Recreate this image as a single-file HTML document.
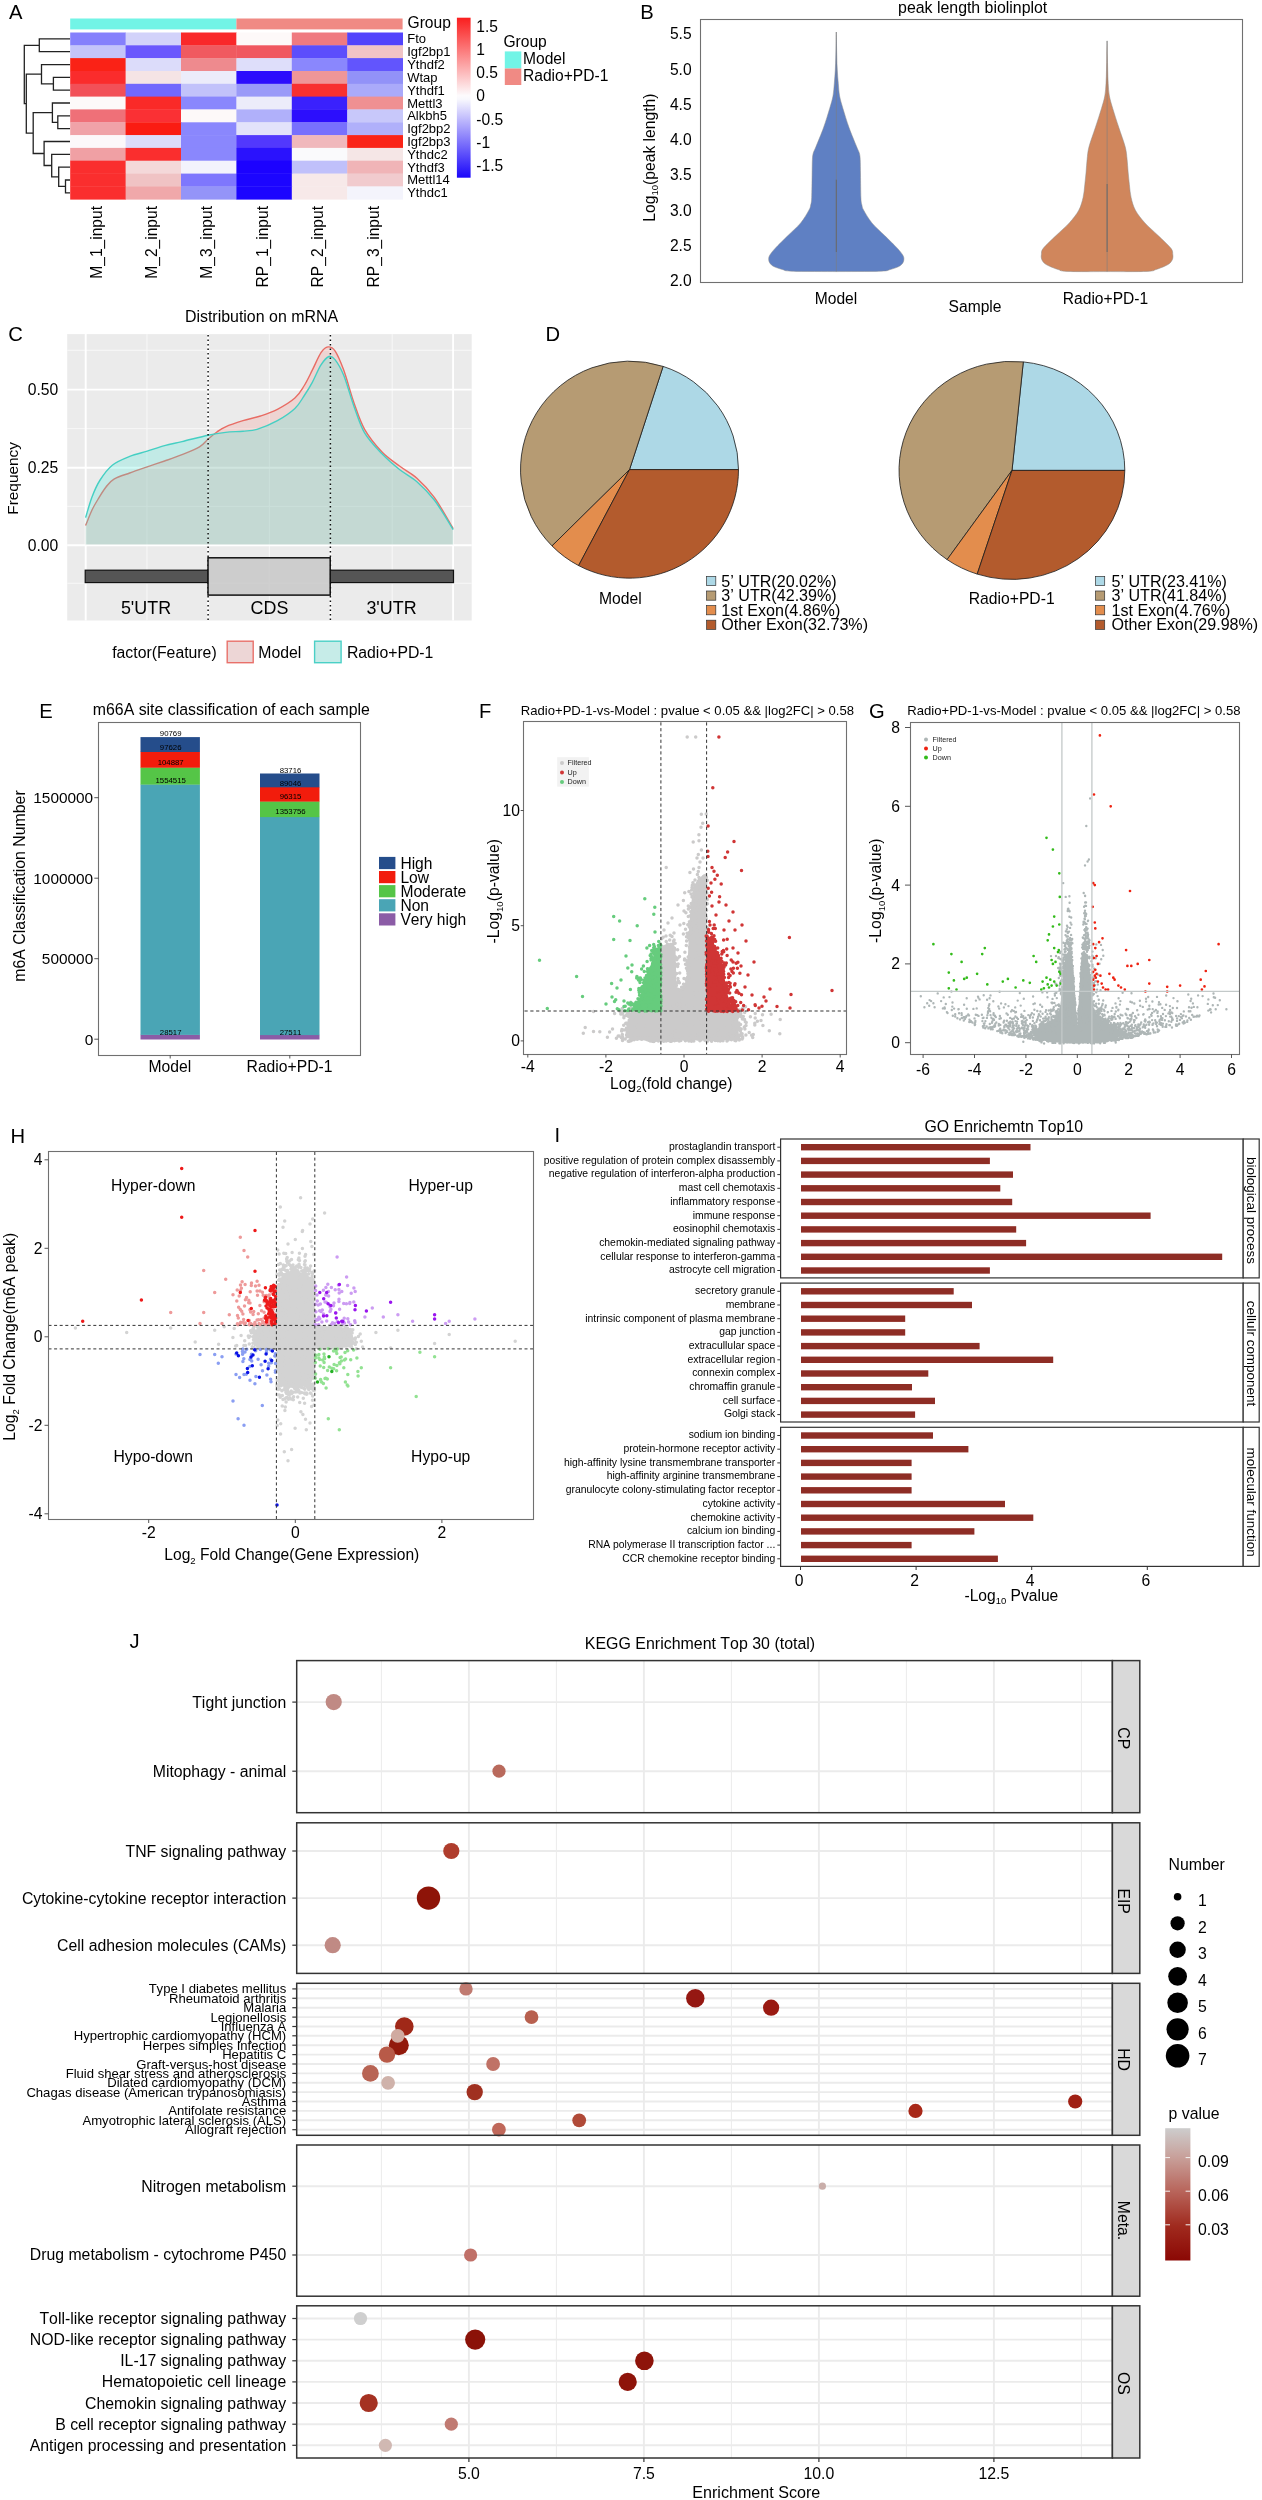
<!DOCTYPE html>
<html><head><meta charset="utf-8"><style>
html,body{margin:0;padding:0;background:#fff;}
svg{display:block;filter:blur(0.35px);font-family:"Liberation Sans",sans-serif;font-kerning:none;font-variant-ligatures:none;}
</style></head><body>
<svg width="1262" height="2500" viewBox="0 0 1262 2500">
<rect width="1262" height="2500" fill="#fff"/>
<text x="8.9" y="18.6" font-size="20.2">A</text>
<rect x="70.2" y="18.5" width="166.2" height="10.9" fill="#72f4e6"/>
<rect x="236.4" y="18.5" width="166.2" height="10.9" fill="#f08a84"/>
<rect x="70.2" y="32.5" width="55.8" height="13.2" fill="#8580fc"/>
<rect x="125.6" y="32.5" width="55.8" height="13.2" fill="#d2d2fa"/>
<rect x="181" y="32.5" width="55.8" height="13.2" fill="#f9282a"/>
<rect x="236.4" y="32.5" width="55.8" height="13.2" fill="#fdf9f9"/>
<rect x="291.8" y="32.5" width="55.8" height="13.2" fill="#ef7a80"/>
<rect x="347.2" y="32.5" width="55.8" height="13.2" fill="#5243fc"/>
<rect x="70.2" y="45.3" width="55.8" height="13.2" fill="#c4c4fa"/>
<rect x="125.6" y="45.3" width="55.8" height="13.2" fill="#6a57fd"/>
<rect x="181" y="45.3" width="55.8" height="13.2" fill="#f05a60"/>
<rect x="236.4" y="45.3" width="55.8" height="13.2" fill="#f05860"/>
<rect x="291.8" y="45.3" width="55.8" height="13.2" fill="#5c4efc"/>
<rect x="347.2" y="45.3" width="55.8" height="13.2" fill="#f1c4c6"/>
<rect x="70.2" y="58.1" width="55.8" height="13.2" fill="#fa2216"/>
<rect x="125.6" y="58.1" width="55.8" height="13.2" fill="#dcdcfa"/>
<rect x="181" y="58.1" width="55.8" height="13.2" fill="#ee8a8e"/>
<rect x="236.4" y="58.1" width="55.8" height="13.2" fill="#dedefa"/>
<rect x="291.8" y="58.1" width="55.8" height="13.2" fill="#8a87fd"/>
<rect x="347.2" y="58.1" width="55.8" height="13.2" fill="#6255fd"/>
<rect x="70.2" y="71" width="55.8" height="13.2" fill="#fa2c2c"/>
<rect x="125.6" y="71" width="55.8" height="13.2" fill="#f5e4e5"/>
<rect x="181" y="71" width="55.8" height="13.2" fill="#ececfa"/>
<rect x="236.4" y="71" width="55.8" height="13.2" fill="#2c0dfd"/>
<rect x="291.8" y="71" width="55.8" height="13.2" fill="#ef9698"/>
<rect x="347.2" y="71" width="55.8" height="13.2" fill="#9292f8"/>
<rect x="70.2" y="83.8" width="55.8" height="13.2" fill="#f25058"/>
<rect x="125.6" y="83.8" width="55.8" height="13.2" fill="#7268fd"/>
<rect x="181" y="83.8" width="55.8" height="13.2" fill="#c2c2fa"/>
<rect x="236.4" y="83.8" width="55.8" height="13.2" fill="#9a9af8"/>
<rect x="291.8" y="83.8" width="55.8" height="13.2" fill="#f83030"/>
<rect x="347.2" y="83.8" width="55.8" height="13.2" fill="#aaaafa"/>
<rect x="70.2" y="96.6" width="55.8" height="13.2" fill="#fdf9f9"/>
<rect x="125.6" y="96.6" width="55.8" height="13.2" fill="#fa2a28"/>
<rect x="181" y="96.6" width="55.8" height="13.2" fill="#8a87fd"/>
<rect x="236.4" y="96.6" width="55.8" height="13.2" fill="#ececfa"/>
<rect x="291.8" y="96.6" width="55.8" height="13.2" fill="#3a21fd"/>
<rect x="347.2" y="96.6" width="55.8" height="13.2" fill="#ef9092"/>
<rect x="70.2" y="109.4" width="55.8" height="13.2" fill="#ef7078"/>
<rect x="125.6" y="109.4" width="55.8" height="13.2" fill="#fa3034"/>
<rect x="181" y="109.4" width="55.8" height="13.2" fill="#fdf9f9"/>
<rect x="236.4" y="109.4" width="55.8" height="13.2" fill="#b0b0fa"/>
<rect x="291.8" y="109.4" width="55.8" height="13.2" fill="#2c0efd"/>
<rect x="347.2" y="109.4" width="55.8" height="13.2" fill="#c8c8fa"/>
<rect x="70.2" y="122.3" width="55.8" height="13.2" fill="#f0a2a8"/>
<rect x="125.6" y="122.3" width="55.8" height="13.2" fill="#fa1c12"/>
<rect x="181" y="122.3" width="55.8" height="13.2" fill="#8a87fd"/>
<rect x="236.4" y="122.3" width="55.8" height="13.2" fill="#e2e2fa"/>
<rect x="291.8" y="122.3" width="55.8" height="13.2" fill="#7870fd"/>
<rect x="347.2" y="122.3" width="55.8" height="13.2" fill="#b0b0fa"/>
<rect x="70.2" y="135.1" width="55.8" height="13.2" fill="#fcf8fa"/>
<rect x="125.6" y="135.1" width="55.8" height="13.2" fill="#dcdcfa"/>
<rect x="181" y="135.1" width="55.8" height="13.2" fill="#8a87fd"/>
<rect x="236.4" y="135.1" width="55.8" height="13.2" fill="#5238fd"/>
<rect x="291.8" y="135.1" width="55.8" height="13.2" fill="#f0b8bc"/>
<rect x="347.2" y="135.1" width="55.8" height="13.2" fill="#fa2418"/>
<rect x="70.2" y="147.9" width="55.8" height="13.2" fill="#f0a0a4"/>
<rect x="125.6" y="147.9" width="55.8" height="13.2" fill="#fa2e2e"/>
<rect x="181" y="147.9" width="55.8" height="13.2" fill="#8a87fd"/>
<rect x="236.4" y="147.9" width="55.8" height="13.2" fill="#2a12fd"/>
<rect x="291.8" y="147.9" width="55.8" height="13.2" fill="#fafafc"/>
<rect x="347.2" y="147.9" width="55.8" height="13.2" fill="#f5e6e6"/>
<rect x="70.2" y="160.7" width="55.8" height="13.2" fill="#fa2e2e"/>
<rect x="125.6" y="160.7" width="55.8" height="13.2" fill="#f4d8d9"/>
<rect x="181" y="160.7" width="55.8" height="13.2" fill="#f3f3fc"/>
<rect x="236.4" y="160.7" width="55.8" height="13.2" fill="#1c02ff"/>
<rect x="291.8" y="160.7" width="55.8" height="13.2" fill="#c0c0fa"/>
<rect x="347.2" y="160.7" width="55.8" height="13.2" fill="#f0b4b7"/>
<rect x="70.2" y="173.6" width="55.8" height="13.2" fill="#fa2e2e"/>
<rect x="125.6" y="173.6" width="55.8" height="13.2" fill="#f0c3c4"/>
<rect x="181" y="173.6" width="55.8" height="13.2" fill="#7e77fd"/>
<rect x="236.4" y="173.6" width="55.8" height="13.2" fill="#1c05ff"/>
<rect x="291.8" y="173.6" width="55.8" height="13.2" fill="#f7e9e9"/>
<rect x="347.2" y="173.6" width="55.8" height="13.2" fill="#f1cbce"/>
<rect x="70.2" y="186.4" width="55.8" height="13.2" fill="#fa2e2e"/>
<rect x="125.6" y="186.4" width="55.8" height="13.2" fill="#f0a8aa"/>
<rect x="181" y="186.4" width="55.8" height="13.2" fill="#9494f8"/>
<rect x="236.4" y="186.4" width="55.8" height="13.2" fill="#1c05ff"/>
<rect x="291.8" y="186.4" width="55.8" height="13.2" fill="#f7e9e9"/>
<rect x="347.2" y="186.4" width="55.8" height="13.2" fill="#f4f4fc"/>
<text x="407.2" y="43.4" font-size="13">Fto</text>
<text x="407.2" y="56.2" font-size="13">Igf2bp1</text>
<text x="407.2" y="69" font-size="13">Ythdf2</text>
<text x="407.2" y="81.9" font-size="13">Wtap</text>
<text x="407.2" y="94.7" font-size="13">Ythdf1</text>
<text x="407.2" y="107.5" font-size="13">Mettl3</text>
<text x="407.2" y="120.3" font-size="13">Alkbh5</text>
<text x="407.2" y="133.1" font-size="13">Igf2bp2</text>
<text x="407.2" y="146" font-size="13">Igf2bp3</text>
<text x="407.2" y="158.8" font-size="13">Ythdc2</text>
<text x="407.2" y="171.6" font-size="13">Ythdf3</text>
<text x="407.2" y="184.4" font-size="13">Mettl14</text>
<text x="407.2" y="197.3" font-size="13">Ythdc1</text>
<text x="407.5" y="28.2" font-size="15.6">Group</text>
<path d="M70 38.9H39.3V51.7H70M70 77.4H53.4V90.2H70M70 64.6H41.5V83.8H53.4M70 115.8H57.8V128.7H70M70 103H52.4V122.3H57.8M70 180H65.5V192.8H70M70 167.1H58.7V186.4H65.5M70 154.3H51.7V176.8H58.7M70 141.5H44.1V165.5H51.7M52.4 112.6H33.2V153.5H44.1M41.5 74.2H26.3V133.1H33.2M39.3 45.3H24.3V103.6H26.3" fill="none" stroke="#222" stroke-width="1.3"/>
<defs><linearGradient id="hmg" x1="0" y1="0" x2="0" y2="1"><stop offset="0" stop-color="#fa1e1e"/><stop offset="0.487" stop-color="#fdfbfd"/><stop offset="0.51" stop-color="#f8f8fd"/><stop offset="1" stop-color="#1a06fa"/></linearGradient></defs>
<rect x="456.9" y="17.7" width="13.7" height="160" fill="url(#hmg)"/>
<text x="476.3" y="31.6" font-size="15.6">1.5</text>
<text x="476.3" y="54.8" font-size="15.6">1</text>
<text x="476.3" y="78" font-size="15.6">0.5</text>
<text x="476.3" y="101.3" font-size="15.6">0</text>
<text x="476.3" y="124.5" font-size="15.6">-0.5</text>
<text x="476.3" y="147.7" font-size="15.6">-1</text>
<text x="476.3" y="170.9" font-size="15.6">-1.5</text>
<text x="503.4" y="46.8" font-size="15.6">Group</text>
<rect x="504.8" y="51.4" width="16.5" height="17.1" fill="#72f4e6"/>
<rect x="504.8" y="68.5" width="16.5" height="16.5" fill="#f08a84"/>
<text x="523" y="63.6" font-size="15.6">Model</text>
<text x="523" y="81.2" font-size="15.6">Radio+PD-1</text>
<text transform="translate(101.6 206) rotate(-90)" font-size="15.58" text-anchor="end">M_1_input</text>
<text transform="translate(157 206) rotate(-90)" font-size="15.58" text-anchor="end">M_2_input</text>
<text transform="translate(212.4 206) rotate(-90)" font-size="15.58" text-anchor="end">M_3_input</text>
<text transform="translate(267.8 206) rotate(-90)" font-size="15.58" text-anchor="end">RP_1_input</text>
<text transform="translate(323.2 206) rotate(-90)" font-size="15.58" text-anchor="end">RP_2_input</text>
<text transform="translate(378.6 206) rotate(-90)" font-size="15.58" text-anchor="end">RP_3_input</text>
<text x="640.2" y="19" font-size="20.2">B</text>
<text x="972.7" y="12.7" font-size="15.89" text-anchor="middle">peak length biolinplot</text>
<rect x="700.5" y="19.5" width="542" height="263" fill="none" stroke="#707070" stroke-width="1.1"/>
<text x="691.6" y="286.4" font-size="15.6" text-anchor="end">2.0</text>
<text x="691.6" y="251" font-size="15.6" text-anchor="end">2.5</text>
<text x="691.6" y="215.7" font-size="15.6" text-anchor="end">3.0</text>
<text x="691.6" y="180.4" font-size="15.6" text-anchor="end">3.5</text>
<text x="691.6" y="145.1" font-size="15.6" text-anchor="end">4.0</text>
<text x="691.6" y="109.8" font-size="15.6" text-anchor="end">4.5</text>
<text x="691.6" y="74.5" font-size="15.6" text-anchor="end">5.0</text>
<text x="691.6" y="39.2" font-size="15.6" text-anchor="end">5.5</text>
<text transform="translate(654.7 157.6) rotate(-90)" font-size="15.69" text-anchor="middle">Log<tspan font-size="9.5" dy="3">10</tspan><tspan dy="-3">(peak length)</tspan></text>
<path d="M836.3 32C836.3 34.2 836.1 40.8 836 45C836 49.2 835.9 52.8 835.8 57C835.7 61.2 835.5 65.6 835.3 70C835 74.4 834.7 79.1 834.3 83.4C833.9 87.7 833.8 91.8 833 96C832.2 100.2 831.2 103.4 829.6 108.7C828 114 825.8 121.4 823.5 127.8C821.2 134.2 817.6 142.6 815.9 146.8C814.2 151 813.9 150.9 813.3 153C812.7 155.1 812.6 155.8 812.4 159.5C812.2 163.2 812.2 168.7 812.1 175C812 181.3 811.9 192.5 811.7 197.5C811.5 202.5 811.2 202.9 810.7 205C810.2 207.1 810.6 207.2 808.9 210.2C807.2 213.2 804.2 218.7 800.7 222.9C797.2 227.1 792.2 231.3 788 235.5C783.8 239.7 778.3 244.9 775.3 248.2C772.3 251.4 771 253.2 769.9 255C768.8 256.8 768.7 257.7 768.7 259C768.7 260.3 768.9 261.8 769.8 263C770.6 264.2 771.7 265.4 773.8 266.5C775.9 267.6 779.3 268.7 782.3 269.5C785.3 270.3 782.8 270.8 791.8 271.2C800.8 271.6 828.9 271.5 836.3 271.6L836.3 271.6C843.7 271.5 871.8 271.6 880.8 271.2C889.8 270.8 887.3 270.3 890.3 269.5C893.3 268.7 896.7 267.6 898.8 266.5C900.9 265.4 901.9 264.2 902.8 263C903.6 261.8 903.9 260.3 903.9 259C903.9 257.7 903.8 256.8 902.7 255C901.6 253.2 900.3 251.4 897.3 248.2C894.3 244.9 888.8 239.7 884.6 235.5C880.4 231.3 875.4 227.1 871.9 222.9C868.4 218.7 865.4 213.2 863.7 210.2C862 207.2 862.4 207.1 861.9 205C861.4 202.9 861.1 202.5 860.9 197.5C860.7 192.5 860.6 181.3 860.5 175C860.4 168.7 860.4 163.2 860.2 159.5C860 155.8 859.9 155.1 859.3 153C858.7 150.9 858.4 151 856.7 146.8C855 142.6 851.4 134.2 849.1 127.8C846.8 121.4 844.6 114 843 108.7C841.4 103.4 840.4 100.2 839.6 96C838.8 91.8 838.7 87.7 838.3 83.4C837.9 79.1 837.5 74.4 837.3 70C837 65.6 836.9 61.2 836.8 57C836.7 52.8 836.6 49.2 836.5 45C836.5 40.8 836.3 34.2 836.3 32Z" fill="#5f80c3" stroke="#8a8a8a" stroke-width="0.5"/>
<path d="M1107.1 40.9C1107.1 43.2 1106.9 50.1 1106.8 55C1106.8 59.9 1106.6 65.3 1106.5 70C1106.4 74.7 1106.3 79.1 1106 83.4C1105.7 87.7 1105.6 91.8 1104.8 96C1104 100.2 1103 103.4 1101.4 108.7C1099.8 114 1097.4 121.4 1095.3 127.8C1093.2 134.2 1090.4 141.5 1089 146.8C1087.6 152.1 1087.6 155.3 1087.1 159.5C1086.6 163.7 1086.5 167.8 1086.1 172C1085.7 176.2 1085.3 180.6 1084.8 184.8C1084.3 189.1 1084.1 193.3 1083.1 197.5C1082.1 201.7 1081.1 206 1078.8 210.2C1076.5 214.4 1073.1 218.7 1069.3 222.9C1065.5 227.1 1060.4 231.3 1056.1 235.5C1051.8 239.7 1045.8 245 1043.3 248.2C1040.8 251.4 1041.7 252.7 1041.4 254.5C1041.1 256.3 1041.1 257.6 1041.6 259C1042 260.4 1042.8 261.8 1044.1 263C1045.3 264.2 1046.8 264.9 1049.1 266C1051.4 267.1 1055.1 268.6 1058.1 269.5C1061.1 270.4 1058.9 271 1067.1 271.4C1075.3 271.8 1100.4 271.6 1107.1 271.6L1107.1 271.6C1113.8 271.6 1138.9 271.8 1147.1 271.4C1155.3 271 1153.1 270.4 1156.1 269.5C1159.1 268.6 1162.8 267.1 1165.1 266C1167.4 264.9 1168.8 264.2 1170.1 263C1171.3 261.8 1172.1 260.4 1172.6 259C1173 257.6 1173.1 256.3 1172.8 254.5C1172.5 252.7 1173.3 251.4 1170.9 248.2C1168.4 245 1162.4 239.7 1158.1 235.5C1153.8 231.3 1148.7 227.1 1144.9 222.9C1141.1 218.7 1137.7 214.4 1135.4 210.2C1133.1 206 1132.1 201.7 1131.1 197.5C1130.1 193.3 1129.9 189.1 1129.4 184.8C1128.9 180.6 1128.5 176.2 1128.1 172C1127.7 167.8 1127.6 163.7 1127.1 159.5C1126.6 155.3 1126.6 152.1 1125.2 146.8C1123.8 141.5 1121 134.2 1118.9 127.8C1116.8 121.4 1114.4 114 1112.8 108.7C1111.2 103.4 1110.2 100.2 1109.4 96C1108.6 91.8 1108.5 87.7 1108.2 83.4C1107.9 79.1 1107.8 74.7 1107.7 70C1107.6 65.3 1107.4 59.9 1107.3 55C1107.2 50.1 1107.1 43.2 1107.1 40.9Z" fill="#d0865c" stroke="#8a8a8a" stroke-width="0.5"/>
<line x1="836.3" y1="32" x2="836.3" y2="271.6" stroke="#7c7c7c" stroke-width="0.6"/>
<line x1="836.3" y1="179.7" x2="836.3" y2="252" stroke="#666" stroke-width="0.9"/>
<line x1="1107.1" y1="40.9" x2="1107.1" y2="271.6" stroke="#7c7c7c" stroke-width="0.6"/>
<line x1="1107.1" y1="184" x2="1107.1" y2="252" stroke="#666" stroke-width="0.9"/>
<text x="836" y="303.9" font-size="15.6" text-anchor="middle">Model</text>
<text x="1105.5" y="303.9" font-size="15.6" text-anchor="middle">Radio+PD-1</text>
<text x="975" y="312.2" font-size="15.6" text-anchor="middle">Sample</text>
<text x="8.3" y="340.7" font-size="20.2">C</text>
<text x="261.5" y="321.7" font-size="15.94" text-anchor="middle">Distribution on mRNA</text>
<rect x="67.2" y="334.1" width="404.5" height="286.4" fill="#ebebeb"/>
<line x1="147" y1="334.1" x2="147" y2="620.5" stroke="#f8f8f8" stroke-width="1.0"/>
<line x1="269.4" y1="334.1" x2="269.4" y2="620.5" stroke="#f8f8f8" stroke-width="1.0"/>
<line x1="392.2" y1="334.1" x2="392.2" y2="620.5" stroke="#f8f8f8" stroke-width="1.0"/>
<line x1="67.2" y1="350.3" x2="471.7" y2="350.3" stroke="#f8f8f8" stroke-width="1.0"/>
<line x1="67.2" y1="428.6" x2="471.7" y2="428.6" stroke="#f8f8f8" stroke-width="1.0"/>
<line x1="67.2" y1="506.4" x2="471.7" y2="506.4" stroke="#f8f8f8" stroke-width="1.0"/>
<line x1="67.2" y1="583.3" x2="471.7" y2="583.3" stroke="#f8f8f8" stroke-width="1.0"/>
<line x1="85.7" y1="334.1" x2="85.7" y2="620.5" stroke="#ffffff" stroke-width="1.9"/>
<line x1="208.1" y1="334.1" x2="208.1" y2="620.5" stroke="#ffffff" stroke-width="1.9"/>
<line x1="330.5" y1="334.1" x2="330.5" y2="620.5" stroke="#ffffff" stroke-width="1.9"/>
<line x1="453.1" y1="334.1" x2="453.1" y2="620.5" stroke="#ffffff" stroke-width="1.9"/>
<line x1="67.2" y1="389.6" x2="471.7" y2="389.6" stroke="#ffffff" stroke-width="1.9"/>
<line x1="67.2" y1="467.7" x2="471.7" y2="467.7" stroke="#ffffff" stroke-width="1.9"/>
<line x1="67.2" y1="545.3" x2="471.7" y2="545.3" stroke="#ffffff" stroke-width="1.9"/>
<path d="M85.6 525.6C86.7 523 89.8 514.6 92 510C94.2 505.4 96.6 501.6 98.9 497.8C101.2 494 103.5 490.1 106 487C108.5 483.9 110 481.4 114 479.1C118 476.8 124.2 475 129.7 473C135.2 471 141.4 468.9 147.2 466.9C153 464.9 158.8 463 164.6 461C170.4 459 176.2 457.1 182 454.7C187.8 452.3 195.1 449.5 199.5 446.9C203.9 444.3 205.3 441.5 208.2 439C211.1 436.5 214 434 216.9 432C219.8 430 221.2 428.7 225.6 426.8C229.9 424.9 237.2 422.5 243 420.7C248.8 418.9 254.8 417.9 260.5 416C266.2 414.1 271.7 412.3 277.4 409.3C283.1 406.3 290.5 401.9 294.9 398C299.3 394.1 301.1 390.6 304 386C306.9 381.4 309.5 375.7 312.3 370.1C315.1 364.6 318.4 356.6 321 352.7C323.6 348.8 325.7 347.2 328 346.9C330.3 346.6 332.4 347 335 350.9C337.6 354.8 340.5 361.4 343.7 370.1C346.9 378.8 350.6 393.3 354.1 403.2C357.6 413.1 360 421.3 364.6 429.4C369.2 437.5 376.2 445.9 382 452C387.8 458.1 393.7 461.6 399.5 466C405.3 470.4 411.1 473 416.9 478.2C422.7 483.4 428.2 489 434.3 497.4C440.4 505.8 450.1 523.5 453.2 528.7L453.2 544.6L85.6 544.6Z" fill="rgba(248,118,109,0.2)"/>
<path d="M85.6 525.6C86.7 523 89.8 514.6 92 510C94.2 505.4 96.6 501.6 98.9 497.8C101.2 494 103.5 490.1 106 487C108.5 483.9 110 481.4 114 479.1C118 476.8 124.2 475 129.7 473C135.2 471 141.4 468.9 147.2 466.9C153 464.9 158.8 463 164.6 461C170.4 459 176.2 457.1 182 454.7C187.8 452.3 195.1 449.5 199.5 446.9C203.9 444.3 205.3 441.5 208.2 439C211.1 436.5 214 434 216.9 432C219.8 430 221.2 428.7 225.6 426.8C229.9 424.9 237.2 422.5 243 420.7C248.8 418.9 254.8 417.9 260.5 416C266.2 414.1 271.7 412.3 277.4 409.3C283.1 406.3 290.5 401.9 294.9 398C299.3 394.1 301.1 390.6 304 386C306.9 381.4 309.5 375.7 312.3 370.1C315.1 364.6 318.4 356.6 321 352.7C323.6 348.8 325.7 347.2 328 346.9C330.3 346.6 332.4 347 335 350.9C337.6 354.8 340.5 361.4 343.7 370.1C346.9 378.8 350.6 393.3 354.1 403.2C357.6 413.1 360 421.3 364.6 429.4C369.2 437.5 376.2 445.9 382 452C387.8 458.1 393.7 461.6 399.5 466C405.3 470.4 411.1 473 416.9 478.2C422.7 483.4 428.2 489 434.3 497.4C440.4 505.8 450.1 523.5 453.2 528.7" fill="none" stroke="#e86c64" stroke-width="1.4"/>
<path d="M85.6 517.6C86.7 514.2 89.6 503.3 92 497C94.4 490.7 96.7 485.3 100.1 480C103.5 474.7 107.4 469.1 112.3 465.2C117.2 461.3 123.9 458.7 129.7 456.4C135.5 454.1 141.4 453 147.2 451.2C153 449.4 158.8 447.2 164.6 445.6C170.4 444 174.7 443.3 182 441.6C189.3 439.9 200.9 436.7 208.2 435.2C215.5 433.7 219.8 433.1 225.6 432.4C231.4 431.7 237.8 431.7 243 431.2C248.2 430.7 251.3 431.1 257 429.4C262.7 427.6 271.1 424.2 277.4 420.7C283.7 417.2 290.5 412.6 294.9 408.5C299.3 404.4 301.1 400.4 304 396C306.9 391.6 309.5 387.5 312.3 382.3C315.1 377.1 318.2 369.2 321 364.9C323.8 360.6 326.6 357.4 328.9 356.5C331.2 355.6 332.5 356.5 335 359.6C337.5 362.7 340.5 367.5 343.7 375.3C346.9 383.1 350.6 397.1 354.1 406.7C357.6 416.3 360 425 364.6 432.9C369.2 440.8 376.2 447.7 382 453.8C387.8 459.9 393.7 464.9 399.5 469.5C405.3 474.1 411.1 476.6 416.9 481.7C422.7 486.8 428.2 492 434.3 500C440.4 508 450.1 524.7 453.2 529.6L453.2 544.6L85.6 544.6Z" fill="rgba(72,232,216,0.25)"/>
<path d="M85.6 517.6C86.7 514.2 89.6 503.3 92 497C94.4 490.7 96.7 485.3 100.1 480C103.5 474.7 107.4 469.1 112.3 465.2C117.2 461.3 123.9 458.7 129.7 456.4C135.5 454.1 141.4 453 147.2 451.2C153 449.4 158.8 447.2 164.6 445.6C170.4 444 174.7 443.3 182 441.6C189.3 439.9 200.9 436.7 208.2 435.2C215.5 433.7 219.8 433.1 225.6 432.4C231.4 431.7 237.8 431.7 243 431.2C248.2 430.7 251.3 431.1 257 429.4C262.7 427.6 271.1 424.2 277.4 420.7C283.7 417.2 290.5 412.6 294.9 408.5C299.3 404.4 301.1 400.4 304 396C306.9 391.6 309.5 387.5 312.3 382.3C315.1 377.1 318.2 369.2 321 364.9C323.8 360.6 326.6 357.4 328.9 356.5C331.2 355.6 332.5 356.5 335 359.6C337.5 362.7 340.5 367.5 343.7 375.3C346.9 383.1 350.6 397.1 354.1 406.7C357.6 416.3 360 425 364.6 432.9C369.2 440.8 376.2 447.7 382 453.8C387.8 459.9 393.7 464.9 399.5 469.5C405.3 474.1 411.1 476.6 416.9 481.7C422.7 486.8 428.2 492 434.3 500C440.4 508 450.1 524.7 453.2 529.6" fill="none" stroke="#45cfc3" stroke-width="1.4"/>
<line x1="208.1" y1="335" x2="208.1" y2="620" stroke="#111" stroke-width="1.5" stroke-dasharray="1.5 3"/>
<line x1="330.4" y1="335" x2="330.4" y2="620" stroke="#111" stroke-width="1.5" stroke-dasharray="1.5 3"/>
<rect x="85.2" y="570.2" width="122.8" height="12.4" fill="#555" stroke="#111" stroke-width="1.2"/>
<rect x="330.2" y="570.2" width="123.3" height="12.4" fill="#555" stroke="#111" stroke-width="1.2"/>
<rect x="208" y="557.8" width="122.2" height="37.3" fill="rgba(200,200,200,0.85)" stroke="#111" stroke-width="1.5"/>
<text x="146" y="613.7" font-size="17.9" text-anchor="middle">5'UTR</text>
<text x="269.5" y="613.7" font-size="17.9" text-anchor="middle">CDS</text>
<text x="391.5" y="613.7" font-size="17.9" text-anchor="middle">3'UTR</text>
<text x="58.3" y="395" font-size="15.7" text-anchor="end">0.50</text>
<text x="58.3" y="473.1" font-size="15.7" text-anchor="end">0.25</text>
<text x="58.3" y="550.7" font-size="15.7" text-anchor="end">0.00</text>
<text transform="translate(17.8 478.4) rotate(-90)" font-size="15.38" text-anchor="middle">Frequency</text>
<text x="112.2" y="657.9" font-size="15.8">factor(Feature)</text>
<rect x="227.2" y="641.2" width="26" height="21.5" fill="#edd6d6" stroke="#e8706a" stroke-width="1.4"/>
<text x="258.3" y="657.9" font-size="15.8">Model</text>
<rect x="314.6" y="641.2" width="26.5" height="21.5" fill="#c6ece8" stroke="#4ad0c6" stroke-width="1.4"/>
<text x="346.9" y="657.9" font-size="15.8">Radio+PD-1</text>
<text x="545.6" y="341.2" font-size="20.2">D</text>
<path d="M629.5 469.6L738.5 469.6A109 108.5 0 0 0 663.1 366.4Z" fill="#add8e6" stroke="#1a1a1a" stroke-width="0.8"/>
<path d="M629.5 469.6L663.1 366.4A109 108.5 0 0 0 552 545.9Z" fill="#b69b73" stroke="#1a1a1a" stroke-width="0.8"/>
<path d="M629.5 469.6L552 545.9A109 108.5 0 0 0 578.6 565.6Z" fill="#e38d4d" stroke="#1a1a1a" stroke-width="0.8"/>
<path d="M629.5 469.6L578.6 565.6A109 108.5 0 0 0 738.5 469.6Z" fill="#b35b2d" stroke="#1a1a1a" stroke-width="0.8"/>
<path d="M1012 470.4L1124.8 470.4A112.8 109 0 0 0 1023.3 361.9Z" fill="#add8e6" stroke="#1a1a1a" stroke-width="0.8"/>
<path d="M1012 470.4L1023.3 361.9A112.8 109 0 0 0 947.1 559.6Z" fill="#b69b73" stroke="#1a1a1a" stroke-width="0.8"/>
<path d="M1012 470.4L947.1 559.6A112.8 109 0 0 0 977.2 574.1Z" fill="#e38d4d" stroke="#1a1a1a" stroke-width="0.8"/>
<path d="M1012 470.4L977.2 574.1A112.8 109 0 0 0 1124.8 470.4Z" fill="#b35b2d" stroke="#1a1a1a" stroke-width="0.8"/>
<text x="620.4" y="604.4" font-size="15.7" text-anchor="middle">Model</text>
<text x="1011.7" y="604.4" font-size="15.7" text-anchor="middle">Radio+PD-1</text>
<rect x="706.6" y="576.4" width="9.2" height="9.2" fill="#add8e6" stroke="#333" stroke-width="0.7"/>
<text x="721.3" y="586.5" font-size="16.1">5’ UTR(20.02%)</text>
<rect x="1095.5" y="576.4" width="9.2" height="9.2" fill="#add8e6" stroke="#333" stroke-width="0.7"/>
<text x="1111.5" y="586.5" font-size="16.1">5’ UTR(23.41%)</text>
<rect x="706.6" y="591" width="9.2" height="9.2" fill="#b69b73" stroke="#333" stroke-width="0.7"/>
<text x="721.3" y="601.1" font-size="16.1">3’ UTR(42.39%)</text>
<rect x="1095.5" y="591" width="9.2" height="9.2" fill="#b69b73" stroke="#333" stroke-width="0.7"/>
<text x="1111.5" y="601.1" font-size="16.1">3’ UTR(41.84%)</text>
<rect x="706.6" y="605.6" width="9.2" height="9.2" fill="#e38d4d" stroke="#333" stroke-width="0.7"/>
<text x="721.3" y="615.7" font-size="16.1">1st Exon(4.86%)</text>
<rect x="1095.5" y="605.6" width="9.2" height="9.2" fill="#e38d4d" stroke="#333" stroke-width="0.7"/>
<text x="1111.5" y="615.7" font-size="16.1">1st Exon(4.76%)</text>
<rect x="706.6" y="620.2" width="9.2" height="9.2" fill="#b35b2d" stroke="#333" stroke-width="0.7"/>
<text x="721.3" y="630.3" font-size="16.1">Other Exon(32.73%)</text>
<rect x="1095.5" y="620.2" width="9.2" height="9.2" fill="#b35b2d" stroke="#333" stroke-width="0.7"/>
<text x="1111.5" y="630.3" font-size="16.1">Other Exon(29.98%)</text>
<text x="39.2" y="718" font-size="20.2">E</text>
<text x="231.3" y="715.2" font-size="15.89" text-anchor="middle">m66A site classification of each sample</text>
<rect x="98.5" y="722.5" width="262" height="333" fill="none" stroke="#707070" stroke-width="1.1"/>
<text x="93.2" y="1044.5" font-size="15.4" text-anchor="end">0</text>
<line x1="94.3" y1="1039.2" x2="99" y2="1039.2" stroke="#555" stroke-width="1"/>
<text x="93.2" y="964" font-size="15.4" text-anchor="end">500000</text>
<line x1="94.3" y1="958.7" x2="99" y2="958.7" stroke="#555" stroke-width="1"/>
<text x="93.2" y="883.5" font-size="15.4" text-anchor="end">1000000</text>
<line x1="94.3" y1="878.2" x2="99" y2="878.2" stroke="#555" stroke-width="1"/>
<text x="93.2" y="803" font-size="15.4" text-anchor="end">1500000</text>
<line x1="94.3" y1="797.7" x2="99" y2="797.7" stroke="#555" stroke-width="1"/>
<text transform="translate(24.5 886) rotate(-90)" font-size="15.89" text-anchor="middle">m6A Classification Number</text>
<rect x="140.5" y="1034.6" width="59.4" height="4.9" fill="#8b5ca6"/>
<rect x="140.5" y="784.3" width="59.4" height="250.6" fill="#4aa5b5"/>
<rect x="140.5" y="767.4" width="59.4" height="17.2" fill="#55c547"/>
<rect x="140.5" y="751.7" width="59.4" height="16" fill="#f21c0c"/>
<rect x="140.5" y="737.1" width="59.4" height="14.9" fill="#254d8b"/>
<line x1="170.2" y1="1055" x2="170.2" y2="1058.5" stroke="#555" stroke-width="1"/>
<rect x="260" y="1034.8" width="59.5" height="4.7" fill="#8b5ca6"/>
<rect x="260" y="816.8" width="59.5" height="218.3" fill="#4aa5b5"/>
<rect x="260" y="801.3" width="59.5" height="15.8" fill="#55c547"/>
<rect x="260" y="787" width="59.5" height="14.6" fill="#f21c0c"/>
<rect x="260" y="773.5" width="59.5" height="13.8" fill="#254d8b"/>
<line x1="289.8" y1="1055" x2="289.8" y2="1058.5" stroke="#555" stroke-width="1"/>
<text x="170.7" y="735.9" font-size="7.8" text-anchor="middle">90769</text>
<text x="170.7" y="750.4" font-size="7.8" text-anchor="middle">97626</text>
<text x="170.7" y="764.7" font-size="7.8" text-anchor="middle">104887</text>
<text x="170.7" y="782.6" font-size="7.8" text-anchor="middle">1554515</text>
<text x="170.7" y="1035" font-size="7.8" text-anchor="middle">28517</text>
<text x="290.5" y="772.8" font-size="7.8" text-anchor="middle">83716</text>
<text x="290.5" y="785.8" font-size="7.8" text-anchor="middle">89046</text>
<text x="290.5" y="798.5" font-size="7.8" text-anchor="middle">96315</text>
<text x="290.5" y="814.3" font-size="7.8" text-anchor="middle">1353756</text>
<text x="290.5" y="1035" font-size="7.8" text-anchor="middle">27511</text>
<text x="169.8" y="1072" font-size="15.7" text-anchor="middle">Model</text>
<text x="289.5" y="1072" font-size="15.7" text-anchor="middle">Radio+PD-1</text>
<rect x="379" y="856.9" width="16.4" height="12.2" fill="#254d8b"/>
<text x="400.4" y="868.5" font-size="15.6">High</text>
<rect x="379" y="871" width="16.4" height="12.2" fill="#f21c0c"/>
<text x="400.4" y="882.6" font-size="15.6">Low</text>
<rect x="379" y="885.1" width="16.4" height="12.2" fill="#55c547"/>
<text x="400.4" y="896.7" font-size="15.6">Moderate</text>
<rect x="379" y="899.2" width="16.4" height="12.2" fill="#4aa5b5"/>
<text x="400.4" y="910.8" font-size="15.6">Non</text>
<rect x="379" y="913.3" width="16.4" height="12.2" fill="#8b5ca6"/>
<text x="400.4" y="924.9" font-size="15.6">Very high</text>
<text x="478.9" y="718" font-size="20.2">F</text>
<text x="687.4" y="715.2" font-size="13.1" text-anchor="middle">Radio+PD-1-vs-Model : pvalue &lt; 0.05 &amp;&amp; |log2FC| &gt; 0.58</text>
<rect x="523.5" y="721.5" width="323" height="333" fill="none" stroke="#707070" stroke-width="1.1"/>
<path d="M631 1011L738 1011L739 1040.3L630 1040.3Z" fill="#cbcaca"/>
<path d="M661 1011L661 948L665 944.5L671 944.5L675.5 948L676.5 987L683 989.5L686.5 978L688 955L689 928L691 905L693 890L697 880L703 875L706.5 873L706.5 1011Z" fill="#cbcaca"/>
<path d="M710.2 1001.2h0M739.1 1024.1h0M721.5 1013.4h0M629.6 1016.7h0M643.4 1038h0M674 1010.3h0M703.4 1004.3h0M646.4 1012.8h0M642.3 1007.2h0M726.8 1012.3h0M643.2 1038.4h0M743.1 1009.5h0M628 1028.1h0M737.7 1038.3h0M711.6 1041.3h0M628.7 1033.1h0M735 1037.8h0M669.7 1038.2h0M654.6 1010.4h0M670.3 1041.2h0M629.4 1010.8h0M656.6 1037.8h0M737.8 1024.4h0M660.2 1009.2h0M639.2 1009.9h0M648.9 1038.5h0M714.6 1012.8h0M671.6 1035.5h0M630.7 1002.3h0M679.5 1039.8h0M675.2 1031h0M725 1012.8h0M739.2 1038.7h0M701 1011.4h0M716.3 1012.7h0M738.5 1028.3h0M628.1 1030.8h0M713.3 1014.8h0M717.5 1001.7h0M643.2 1012.3h0M631.6 1027.9h0M681.6 1010.2h0M701 1040h0M657.7 1040.3h0M692.8 1008.4h0M735.2 1014h0M626.5 1028.1h0M637.1 1038.8h0M704.3 1012.1h0M647.3 1039.8h0M687.4 1039.8h0M637.4 1038.5h0M646.9 1011.5h0M705.5 1011.7h0M629 1013.4h0M630.9 1024.6h0M658.4 1041.1h0M728.4 1033.9h0M693 1023.4h0M652.1 1009.7h0M630.6 1035.1h0M622.3 1008.6h0M707.3 1038.3h0M718.8 1039.1h0M738.4 1027h0M737.7 1038h0M697.5 1039.1h0M688 1011.7h0M647.5 1038.8h0M737.5 1015.4h0M737.3 1009.4h0M642.1 1011.5h0M706.4 1041.1h0M696.5 1011.2h0M629.6 1014.2h0M684.5 1008.6h0M676.6 1040.2h0M683.1 1010.8h0M687.9 1013.1h0M640.8 1012.6h0M666.5 1010.5h0M719.5 1038.1h0M648.6 1012.5h0M691.4 1011.9h0M668.7 1040.6h0M664.2 1008.8h0M713.1 1013.3h0M666 1007.2h0M665.8 1039.8h0M661.3 1040.1h0M712 1012.9h0M740.2 1010.5h0M733.5 1011.5h0M630.4 1017.2h0M691.6 1036.3h0M736.6 1029.2h0M708.5 1011.5h0M656 1038.9h0M689 1011.6h0M633 1023.1h0M662.4 1039.5h0M707 1011.3h0M634 1016.6h0M700.2 1039.8h0M634 1016.3h0M654.4 1011.1h0M665.7 1039.2h0M659.2 1026.4h0M723.4 1038.2h0M728.1 1039.9h0M716.6 1010.3h0M660.7 1039.2h0M703.6 1010.3h0M683.3 1011.5h0M712.6 1012.4h0M714.8 1009.5h0M635.2 1005.2h0M669.6 1038.6h0M707.4 1012h0M672.7 1006h0M705.3 1010.6h0M670.5 1038.5h0M700.9 1038.6h0M715.2 1040.4h0M726.9 1038.1h0M652.7 1005h0M671.2 1010.9h0M648.6 1038.9h0M686.7 1039.2h0M653.9 1041.4h0M708.4 1003.6h0M727 1041h0M718.1 1029.9h0M744.9 1028.9h0M729.6 1005.6h0M649.1 1012.9h0M739 1023.3h0M648.8 1039.1h0M631.6 1015.3h0M631 1040.8h0M634.1 1039.8h0M734.2 1007.5h0M666.2 1041h0M664.4 1011.4h0M631.6 1029.1h0M621.9 1029.4h0M688.1 1008.8h0M628.5 1025h0M662.3 1011.7h0M705 1012.9h0M687.5 1012.6h0M707.7 1041.1h0M723 1040.7h0M696.9 1038.5h0M637.1 1010h0M693.5 1039.6h0M659.2 1039.5h0M679.9 1009.2h0M641 1038.2h0M739.5 1011.4h0M656.4 1008.1h0M686.4 1019.2h0M684 1013.3h0M630 1025.5h0M724.4 1011.5h0M740 1035.5h0M724.6 1008.4h0M658.3 1012h0M663.6 1041.2h0M710.3 1039.4h0M720.2 1040.9h0M723.8 1011.2h0M704.9 1040.3h0M743.3 1016.6h0M739.2 1014.5h0M687.5 1025h0M717 1012.3h0M688.2 1009.1h0M660.5 1039.9h0M680.3 1004.6h0M652.2 1041.2h0M707.3 1038.5h0M704.9 1011h0M663.4 1036.9h0M673.3 1039.8h0M626 1030.1h0M712.7 1039.6h0M736.8 1034.4h0M664.9 1039.5h0M628 1015h0M629.4 1041.3h0M732.3 1010.3h0M647.7 1010.9h0M712 1010.5h0M734 1011.1h0M666.4 1011.2h0M623.9 1017.8h0M656.9 1012.9h0M736 1039.2h0M688.9 1041h0M656 1009.2h0M707.7 1010.6h0M714.3 1039.4h0M660.7 1012.8h0M728.1 1008.8h0M727.5 1012.4h0M642.8 1011.6h0M700.4 1038.8h0M643.7 1016.9h0M717.8 1040.8h0M731.4 1039.8h0M737.4 1029.8h0M659.6 1038.5h0M656.2 1040.3h0M702.2 1024h0M681.4 1013h0M662.6 1006.7h0M739.9 1010.1h0M733 1012.3h0M716.9 1039.5h0M630.7 1008h0M667.1 1008.4h0M719 1011h0M655 1037.9h0M628.3 1041.2h0M680.9 1040.5h0M693.8 1041h0M627.2 1013.2h0M687.2 1009.8h0M636.3 1009.5h0M695.4 999.2h0M641.7 1039.3h0M664.9 1011.9h0M740.4 1031h0M742.8 1008.1h0M627.5 1012.1h0M663.3 1011.1h0M637.2 1039.2h0M683 1038.2h0M734.9 1040.4h0M628.8 1036.8h0M663 1004.6h0M728.2 1011.2h0M645.9 1038h0M650.2 1040.9h0M653 1004.5h0M717.3 1039.9h0M685.7 1013.5h0M703 1006.8h0M646.1 1011.1h0M679.5 1009.9h0M648.2 1010.8h0M699 1038h0M699.4 1018.4h0M630.9 1015.3h0M733.2 1038.5h0M707 1012.8h0M740.6 1012.5h0M684 1022.8h0M736.2 1017.6h0M714.7 1012h0M710.4 1010.9h0M629.9 1036h0M637.1 1025.2h0M725.2 1010.5h0M740.8 1013.5h0M626.5 1035.1h0M694.6 1012.1h0M656.5 1039.5h0M695.4 1012.7h0M631.3 1040.4h0M713.8 1011h0M691.5 1011.6h0M699.9 1040.7h0M630 1035h0M665.6 1007.8h0M738.8 1022.9h0M691.5 1041.2h0M697.7 1013.5h0M726.9 1013.7h0M707.5 1011.8h0M650.1 1009h0M709.5 1011.1h0M750.4 1016.8h0M644.1 1013h0M722.5 1012.2h0M685.5 1008.8h0M637.6 1038h0M674.5 1040.8h0M632 1025.2h0M681.8 1038.4h0M627 1011.4h0M720 1011.5h0M627.1 1014.9h0M630.6 1019.2h0M636.8 1012.7h0M680.2 1010h0M691.3 1012.6h0M737.6 1017.5h0M730.4 1012h0M664.3 1011.9h0M628.6 1016.6h0M632.1 1022h0M692 1038h0M628.5 1034.2h0M723.7 1026.5h0M704.6 1008.6h0M640.1 1013.2h0M717.3 1038.5h0M717 1008.3h0M666.5 1038.1h0M719.4 1013.3h0M734.8 1017.5h0M658.5 1010.9h0M652.4 1038.7h0M734 1014.9h0M628.7 1024.2h0M685.4 1040.7h0M633.9 1004.5h0M700.6 1009.5h0M701.5 1004.1h0M698.4 1011.8h0M649.1 1011.7h0M745.5 1006.8h0M682.1 1011.3h0M665 1039.1h0M657.9 1009.1h0M630.2 1031.8h0M630.5 1032.4h0M641 1012.8h0M629.5 1035.5h0M721 1038.2h0M679.2 1041.1h0M630.1 1015.8h0M692.5 1010.9h0M634.8 1013.3h0M678.4 1012.5h0M653.1 1008.6h0M647.3 1012.1h0M726.6 1011.9h0M723.8 1038.5h0M657.6 1040.1h0M652 1039h0M690.5 1008.2h0M735.5 1005.9h0M627.1 1029.4h0M630.4 1037.5h0M684.3 1039.2h0M715.6 1038.3h0M630.1 1020.7h0M667.6 1012h0M657.4 1039.5h0M630.7 1028.6h0M733.1 1013.5h0M735.3 1040.1h0M730.8 1013.3h0M657 1037.9h0M697.7 1033.9h0M656.7 1011.1h0M645.5 1026.2h0M660.2 1038.1h0M718.6 1011h0M633.1 1014.3h0M671.4 1041.3h0M688.5 1038.4h0M726.5 1009.1h0M738.8 1010.5h0M732.2 1011.8h0M636.3 1013.5h0M744.5 1019.6h0M701.8 1008.5h0M629.2 1020.3h0M633 1037.9h0M728.8 1008.5h0M736.4 1024.6h0M630.7 1026.2h0M657.6 1012.4h0M645.5 1039.1h0M664.1 1008.6h0M700 1040.4h0M628.9 1023.1h0M621.9 1011.6h0M694.3 1038.4h0M678.3 1010.4h0M672.9 1010.2h0M690.1 1037.9h0M633.1 1023.5h0M686.7 1005h0M649.3 1040.4h0M644.4 1011.7h0M632.2 1011.8h0M716.1 1038.4h0M639.7 1011.2h0M651.9 1040.1h0M697.5 1038.8h0M738.3 1024.7h0M728.2 1012.8h0M678.8 1013.4h0M677.2 1013h0M706.3 1004.1h0M660.2 1013.5h0M709.6 1013h0M730.5 1012.7h0M705.5 1012.9h0M727.6 1038.2h0M715.3 1033.8h0M688.4 1009.1h0M736 1037.3h0M650.7 1038h0M664.5 1041.1h0M698.3 1038.8h0M735.3 1001.3h0M665.6 1012.1h0M699.2 1018h0M639.4 1006.7h0M708.4 1005.2h0M640.3 1038.4h0M721.1 1040.1h0M651.7 1009h0M730.7 1008.7h0M686.3 945.6h0M705.8 970.3h0M662.7 997.5h0M706.5 904.2h0M704.2 922.8h0M688.1 971.8h0M692.5 906.3h0M695.3 889.5h0M692.9 896.4h0M688.9 891.5h0M683.5 984.2h0M674 963.2h0M667 1022.4h0M688.3 967h0M685.5 964.2h0M661.5 973.5h0M692.3 885.2h0M698.8 919.3h0M673.9 974.1h0M660.5 964.4h0M679.5 956.6h0M662.3 987.8h0M697.4 874.5h0M667.6 1009h0M687.8 967.3h0M661.3 962.4h0M706.2 918.7h0M687.9 934.6h0M688.6 974.7h0M662.7 960h0M665.8 1010.5h0M670.4 944.5h0M685.9 1008.6h0M700.8 1011.1h0M707.1 974h0M674.5 948.3h0M705.6 897.6h0M705 939h0M688.2 967.3h0M700.6 1010.2h0M663.1 937.3h0M690.1 924.1h0M705.3 934.8h0M688.1 1009.3h0M704.5 949.5h0M707.1 993h0M661.1 974.3h0M662.8 946.7h0M664.1 950.8h0M688.3 916.5h0M688 973.5h0M698.7 957.9h0M704.3 1002.1h0M662.9 1008.8h0M705.5 1009.4h0M660.8 991.5h0M686.4 968.3h0M660.2 1000.1h0M689.5 947.2h0M686.6 941.1h0M704.7 878.8h0M690.8 923.4h0M675.7 964.2h0M683.4 934h0M684.9 1009.7h0M706 891h0M705.4 891.7h0M677.4 982.7h0M704.9 920.8h0M671.1 944.5h0M677.1 1004.6h0M662.1 948.9h0M701.8 962h0M689.5 936.8h0M685.9 912.7h0M706.6 899.8h0M689.4 939.7h0M684.7 1009.5h0M688.2 956.9h0M667.5 944.3h0M686.5 936.7h0M706.8 1005h0M706.2 929.4h0M688.5 956.7h0M704.9 1021.4h0M707 927.5h0M694.6 894.2h0M674.1 978.4h0M661.3 987.4h0M689.5 932.4h0M674.2 949.9h0M691.5 915h0M694.1 900.8h0M690.8 911.7h0M662.1 962.4h0M696.7 1011.6h0M687.1 933.2h0M691 894.1h0M660.3 1000.3h0M705 986.6h0M663.4 1011.8h0M691.8 1008.1h0M705 885.7h0M706.6 1013.5h0M661.4 1014.4h0M678.2 963.9h0M690.5 923.1h0M678.2 1010.7h0M688.8 924.2h0M674.9 982.2h0M705 891.9h0M705.5 903.5h0M694.5 887.9h0M687.8 961.7h0M690.8 1011.6h0M698.3 871.6h0M705.2 935.6h0M662.1 956h0M706.6 910.2h0M691.2 1009.7h0M698.9 957.9h0M693.5 918.7h0M694.1 1012.4h0M685.2 984.7h0M683.8 923.4h0M673.4 959.3h0M693.1 1008.8h0M706 917.1h0M707.3 880.2h0M677 1012.8h0M706 922.1h0M688.4 908.9h0M687.5 977.5h0M705.5 877.6h0M705.5 908.7h0M688.7 957.5h0M660.7 998.8h0M689.4 968.9h0M704.8 959.1h0M684 978.6h0M679.7 973h0M697.1 953h0M691.9 904.9h0M688.4 909h0M661.6 999.1h0M691.7 890h0M689.7 964.9h0M705.1 982h0M663.2 1003.9h0M699.8 880.6h0M686.6 960.6h0M693.8 993.6h0M707.4 903.7h0M662.5 949.8h0M660.7 987.2h0M706.4 877.3h0M689.1 1013.8h0M672.3 1011h0M675.9 985.2h0M691.8 915.8h0M683.4 900.6h0M689 967.9h0M662.7 984.3h0M703.9 876.2h0M668.6 946.8h0M677.9 978.5h0M681.6 987.3h0M692 887.5h0M680.2 1008.9h0M699 877.5h0M698.9 901.6h0M688.6 971.9h0M707.4 1001.7h0M684.7 892.8h0M684.5 960h0M684.9 952.2h0M691.8 905.9h0M679.9 990.2h0M685.5 929.3h0M690 907.4h0M680.5 1014.8h0M694.1 1010h0M683.2 988.6h0M700.2 990.9h0M682 1011.2h0M706.2 974.2h0M675.2 956.8h0M678.5 981.2h0M694.8 884.9h0M676.6 973.5h0M685.8 979.1h0M672.3 1016.3h0M685.6 1011.9h0M664.9 969.3h0M705.5 952.9h0M705.8 883.1h0M706.1 957.6h0M660.4 971.9h0M662.5 947h0M677.6 966.5h0M692.9 882.8h0M678.2 980.9h0M704.7 947.2h0M706.1 966.1h0M686.9 964.9h0M683.9 984.2h0M706 1009.1h0M687.5 970.8h0M692.1 918.8h0M689.4 921.8h0M706.3 950.5h0M671.7 1010.3h0M704.8 1004.7h0M702.5 1001.6h0M677.6 949.7h0M672.3 987.8h0M695.7 959h0M707.2 968.2h0M661 1004.4h0M673.1 946.7h0M688.9 977.6h0M661.9 962.9h0M691.2 903.6h0M674.9 1011.6h0M676.4 985.5h0M706.8 893h0M687.8 924.7h0M674.5 949.5h0M687.2 963.1h0M680.7 997.6h0M682.3 1013.1h0M676.8 959.7h0M688.9 1008.7h0M678 957.9h0M661.9 991.7h0M674.9 975.2h0M688.3 906.1h0M705.8 974.1h0M672.6 1009.4h0M704.4 896.7h0M691.2 1007.9h0M686.4 980.3h0M684.6 986.3h0M663 997.7h0M707.3 899.5h0M704.8 993.3h0M677.9 1016.6h0M688.5 965.1h0M678.2 1016.8h0M704.1 906.7h0M661.1 998h0M690.6 928.6h0M684.6 959.1h0M675.6 957.6h0M689.3 927.1h0M689.3 1013.3h0M704.4 940h0M679.4 982.8h0M691.5 1010.4h0M674.2 981.6h0M762.5 1014.8h0M629.7 1029.9h0M622.5 1040.4h0M736.2 1037.5h0M614.6 1013.4h0M742.6 1038.1h0M624 1016.1h0M745.9 1035h0M622.5 1013h0M762.9 1025.5h0M621.2 1013.9h0M731 1036.1h0M607.4 1037.3h0M630.1 1040.3h0M740 1028.3h0M627.8 1025.1h0M616.4 1038.2h0M749.2 1032.4h0M622.5 1036.7h0M630.2 1018.4h0M636.9 1026.4h0M635 1037.6h0M627.1 1032.9h0M771.1 1014.3h0M630 1028h0M741.2 1029.1h0M612.5 1029.1h0M618.2 1035.9h0M609.6 1032h0M633.4 1011.6h0M755.2 1013.5h0M631.6 1032.8h0M621.6 1030.9h0M753.3 1034.6h0M746 1025.4h0M593.5 1011.5h0M779.8 1033.7h0M746.2 1022.4h0M740.8 1015.2h0M739.3 1039.9h0M751.6 1035.2h0M737.2 1038.7h0M585.2 1027.6h0M625.2 1038.9h0M735.7 1029.3h0M754.8 1024.9h0M744.3 1027h0M623.7 1025.3h0M622.3 1034.5h0M741.2 1033.2h0M742.6 1036.8h0M744.7 1012.6h0M735.2 1025.3h0M620.8 1013.9h0M780.2 1019.5h0M755.2 1018.1h0M621.4 1037.7h0M740.7 1016.5h0M627.6 1032.5h0M736.4 1020.6h0M745.3 1021.8h0M731.6 1019.6h0M626.3 1015.5h0M737.8 1013h0M736.8 1036.6h0M636.1 1015h0M635.1 1015h0M621.8 1012.3h0M625.8 1023.3h0M627 1036.5h0M599.8 1031.7h0M742.2 1039.1h0M630.1 1027.2h0M634.6 1038h0M627.1 1022.9h0M739.8 1034.9h0M593.5 1031.6h0M629.1 1026h0M733.6 1024.4h0M622.7 1038.2h0M739.7 1012.4h0M631 1024.8h0M624 1029.9h0M736.5 1019h0M632.6 1020.8h0M630.9 1019.9h0M769.3 1030.8h0M635.3 1014.4h0M625.8 1023.2h0M583.3 1033.3h0M761 1020.5h0M754.8 1023.2h0M732.7 1014.2h0M732.8 1036h0M742.4 1018.9h0M620.1 1011.5h0M735.8 1040.7h0M738.3 1028.9h0M619.1 1036h0M740.5 1024.4h0M631.8 1031.2h0M752.7 1037.5h0M742.1 1033.7h0M731.3 1027.6h0M622.7 1012.9h0M757.4 1021.2h0M698.5 936.5h0M704.3 904.1h0M695.2 889.9h0M699.4 903.6h0M696.9 908.5h0M697.1 929.9h0M704.2 933.5h0M695.5 911.3h0M669.7 939.9h0M701.6 920.2h0M698.7 941.5h0M696.2 926.6h0M698.1 931.2h0M666.2 941.5h0M673 943.9h0M695.2 916.3h0M690.7 938.8h0M691.5 932.5h0M670.2 935.3h0M704.8 932.5h0M690.2 915.8h0M674.1 940.1h0M703.2 943.8h0M704.8 942.1h0M697.1 942.9h0M697.5 921.1h0M704.1 932.8h0M672 936.4h0M675.1 943.2h0M701.3 814.2h0M673.5 941.3h0M697.2 937.8h0M661.7 938.8h0M673.6 941.5h0M688.1 937.4h0M702.5 939.9h0M694.3 929.6h0M695.7 911.4h0M687.2 737h0M695.7 737h0M706.2 814.1h0M702.7 823.3h0M701 827.3h0M698.9 834.7h0M693.2 842h0M699 840.8h0M701.4 850h0M698.3 854.4h0M666.2 867.4h0M693.5 869h0M689.9 872.5h0M699 867.4h0M695 880h0M697 885h0M700 890h0M694 893h0M692 897h0M684 911h0M678 905h0M672 918h0M668 923h0M664 930h0M680 925h0M674 933h0M666 936h0M700 862h0M703 858h0M697 858h0" stroke="#cbcaca" stroke-width="3.5" stroke-linecap="round" fill="none"/>
<path d="M706.5 1011L706.5 937L711 938L716 948L720 962L724 978L728 996L733 1011Z" fill="#d03535"/>
<path d="M727.2 1011.4h0M733.6 1006.4h0M708.6 991h0M718.3 961.6h0M713.2 940.3h0M707.1 989.8h0M722.6 983h0M720.7 973.4h0M722 993.6h0M725.5 994.3h0M715.6 1008.8h0M718.3 965.4h0M711.5 994.9h0M718.3 956.4h0M729.9 985.9h0M717.5 1010.2h0M728.3 1002.7h0M717 953.9h0M730.1 975.5h0M723.5 976.9h0M708.4 963.7h0M726.6 998.7h0M716.8 955.6h0M730.7 1010.6h0M713 938.2h0M707.8 967.1h0M707.3 955.8h0M715.2 1011.2h0M707.3 939.3h0M707.2 965.4h0M723 968.1h0M706.4 983.7h0M708.4 974.3h0M731.4 997.9h0M708.7 1003.1h0M724.9 991.3h0M725.6 965h0M706.5 940.9h0M710.6 940.2h0M714.6 946.5h0M716.5 953.4h0M722.6 968.3h0M728.9 982.5h0M708.9 955.9h0M714.7 939.5h0M730.4 986.9h0M721.2 973.9h0M718.8 1009.7h0M725.4 964.9h0M706.3 967.9h0M721.1 1011.3h0M706.3 954.2h0M708.4 978.9h0M717.8 955.3h0M710.8 941.2h0M714.5 947.6h0M714.9 952.3h0M706.6 1009.3h0M731.2 960h0M726.6 991h0M733.7 1003.7h0M707.7 963.2h0M717.7 952.8h0M708.5 995.6h0M722.3 966.3h0M711.2 946h0M723.2 969.6h0M713.2 941.6h0M736.1 1008.9h0M708 941.4h0M706.6 980.9h0M706.2 935.9h0M708.4 990.2h0M725.9 1008.7h0M719.6 963h0M730.1 983.3h0M706.8 998.6h0M732.7 1011.4h0M706.6 985.6h0M710.8 942.1h0M720.3 972.8h0M719 967.5h0M706.7 965.1h0M707.9 964.5h0M733.3 1009.6h0M721.3 967.4h0M707.5 981.9h0M720.3 1010.6h0M721.8 953.9h0M727.9 992.4h0M730.5 1009.4h0M728.6 977.6h0M727.6 991.1h0M712.5 944.2h0M721.1 958.2h0M726.3 1008.9h0M708.3 990.9h0M706.9 936.9h0M714.3 1008.5h0M707.5 986.2h0M708.5 946.7h0M706.5 966.8h0M708.4 956.3h0M708.5 1011.2h0M726.4 983.1h0M706.6 945.4h0M725.5 1010.7h0M720.6 1008.9h0M717.9 1011h0M712.6 953.1h0M722.4 965.3h0M714.9 948.2h0M718.9 997.8h0M719.9 965.5h0M708.2 1000.5h0M720.4 969.9h0M724.8 983h0M719.5 965.5h0M717.5 954.5h0M708.9 975.9h0M729.7 998.7h0M711.7 937.1h0M708.9 966.6h0M725.3 988.6h0M720.8 959.6h0M718.5 955.6h0M708.3 978.8h0M707.7 963h0M728.8 1002.4h0M728.6 974.1h0M731.9 1008.7h0M706.8 969.3h0M719 984.5h0M709.5 938.6h0M713.3 1010.7h0M726.4 985.3h0M723.6 971.6h0M714 947.8h0M726.3 963h0M710.5 1010h0M707.2 985.7h0M730.4 1007.1h0M732.5 997.8h0M721.2 971.1h0M737.8 1005.5h0M726 986.9h0M733.7 1002.2h0M725.8 985.5h0M707.4 937.6h0M722.7 976.5h0M723.1 974.9h0M721.1 972.1h0M718.8 958.6h0M708.5 985.5h0M707.8 987.3h0M723.7 951.7h0M727.5 1011.1h0M715.9 1010.8h0M732.3 1003h0M708.6 1000.6h0M716.1 954.3h0M707.5 938.2h0M709.7 939.7h0M723.6 940h0M720.6 1011h0M722.7 977.2h0M722.4 969.3h0M731.3 1006.1h0M737.2 991.1h0M730.1 1006.7h0M716.8 1011h0M712.3 945.3h0M718.7 987.5h0M714.5 951.3h0M726.6 991.7h0M707 935.9h0M708 985.5h0M714 935.7h0M732.9 1007.8h0M713.4 941.1h0M724.4 963h0M719.6 970.7h0M708.6 982.7h0M720.7 1010.5h0M733.9 1007.4h0M712.2 986h0M708.9 959.4h0M729.5 1010h0M708.8 995.6h0M727.2 986.2h0M734.8 1009.9h0M708 978.4h0M723.4 950.5h0M707.6 959h0M707 979.6h0M706.5 999.4h0M712.9 1008.9h0M715.3 949h0M715.5 1008.6h0M712.7 960.9h0M707.5 973.5h0M708.9 1001.8h0M718.1 959h0M717.3 955.1h0M724.4 977.5h0M707 990.1h0M710.9 941h0M715.6 941.3h0M724 967.2h0M706.6 971.2h0M707.6 1002.5h0M722 1010.9h0M724.5 985.6h0M708.3 981.5h0M714.2 948.2h0M706.2 952.5h0M707.2 936.4h0M723.5 1011.4h0M720.1 965.3h0M708.7 940.9h0M711.1 1007.4h0M738.9 993.2h0M713.5 992.8h0M719.9 1002.1h0M712.7 985.1h0M712.3 952h0M720.1 1007.6h0M720.1 996.9h0M710.1 991.7h0M734.2 1009.1h0M713 994.5h0M720.7 986.9h0M740.7 1002.6h0M718.2 1010.7h0M708.8 989.7h0M722.3 998.9h0M707.3 978h0M712.7 999.1h0M712.6 1006.9h0M737.9 962.2h0M708.6 999.8h0M709.3 938.5h0M714.2 995.3h0M755.1 1004.7h0M712.3 974.3h0M718.1 1006.6h0M707.4 963.9h0M708.6 984.8h0M708.6 932.2h0M717.1 982.1h0M706.7 1005.6h0M707.2 1005.2h0M708.1 997.8h0M720.9 989.8h0M737.7 991.9h0M709.9 1006.5h0M708.5 929.4h0M707.7 954.7h0M706.7 936.9h0M712.2 1003.2h0M708.2 999h0M708.9 1001.1h0M707.9 980.3h0M734.5 1007.1h0M710.6 992.1h0M739.9 973.2h0M717 995.6h0M707.5 968.4h0M734.6 985h0M711.9 980.3h0M706.7 974h0M706.7 976.6h0M724 1004.5h0M712.7 988h0M710.7 1006.6h0M713.5 1002.8h0M715.6 1007.2h0M720.7 971.7h0M710.2 980.6h0M723 1005.7h0M706.6 983.7h0M708.9 950.4h0M716 1011h0M709.4 996.9h0M707 985.7h0M711.6 892.2h0M755.3 1005.4h0M708.8 993.7h0M716 977.8h0M713.2 928.5h0M714.5 985h0M710 996h0M709.9 1006.5h0M708.9 959.6h0M710 1009.1h0M717.7 987.9h0M718.1 999.5h0M707.4 947.8h0M719.8 971.5h0M707 963.9h0M716.4 952.5h0M714.2 925h0M708.6 931.6h0M735.7 1001.7h0M707.1 1010h0M720.9 1010h0M708.3 986.5h0M710.5 955.1h0M733 962.1h0M709.6 974.7h0M708.5 1008.9h0M714.2 991h0M706.7 969.9h0M718.6 1000.6h0M708.2 1007h0M706.9 976.8h0M723.7 974.3h0M707.7 997.7h0M714.1 978.7h0M736 992.3h0M716.1 989.7h0M762 1006.2h0M728.7 1005.7h0M721.1 986h0M709.9 996.1h0M718.4 1009.8h0M709.4 921.5h0M720.9 959.9h0M726.4 991.7h0M713.8 994.1h0M722.1 999.7h0M722 961.6h0M709.7 994.4h0M713.6 1002.8h0M733.8 1003.3h0M711.8 995.1h0M710.2 968h0M707.1 960.3h0M707.8 951.3h0M708.5 1009h0M718.2 1008h0M713.1 972.7h0M707.1 979.1h0M715.9 1003.1h0M736.2 963.3h0M708.7 962.5h0M726.9 1009.5h0M711.1 963.4h0M708.6 968.7h0M718.5 1006h0M726.7 948.9h0M723.3 980.5h0M737.4 968.3h0M711.9 999.8h0M715 998.4h0M735 983.7h0M732.2 998h0M720.9 964h0M712.9 989.8h0M708.3 1004.6h0M714.8 966h0M711.4 1003.6h0M717.7 947.9h0M723.6 1005.6h0M719.2 960.9h0M707.5 969.9h0M709.9 1004.8h0M732 971.6h0M707.3 991h0M718.8 995h0M714.9 940.3h0M726 1002.2h0M733.4 968.3h0M719.2 1006.8h0M719.3 1010.4h0M719.7 994.2h0M713.2 951.4h0M706.5 974.4h0M741.5 994.8h0M709.2 957h0M717.5 984.4h0M733.3 972.9h0M711 954.4h0M721.4 1010.1h0M707.5 980.6h0M709.3 1008.7h0M742.4 1010.1h0M721.2 1008.2h0M708.3 1003.8h0M738.1 1010.9h0M708 982.7h0M711.3 1004.2h0M736.9 990.4h0M706.8 979.5h0M731.4 1005.4h0M728.5 989.6h0M709.6 985h0M734.5 1004.7h0M733.7 1000.2h0M711.4 979.5h0M707.8 996.1h0M727.1 955.5h0M724.7 1008.3h0M708.3 950.3h0M710.5 983.1h0M711.2 1001.4h0M713.2 954.6h0M708.5 987h0M711.3 1002.6h0M743.6 1005.5h0M709.3 988.2h0M727.5 1009.7h0M712.4 943.1h0M712.6 987.4h0M722.1 992.3h0M717.7 989.7h0M713.2 1007.2h0M730.9 969h0M710.3 976h0M711.8 970.8h0M718.5 1000.4h0M707.2 982.2h0M710.4 989.8h0M709.3 988.9h0M709.2 967.9h0M720.9 1004.6h0M709.3 1005.7h0M716.4 1009.4h0M715.3 928.5h0M710.5 977.9h0M714.5 987.7h0M727.4 989.3h0M715.2 991.9h0M711.3 955.4h0M707.7 961.1h0M709.5 957.9h0M707.7 1003.4h0M709.3 1003.7h0M725.8 1000.1h0M718 974.3h0M722.1 1000.8h0M713.5 976.9h0M709.2 960.1h0M711.4 933.6h0M707.2 975.1h0M712.9 1004.6h0M727.2 939.3h0M729.7 993h0M721.2 1002.8h0M720.9 1009h0M719.3 993.8h0M732.7 1009.6h0M712.8 992.3h0M712.4 994.6h0M711.2 998.9h0M731 1002.2h0M707.3 979.2h0M713.2 999.5h0M707.8 1009.8h0M714.5 1000.8h0M715.6 958.1h0M736.7 1006h0M748.5 1009.7h0M718.3 989h0M722.2 951.5h0M722.4 1000.8h0M729.6 999.9h0M717.1 952.4h0M718.9 737h0M712.8 787.8h0M708.1 825.9h0M734 841.4h0M707.8 851.2h0M727.6 852h0M708 856.5h0M725.2 857.6h0M741.5 870.6h0M712 867.4h0M714 871.3h0M717.3 875.3h0M714.9 879.3h0M721.2 884h0M711 883h0M708.2 888.3h0M719.6 896.7h0M709.4 895.9h0M789.4 937.4h0M731 1000h0M832 990.5h0M791 994.5h0M790 1008h0M777 1006.5h0M766 1001h0M764 997h0M759 1008h0M752 995h0M745 987h0M770 989h0M748 975h0M741 966h0M754 962h0M738 953h0M733 948h0M746 941h0M724 930h0M729 921h0M733 912h0M726 905h0M719 902h0M712 906h0M716 915h0M710 925h0M735 930h0M742 925h0" stroke="#d03535" stroke-width="3.5" stroke-linecap="round" fill="none"/>
<path d="M661 1011L661 946L656 950L651 964L646 978L641 994L634 1011Z" fill="#66cc7d"/>
<path d="M653.4 958.1h0M646.5 975.5h0M641.7 1008.9h0M652.3 1009.9h0M659.6 1006h0M648.5 973.1h0M640.9 988.6h0M659.1 992.3h0M654.4 946.4h0M650.7 1010.5h0M648.2 979h0M639.6 999.7h0M638 998.7h0M660.8 956.4h0M645 978h0M660.3 991h0M659.1 948.3h0M647.5 968.7h0M638.6 1001.7h0M658.5 969h0M658.9 948h0M645.6 980.7h0M659.4 958.1h0M637.3 1002.5h0M660.5 984.3h0M638 1004.8h0M660.8 975.5h0M659 983.4h0M643 1009h0M640.4 988.5h0M634.1 1005.8h0M657.7 1010.7h0M635.1 1008h0M641.8 989.4h0M636.6 1009h0M658.5 954.7h0M660.8 1006.6h0M653.5 952.4h0M635.8 1005.4h0M658.9 1008.5h0M656.9 952.6h0M640.2 991.6h0M660.4 959h0M659.9 950.2h0M660.1 948.2h0M658.7 955.7h0M628.8 1004.1h0M650.3 970.2h0M651 967.8h0M646 978.2h0M638.7 1006h0M660.5 973.3h0M658.4 945.4h0M636.3 1010.2h0M659.7 1005h0M659.8 945.9h0M660.7 998.1h0M660.5 985.6h0M660.2 971.2h0M632.3 1010.2h0M643.4 965.9h0M651.7 1010.5h0M652.9 965.9h0M647.7 980.8h0M659.7 953.7h0M649 971.1h0M660.7 944.9h0M660.2 990.7h0M660.7 997.5h0M651.9 956.8h0M637.5 1006.4h0M660.4 999.4h0M644.4 1007.4h0M661 968h0M659.5 959.9h0M654.2 950.5h0M647.1 961.4h0M659.7 1004.2h0M640.6 990.6h0M653.3 958.5h0M640.3 999.7h0M642.6 992.8h0M638.2 1004.9h0M645.7 984.4h0M654 960h0M658.5 1000.3h0M658.9 992.1h0M651.7 950.5h0M660.9 999.4h0M660.8 972.6h0M653.6 969.3h0M625.2 1006.3h0M650.5 972.1h0M660.4 978.2h0M643.6 982.8h0M648.9 968.9h0M660.7 978.9h0M648.4 977.4h0M653.6 963h0M655.8 953.7h0M644.5 986.8h0M651 958.4h0M643.9 985.8h0M639.1 1011.4h0M658.3 1008.7h0M636.4 1009.3h0M642.3 990.1h0M646.7 1009.4h0M647.5 971.6h0M640.5 1008.9h0M644.3 980.3h0M644.9 1009.7h0M659.2 971.9h0M636 1002.3h0M660.1 946.7h0M647.2 975.2h0M637.9 1007.7h0M659.4 1004.7h0M641.2 979.6h0M659.5 991.6h0M654.5 954.3h0M633.3 1009.3h0M640.4 977.9h0M659.6 963.1h0M658.6 950.9h0M659.7 955h0M653.7 944.5h0M649.8 969.8h0M660.3 983.9h0M660.6 982.6h0M644.9 1011.1h0M655.4 950h0M644.6 984h0M646.7 1011h0M639.8 977.9h0M644 981.9h0M659.8 959.2h0M648.3 969.2h0M650.2 955.6h0M647.1 978.6h0M658.7 985.6h0M659.3 1000.9h0M647.6 981.1h0M639.5 995.2h0M659.5 993.4h0M644.9 988.6h0M660 973.7h0M640.6 998.8h0M637.7 1009.1h0M653.7 947.8h0M660 957.3h0M639.1 1003.2h0M642.2 986.8h0M649.9 1005.1h0M633 1008.7h0M642.7 994.4h0M632.6 1004.1h0M628 1010.4h0M659.9 1009.9h0M651.1 954.1h0M657.5 1005.6h0M656 1004.4h0M651.6 1006.6h0M660.2 1004.8h0M651 956h0M659 997.7h0M640.7 998.7h0M658.9 999.9h0M659.4 1001.9h0M651.1 960.1h0M655.5 1011h0M636.7 978h0M643.9 1006.9h0M619 1009.8h0M653.6 1007.2h0M659.7 968.8h0M660.2 972h0M653.3 1002.3h0M659.1 1001.7h0M617.3 1008.7h0M657.8 999h0M656.4 1001h0M641.6 969.1h0M655.3 1005.1h0M645.5 1005.9h0M653.1 1005.5h0M658.9 982.2h0M657.4 993.8h0M658.9 995.6h0M658.6 1009.9h0M640 1003.3h0M653.6 991.2h0M657.7 960.7h0M659.5 1007.2h0M650.1 1007.4h0M636.3 1009.4h0M651.7 990.5h0M656.3 1002.2h0M655.5 992.7h0M645.9 978.9h0M645.9 989.8h0M615.7 999.8h0M648.4 985.6h0M659 999.8h0M658.3 975.8h0M657.6 973.2h0M649.9 980.2h0M658.6 985.3h0M654.6 977.3h0M658 984.2h0M657.7 995.9h0M642.6 1005.3h0M658.9 1008.6h0M661 1001.3h0M656.8 974.5h0M647.6 993h0M652.2 989h0M630.4 989.4h0M654.1 1008.3h0M657.6 990.1h0M659.1 950.5h0M658.5 1000.7h0M630.9 1004.9h0M637.2 1005h0M638.5 980h0M634.4 1007.5h0M645.3 985.1h0M655.8 993.9h0M652.5 974.1h0M657.8 1003.4h0M659.8 972.6h0M644.3 971.4h0M649.7 993.8h0M658.4 1009.8h0M641.8 998.4h0M651.5 971.2h0M657.7 991.4h0M646.6 1005.6h0M652 995.9h0M647.4 998.5h0M657.7 999.5h0M660.9 954.8h0M652.6 963.5h0M658.6 1008.7h0M642.5 1005.4h0M653.1 1010h0M654.6 1003.9h0M652.7 1005h0M651 989.7h0M645.3 1001.7h0M660.6 964.6h0M657.4 997.4h0M660.6 1009h0M656.2 949.3h0M638 1006.3h0M659.8 987h0M611.6 983.6h0M628.8 1008.9h0M659.7 1007.6h0M649.7 982.4h0M647.5 995.3h0M657.2 988.7h0M659.1 974.8h0M657.5 985.1h0M660.7 1002.9h0M627.8 968.1h0M661 1006h0M640 982.6h0M657.7 1007.4h0M634.2 1004.2h0M660.3 944.5h0M655.1 999.6h0M660.7 1003.6h0M638.8 990.2h0M627.8 1002.9h0M658.2 968.9h0M656.1 1001.5h0M657.8 974h0M660.5 979.6h0M659.8 989.6h0M649.6 945.6h0M631.7 971.8h0M659.4 996.5h0M659.4 992.2h0M638.9 988.5h0M655.7 971.6h0M639.7 999.8h0M660.8 1010.8h0M657.9 1003.8h0M654.5 1005.8h0M650.1 995.1h0M659.7 1000.5h0M658.8 979.4h0M654.4 973.4h0M646.9 948h0M648.3 1008.6h0M658.6 959.4h0M651.1 984.8h0M636.9 976.5h0M659.5 998.4h0M654.7 961.7h0M658.1 1000.7h0M660.5 991.7h0M655 932.1h0M654.8 1000.3h0M656.2 983.9h0M655.2 957.2h0M645.3 995.5h0M654 994.1h0M648.7 986.7h0M658.7 995.2h0M660.9 996.1h0M658.7 941.4h0M656.6 993.4h0M660.4 973.7h0M650.7 998.8h0M656.2 1007.4h0M651.8 978h0M659.4 1003.5h0M624.8 1010.7h0M630.9 1002.8h0M660.3 995.3h0M651.3 995.6h0M639.3 992.5h0M651.9 1010.7h0M660.4 991.4h0M647.9 986.3h0M656.2 1000.9h0M650.5 988.7h0M656.3 1006.6h0M656.7 990.4h0M655.9 993h0M624 1006.6h0M539.5 960.3h0M576.6 976.4h0M547.3 1008.6h0M582.5 996.5h0M613.7 916.5h0M619.6 921.1h0M613.7 939.5h0M644.8 898.8h0M654.8 907.3h0M653.8 914.2h0M637.2 925.7h0M630 940.5h0M626 956h0M632 965h0M621 980h0M617 988h0M612 997h0M606 1004h0M624 1001h0M614.5 1001.5h0" stroke="#66cc7d" stroke-width="3.5" stroke-linecap="round" fill="none"/>
<line x1="660.9" y1="722.3" x2="660.9" y2="1053.9" stroke="#333" stroke-width="1" stroke-dasharray="3.2 2.6"/>
<line x1="706.6" y1="722.3" x2="706.6" y2="1053.9" stroke="#333" stroke-width="1" stroke-dasharray="3.2 2.6"/>
<line x1="524.5" y1="1011" x2="846" y2="1011" stroke="#333" stroke-width="1" stroke-dasharray="3.2 2.6"/>
<rect x="557.2" y="757.2" width="31.7" height="29.5" fill="#f2f2f2"/>
<circle cx="562" cy="762.9" r="2" fill="#cbcaca"/>
<text x="567.6" y="765.4" font-size="7.2" fill="#222">Filtered</text>
<circle cx="562" cy="772.4" r="2" fill="#d03535"/>
<text x="567.6" y="774.9" font-size="7.2" fill="#222">Up</text>
<circle cx="562" cy="781.9" r="2" fill="#66cc7d"/>
<text x="567.6" y="784.4" font-size="7.2" fill="#222">Down</text>
<line x1="527.8" y1="1054.3" x2="527.8" y2="1057.5" stroke="#555" stroke-width="1"/>
<text x="527.8" y="1071.6" font-size="15.7" text-anchor="middle">-4</text>
<line x1="605.9" y1="1054.3" x2="605.9" y2="1057.5" stroke="#555" stroke-width="1"/>
<text x="605.9" y="1071.6" font-size="15.7" text-anchor="middle">-2</text>
<line x1="684" y1="1054.3" x2="684" y2="1057.5" stroke="#555" stroke-width="1"/>
<text x="684" y="1071.6" font-size="15.7" text-anchor="middle">0</text>
<line x1="762.1" y1="1054.3" x2="762.1" y2="1057.5" stroke="#555" stroke-width="1"/>
<text x="762.1" y="1071.6" font-size="15.7" text-anchor="middle">2</text>
<line x1="840.2" y1="1054.3" x2="840.2" y2="1057.5" stroke="#555" stroke-width="1"/>
<text x="840.2" y="1071.6" font-size="15.7" text-anchor="middle">4</text>
<line x1="520.7" y1="1040.9" x2="523.9" y2="1040.9" stroke="#555" stroke-width="1"/>
<text x="520" y="1046.3" font-size="15.7" text-anchor="end">0</text>
<line x1="520.7" y1="925.7" x2="523.9" y2="925.7" stroke="#555" stroke-width="1"/>
<text x="520" y="931.1" font-size="15.7" text-anchor="end">5</text>
<line x1="520.7" y1="810.5" x2="523.9" y2="810.5" stroke="#555" stroke-width="1"/>
<text x="520" y="815.9" font-size="15.7" text-anchor="end">10</text>
<text x="671.3" y="1088.6" font-size="15.6" text-anchor="middle">Log<tspan font-size="9.5" dy="3.5">2</tspan><tspan dy="-3.5">(fold change)</tspan></text>
<text transform="translate(499.2 891.3) rotate(-90)" font-size="15.79" text-anchor="middle">-Log<tspan font-size="9.5" dy="3.5">10</tspan><tspan dy="-3.5">(p-value)</tspan></text>
<text x="869.1" y="717.7" font-size="20.2">G</text>
<text x="1073.9" y="715.2" font-size="13.1" text-anchor="middle">Radio+PD-1-vs-Model : pvalue &lt; 0.05 &amp;&amp; |log2FC| &gt; 0.58</text>
<path d="M1035 1036L1050 1040.5L1065 1042.5L1077 1043.2L1089 1042.5L1104 1040.5L1118 1036L1121 1031L1112 1025L1100 1019L1093.5 1008L1091.5 991L1089.5 968L1087 955L1084 950L1081.6 955L1080.5 968L1079.4 991L1078 1015L1077.2 1029L1076.3 1015L1075 991L1073.3 968L1072 955L1069 950L1066 955L1063.3 968L1062 991L1060 1008L1054 1019L1043 1025L1033 1031Z" fill="#aeb6b6"/>
<path d="M1126.6 1024.7h0M1081.9 1005.3h0M1074.9 1020.6h0M1043 1026.6h0M1082.1 974.6h0M1037.7 1018.8h0M1080.8 985.6h0M1066.2 955.2h0M1108.6 1039.7h0M1096.2 992.3h0M1039.6 1036.1h0M1073.1 982.6h0M1059 1006.1h0M1091.5 1042.5h0M1090.6 990h0M1051 956.1h0M1093.2 1008.8h0M1064.2 983.9h0M1082.8 967.8h0M1074.9 1027.1h0M1090.4 988.2h0M1064.2 1041.2h0M1098 1017h0M1061.8 974.5h0M1075.5 1005h0M1089.5 965.1h0M1100.5 990.3h0M1087.8 950.1h0M1068 944.1h0M1060.4 967.1h0M1115.1 1037.6h0M1065.9 954.8h0M1057.3 1018h0M1086.7 959.7h0M1064.6 975.2h0M1074.3 1020.4h0M1098.6 1016.5h0M1051.8 1021.9h0M1114.9 1024.6h0M1081.9 984.1h0M1094.1 1043.4h0M1089.7 983.3h0M1046.7 1019.7h0M1105.9 1024.3h0M1097.6 996.1h0M1063.8 972.1h0M1081.6 983.3h0M1072.3 982.9h0M1118.9 1034.8h0M1063.7 1043.2h0M1074.5 1006.2h0M1062.5 1000.1h0M1080.2 983.6h0M1108.8 1024.9h0M1050.5 1040.7h0M1087 951.8h0M1076 1018.5h0M1086.2 943.8h0M1081.8 989.3h0M1051.5 1002.6h0M1073.2 989.9h0M1102.7 950h0M1092.6 995.3h0M1100.7 1010h0M1093.9 983.1h0M1094.5 1006.1h0M1074.4 999.2h0M1023.3 1041.7h0M1098.7 1038.8h0M1094.9 1015.1h0M1055.7 1017.4h0M1073.6 989.9h0M1070.2 1041h0M1087.1 958.6h0M1033.2 1026.5h0M1072.1 956.9h0M1116.6 1036.6h0M1035.6 1025.6h0M1072.3 970.6h0M1089.5 957h0M1114.6 1029.7h0M1065 975.2h0M1086.5 964.7h0M1052.5 1042.9h0M1074.5 1001h0M1100.3 1021.1h0M1094 1001.3h0M1091.4 994.1h0M1037.1 1030h0M1090.6 999.4h0M1096.4 1016.8h0M1053.6 1021.6h0M1043 1024.7h0M1089.9 993.8h0M1075.6 1017.8h0M1099.5 963.7h0M1053.2 1042.2h0M1073.8 981.6h0M1046.6 1023.7h0M1093.9 1011.6h0M1068.7 1042.2h0M1057.8 1015.9h0M1076.8 1026.5h0M1087.4 963.8h0M1087.2 955.5h0M1062.9 968.2h0M1033.8 1039.5h0M1033.8 1027.6h0M1073.8 1041.7h0M1098.1 1018.5h0M1055.4 1015.8h0M1089.1 970.6h0M1091.6 1002.8h0M1091.2 1040.9h0M1062.8 1001.1h0M1062.6 960.9h0M1087.8 1042.9h0M1108.6 1021.8h0M1073.1 976.2h0M1063.6 992.7h0M1064.9 959.4h0M1076.1 1017h0M1082.2 971.4h0M1089.9 981.2h0M1058.9 1040h0M1066.6 942.8h0M1091.1 995.7h0M1120.3 1029.7h0M1088.1 957.1h0M1098.2 1039.8h0M1092.1 988h0M1054.4 1021.3h0M1048.6 1039.4h0M1060 1012.8h0M1080.3 1003h0M1092.3 994.2h0M1114.3 1023.9h0M1045.5 1039.9h0M1072.9 965.9h0M1112.9 1035.9h0M1055.2 1042.9h0M1084.9 949h0M1035.8 1030.3h0M1115.2 1025.5h0M1082.1 977.2h0M1123.4 1031.4h0M1041.5 1026.3h0M1067.2 955.2h0M1049.5 1021.8h0M1072.2 967.3h0M1083.6 942.9h0M1095.8 1005.8h0M1075 1010.2h0M1091.7 972.4h0M1057.9 1041.1h0M1025.4 1030.9h0M1101.4 1020h0M1091.3 1002.1h0M1081.2 969.3h0M1032.3 1029.6h0M1108.3 1039.2h0M1041.5 1042.4h0M1128.5 1034.8h0M1118.6 1024.5h0M1058.2 1009.2h0M1078.6 1015.3h0M1049.3 1040.2h0M1070.6 1041h0M1093 956.4h0M1057.7 1012.8h0M1074.1 986.4h0M1062 999.3h0M1062.5 972.9h0M1081.6 968.9h0M1074.3 1006.5h0M1039.7 1041.1h0M1070.2 958.7h0M1036.6 1037.3h0M1060.4 964.8h0M1089.4 993h0M1115.7 1042.6h0M1078.3 1010.5h0M1059.7 1009.5h0M1099.7 1010.6h0M1033.6 1033h0M1101 1021.3h0M1079.9 991.7h0M1081.6 969.3h0M1062.2 997.2h0M1078.5 1017.6h0M1049.7 1040.1h0M1055.5 1016.2h0M1060.1 1041.6h0M1068.9 1022.1h0M1097.1 1011.2h0M1076.6 1027.6h0M1083.1 948.9h0M1108.9 1040.3h0M1130.9 1034h0M1097.3 1017.7h0M1121.8 1032.4h0M1075.8 1040.7h0M1033.5 1027.6h0M1103.7 1020h0M1071.5 965.5h0M1063.5 957.6h0M1097 1010.8h0M1053.2 1009.1h0M1063.2 962.3h0M1069.2 951.9h0M1086.8 957.3h0M1063 966.7h0M1050.2 1039h0M1089.7 984.4h0M1043.8 1036.5h0M1073.1 989.4h0M1091.6 983.5h0M1055.3 1020.2h0M1096.8 1017.1h0M1062.3 973.3h0M1065.6 957.5h0M1102.2 1005.4h0M1078.8 1019.3h0M1056 956h0M1114.4 1028.1h0M1072.6 976.8h0M1073.9 987.9h0M1103.5 1023.6h0M1045.2 1039.7h0M1058.8 1004.4h0M1104.4 1014.6h0M1062.8 1002h0M1072.2 979.3h0M1080.7 1006.7h0M1060.3 1010.9h0M1048.7 1018h0M1080 1013.4h0M1102 1018.2h0M1107.5 1021.5h0M1093.8 993.9h0M1061 981h0M1062 987.3h0M1076.7 1029.6h0M1074 991.6h0M1090.3 975h0M1092 1008.5h0M1099 1039.1h0M1054.9 1020.3h0M1097.9 1041.7h0M1048.8 1017.3h0M1103.3 955.7h0M1116.3 1027.7h0M1065.6 951.4h0M1063.3 972.8h0M1070.3 958.1h0M1081.3 981.6h0M1051.4 1017.1h0M1072.2 967.9h0M1072.7 1041.2h0M1070.4 946.2h0M1118.9 1040.1h0M1120.3 1034.2h0M1090 994.1h0M1089.7 969.7h0M1036.5 1031.2h0M1088.5 1041.6h0M1075.9 1026.2h0M1075.1 1001.6h0M1102.8 1016.2h0M1073.7 979.5h0M1115.8 1029.6h0M1098 1009.4h0M1111.9 1037.7h0M1074.1 1008.9h0M1061.3 993.5h0M1094.7 1010.6h0M1092.5 951.6h0M1055.7 1011.8h0M1093.9 978.1h0M1088.7 965.2h0M1116.4 1026.5h0M1053.8 1009.8h0M1079 1012.5h0M1111.3 1040.7h0M1113 1026.1h0M1064.1 963.9h0M1089.2 978h0M1096.4 1016.1h0M1117.4 1030h0M1121 1033h0M1039.9 1028.6h0M1092.1 984.9h0M1124.4 1032.4h0M1078.7 1025.9h0M1054.6 1037h0M1038.1 1035.3h0M1065.1 969.8h0M1060.9 959.3h0M1092.2 955.8h0M1097.8 984.5h0M1074 1007.6h0M1064.8 956.6h0M1111.4 1037h0M1088.4 938.5h0M1079.5 996.7h0M1089.4 958.2h0M1062.7 1001.7h0M1040 1027.4h0M1045.3 1038.1h0M1040.1 1028.7h0M1064.6 955.8h0M1076.1 1020.1h0M1048.9 1039.1h0M1080.5 1008.8h0M1062.8 959.4h0M1061.2 992.1h0M1049.4 1040.9h0M1038 1030.4h0M1113.8 1040.1h0M1059.8 967.4h0M1074 1043h0M1039.6 1027.8h0M1084.6 964.4h0M1048.6 1019.8h0M1058.3 958.1h0M1060.9 951.6h0M1082.5 976.1h0M1088.9 972.9h0M1043.4 1038h0M1081.8 972.4h0M1064.3 1040.1h0M1083.5 952.4h0M1054.8 993.7h0M1124.1 1031.9h0M1061.5 990h0M1117.2 1039.8h0M1091.6 981.9h0M1063.2 995.7h0M1091.7 984.6h0M1080.6 976.7h0M1068 942.8h0M1107 1038.1h0M1092.1 982.3h0M1070.1 947.6h0M1071.3 966.5h0M1114.4 1016.7h0M1116.8 1030.8h0M1059.4 968.4h0M1091.2 1041.7h0M1044.3 1027h0M1082 953.8h0M1071.1 961.5h0M1063.3 942.8h0M1100.2 1009.2h0M1097.3 1012.8h0M1081.2 967h0M1125.9 1022.2h0M1098.2 974.8h0M1039.2 1040.2h0M1064.4 963.8h0M1090.4 990.8h0M1062.9 975.6h0M1075.5 1013.2h0M1088 975h0M1086.4 946.7h0M1110.3 1038h0M1076.1 1013.5h0M1036.7 1031.3h0M1092 1010h0M1081.7 976.8h0M1039.2 1039.6h0M1079.4 1007.5h0M1103.6 1038.6h0M1123.7 1028.8h0M1051.5 1039.9h0M1113.1 1036.2h0M1070.9 967.1h0M1060.8 993.5h0M1076.2 1019.3h0M1090.2 978.7h0M1074.1 1042.1h0M1048 1037.6h0M1113.4 1027.4h0M1079.5 999.3h0M1101.7 1019.4h0M1040 1037.8h0M1080.6 994.6h0M1059.7 970.4h0M1107.9 1023.3h0M1080.8 974.1h0M1080.3 1010.2h0M1116.1 1034.9h0M1062 968.1h0M1064.8 952h0M1054.7 1042h0M1058.2 968h0M1091.7 1001.9h0M1074 995.4h0M1103.9 1042.8h0M1051.2 1011.2h0M1068.2 955.6h0M1091.8 993.2h0M1054.4 1002.9h0M1055.8 1039.1h0M1080.9 1041.7h0M1062.5 989.4h0M1086.8 1042.1h0M1072 965.5h0M1082.9 960.2h0M1062.9 954.4h0M1120.8 1031.7h0M1073 979.4h0M1090.4 982.7h0M1078.6 1011.7h0M1031.9 1036.3h0M1071.3 954.2h0M1079.1 1007.1h0M1044.1 1043.5h0M1057.5 1039.9h0M1082.5 977.3h0M1045 1025.7h0M1059.5 985.5h0M1072.4 972.5h0M1074.4 1012.9h0M1062.9 971.1h0M1034.8 1030.5h0M1081.8 982.6h0M1074.3 995.7h0M1060.1 953h0M1070.1 948.5h0M1091.7 990.7h0M1054 1020.8h0M1060 963.8h0M1110.4 1039.4h0M1120.6 1037.3h0M1080.6 974.4h0M1092.8 958.6h0M1036.1 1035.6h0M1063.7 977.1h0M1084.7 1042.1h0M1042.8 1027.9h0M1123.1 1034.1h0M1103.8 1009.6h0M1052.3 1002.7h0M1053 1042.9h0M1091.2 983.5h0M1066.1 963.6h0M1060 972.8h0M1063.6 959.8h0M1101.5 1041.5h0M1093.7 1004.8h0M1092.5 964.7h0M1043.5 1038h0M1064.3 964.9h0M1093.3 986.9h0M1091.1 1042.8h0M1041.1 1023.7h0M1091.6 1003.7h0M1060.7 1008.2h0M1041.7 1024.4h0M1047.1 992.4h0M1091.7 993.3h0M1081.7 975.9h0M1058.8 978h0M1082.1 986.1h0M1048.7 1024.4h0M1065.2 973.2h0M1107.9 1012.1h0M1104.8 1042.3h0M1059.4 1043.2h0M1079.6 1007.9h0M1046 1033.8h0M1090.5 979.9h0M1078.9 1027.1h0M1114.4 1027.6h0M1061 1006.6h0M1034.1 1032.2h0M1061.4 994.5h0M1100 1013.2h0M1060.3 990.4h0M1075.2 1022.4h0M1064.9 963.1h0M1108.5 1039.3h0M1050.6 1021.6h0M1065.5 948.9h0M1072 974.1h0M1081.7 1041h0M1067.1 1011.3h0M1125.7 1034.5h0M1070.9 963h0M1043.3 1027.2h0M1074.8 998.2h0M1095.7 958.3h0M1050.4 1040h0M1072.4 979.5h0M1065.2 959.5h0M1116.9 1024.3h0M1061.6 971.1h0M1130.6 1020.5h0M1060.7 975.7h0M1061.7 979.6h0M1080.3 986.7h0M1060.4 1043.4h0M1032 1026.5h0M1061.9 971h0M1048.4 1041.5h0M1080.4 1006.7h0M1112 1038.2h0M1064.2 963.8h0M1055.4 983.4h0M1054.1 1021.3h0M1117.9 1038.7h0M1079.7 1026.9h0M1062.2 980.7h0M1100 1016.6h0M1104.2 1041h0M1062.3 1003.6h0M1099.1 1008.5h0M1043.5 1021.1h0M1079.7 1027.6h0M1064.7 971h0M1088.6 964.5h0M1101 1017.7h0M1094.5 1042.4h0M1115.6 1041.4h0M1090.5 978.5h0M1083.2 957h0M1089.1 974.8h0M1080.7 993.3h0M1114.3 1034.8h0M1088.5 969.4h0M1123.9 1032.5h0M1060 975.4h0M1073.2 986.8h0M1105.6 1040.9h0M1059.8 958.6h0M1080.4 973.1h0M1092.5 966.5h0M1072.4 980.8h0M1034.7 1028.5h0M1061.5 968.6h0M1081.2 1000.5h0M1061.6 1040.4h0M1035.2 1037.4h0M1062.2 1005.2h0M1062.5 993.3h0M1072.3 984.8h0M1096.1 1003.6h0M1120.9 1024.8h0M1078.9 1028.2h0M1066.2 962.9h0M1071.7 951.8h0M1064.9 954.7h0M1092.2 973.1h0M1092.6 986.3h0M1086.1 954.7h0M1117.9 1032.8h0M1096.3 944.4h0M1090.3 995.4h0M1071.6 1041.6h0M1072.4 968.4h0M1090.4 989.9h0M1098.6 1040.8h0M1104.8 1042.9h0M1028.1 1029.2h0M1080 1042.7h0M1060.2 982.3h0M1057.8 1017.3h0M1067 1041.3h0M1095.2 981.4h0M1090 984.6h0M1093.2 994.6h0M1075.3 1003h0M1116.3 1026.7h0M1065 969.3h0M1070.4 952.4h0M1047.5 997.3h0M1089.8 1028.7h0M1085.1 957.6h0M1064.5 979.3h0M1073.5 1042.9h0M1059.5 990.3h0M1091.4 989.3h0M1043.8 1018.6h0M1062.7 1004.6h0M1089.4 957h0M1130.3 1035h0M1088.1 974.5h0M1100.2 1043.2h0M1091.4 961.2h0M1096 981.2h0M1056.4 1013h0M1052.8 1040.4h0M1082.3 967.1h0M1097.1 989.6h0M1042.7 1027.9h0M1091.2 996h0M1038.8 1030.4h0M1066.8 963h0M1097.3 1040.7h0M1085.2 1037.3h0M1063.7 967.7h0M1092.7 977.4h0M1061.2 1010h0M1105.9 1022h0M1070.7 962.2h0M1101.2 959.2h0M1058.1 1005h0M1053.7 1017h0M1072.3 960.1h0M1087.6 964.5h0M1053.2 1015.9h0M1075.2 1017.2h0M1063 1041.7h0M1076.2 1023.3h0M1045.2 1024.5h0M1101 944.9h0M1071.3 969.2h0M1098.2 1042.2h0M1062.2 980h0M1038 1030h0M1056.3 984.1h0M1091.9 1043.4h0M1058.7 957.3h0M1089.2 942.7h0M1108.3 1036.8h0M1076.5 1021h0M1111.4 1038.7h0M1103.6 1039.6h0M1081.2 1012.6h0M1100 1042.5h0M1061.4 973.1h0M1103.3 1040h0M1064 966.2h0M1101.2 1007.4h0M1096.7 1042.3h0M1112.9 1017.6h0M1059.7 988.6h0M1061.1 970.4h0M1055.9 1019.2h0M1094.2 968.7h0M1075.5 1004.6h0M1081.7 963.2h0M1073.1 975.9h0M1113 1036.7h0M1034.6 1032h0M1072 983.3h0M1084.2 945.6h0M1078.9 1025.4h0M1035.1 1029.6h0M1032.7 1035.3h0M1073.5 994.6h0M1098.8 999.8h0M1082.7 965.7h0M1088.6 982h0M1090.5 1042.5h0M1090.8 1043h0M1092.3 993.5h0M1064.2 974h0M1119.2 1026.1h0M1090.4 977.1h0M1071.5 961.5h0M1088.4 965.6h0M1081.1 991.3h0M1063.3 987.5h0M1106.2 1040.1h0M1048.8 1010.5h0M1078.6 1008.6h0M1095 985.3h0M1046.2 1033.5h0M1062 998.3h0M1099.6 1018.8h0M1056.4 1018.9h0M1071.7 953.2h0M1082.7 969.8h0M1091.7 981.6h0M1117.1 1034.2h0M1059 951.1h0M1083.1 956.1h0M1034.3 1039.3h0M1052.9 1010.5h0M1081.4 958.4h0M1076.4 1029.2h0M1073.8 977.9h0M1052.2 1019.6h0M1063.8 982.1h0M1089.3 966.1h0M1110.8 1023.1h0M1081.9 974.5h0M1102.1 1040.8h0M1053.8 1007.2h0M1083.4 1022.3h0M1073.6 1042.5h0M1078.9 1043.4h0M1062.5 1007.2h0M1062.2 963.6h0M1054.9 995.5h0M1080.8 1008.7h0M1036 1035h0M1110.7 1037h0M1086 902.4h0M1067.7 911h0M1086.5 923.9h0M1067.6 948.8h0M1071.5 940.6h0M1084 922.2h0M1069.4 916.8h0M1086 948.1h0M1085.2 939.1h0M1083.1 938h0M1086 933.8h0M1083 946.4h0M1087.1 943h0M1088.2 943.1h0M1085.8 915.9h0M1083.6 921.8h0M1083.6 922.2h0M1071.5 948.7h0M1086.9 948.3h0M1084.7 912.7h0M1087.8 942.3h0M1085.9 941.4h0M1089.1 948h0M1071.1 934.9h0M1085.1 895.6h0M1087.6 949.3h0M1069.7 949.3h0M1089.5 940.2h0M1086.4 944.5h0M1084.7 938.9h0M1066.6 936.6h0M1085.9 932.8h0M1069.1 931.6h0M1088 942.8h0M1071.3 940h0M1067 925.8h0M1085.7 924.1h0M1085.1 896h0M1086.2 913.9h0M1084.3 949.1h0M1086.2 949.8h0M1087.9 941.5h0M1082.8 937.5h0M1087.4 948.3h0M1069.1 939.3h0M1084.8 935h0M1067.7 939.4h0M1070.6 939h0M1083.6 944h0M1084.9 945.9h0M1066.8 940.7h0M1071.4 924.5h0M1084.4 929.9h0M1065 945.8h0M1065.8 947.4h0M1088.9 942.4h0M1084.9 919.3h0M1064.4 949.5h0M1067.9 936.5h0M1087.4 943.1h0M1087.6 943.1h0M1070.1 937.9h0M1067.4 939.4h0M1065.3 943.3h0M1084.5 942.9h0M1085.5 937.9h0M1085 915.9h0M1083.2 948.2h0M1089 946.4h0M1065.6 943.8h0M1071.2 917.5h0M1084.2 944.4h0M1072.4 943.2h0M1084.6 941.9h0M1089.4 945.6h0M1086.1 947.8h0M1070.1 940.4h0M1087.9 935.9h0M1086.1 949.2h0M1087.1 929.6h0M1085.2 902.5h0M1067.9 909.1h0M1085 930.7h0M1071 944.8h0M1087.6 932.8h0M1085 913.8h0M1085.7 930.5h0M1085 922.8h0M1067.9 949.9h0M1085.3 948.1h0M1085.1 929h0M1086.5 944.3h0M1086.9 938.3h0M1065.9 931.3h0M1069.4 896.2h0M1085.8 935.9h0M1084 946.8h0M1084.1 906.7h0M1068.7 944.9h0M1064.9 943.7h0M1088.8 947.5h0M1084.5 918.7h0M1069.9 943.4h0M1067.2 931.6h0M1066.6 936.3h0M1086.2 927.2h0M1086 905.9h0M1068.3 941.9h0M1084.6 922.7h0M1082.4 944.6h0M1071.5 943.3h0M1070.1 939.6h0M1085 939.7h0M1070.5 922.6h0M1085.4 905.7h0M1068.5 909.4h0M1070.3 949.9h0M1082.2 947.5h0M1088.1 934.4h0M1086.2 927.5h0M1070.1 927.9h0M1086.6 949.1h0M1066 943h0M1085.4 913h0M1082.9 945.1h0M1083.3 924.5h0M1070.6 939.7h0M1067.9 941.9h0M1070.8 944h0M1087.9 921.1h0M1084.2 913.2h0M1084 935.1h0M1088.5 946.7h0M1071.4 943.3h0M1087.6 928.6h0M1069.6 911.3h0M1065.4 944.7h0M1064.7 946.1h0M1086.7 947.4h0M1065.5 935.1h0M1066.8 940.6h0M1068.8 946.3h0M1089 941.6h0M1070.7 948.3h0M1088.5 944.1h0M1085.1 916.6h0M1087.2 949.6h0M1066.8 929.1h0M1067.8 933h0M1072.2 939h0M1087.5 936.2h0M1070.2 943h0M1084.1 947.4h0M1071.4 948.1h0M1067.7 927.1h0M1050.1 1038.3h0M1052.3 1035h0M1066.6 1035.5h0M1067.6 1035.7h0M1098.9 1018.9h0M1063.2 1036.5h0M1099.3 1029.7h0M1066.4 1040.1h0M1075.6 1033.6h0M1103.5 1034.1h0M1130.5 1025.9h0M987.4 1015.2h0M975.8 1014.7h0M1080.9 1005h0M1045 1018.4h0M951.8 1010h0M1019.5 1034h0M1085.7 1030.7h0M1051.1 1037.8h0M1032.7 1027.3h0M1091.1 1040.6h0M1110.6 1037.9h0M1067.1 1040.4h0M1076.9 1032.1h0M1078.1 1036.7h0M1142.8 1027.2h0M1054.7 1041.7h0M1192.9 1003.4h0M1105.4 1036.3h0M1094 1036.8h0M1083.8 1038.7h0M1118.4 1009.7h0M1157.4 1012.9h0M1085.7 1018.9h0M1013.9 1028.2h0M1188.8 1011.3h0M1051.7 1038.3h0M1074 1031.5h0M1063.8 1026.4h0M1034.4 1038.7h0M1097.6 1040.6h0M1045.6 1011.9h0M1092.5 1042.2h0M1115 1040.2h0M1086.5 1033h0M1055.7 1028.9h0M1022.5 1020.9h0M1067.8 1021h0M1079.3 1034.7h0M1149.6 1009.1h0M1112.9 1040.3h0M1023.5 1022.1h0M1036.5 1021.7h0M1109.2 1016.6h0M1068.3 1033.3h0M1067.8 1036.1h0M1005.9 1024.6h0M1057 1040.9h0M1080.8 1041.1h0M1107.3 1039.8h0M1047.3 1039.5h0M1127.8 1028.7h0M1053.9 1035.6h0M1067 1019h0M1084.5 1041.9h0M1017.1 1030.8h0M1140.5 1024.2h0M960 1019.4h0M1073.5 1012.8h0M1051.8 1039.5h0M1077.8 1040h0M989.3 1027.4h0M1037.2 1032.2h0M1091.6 1034.2h0M1051.6 1040.3h0M1083 1037.1h0M1127.1 1035.7h0M1077.8 1027h0M1059.9 1040.3h0M1089.8 1039.2h0M1107.5 1038h0M1110.9 1018.6h0M1116.5 1032.7h0M1116.4 1006.9h0M1084.4 1036.4h0M1111.7 1031.6h0M1079.5 1005.6h0M1042.7 1040h0M1042.6 1038.5h0M966.5 1016h0M1107.1 1033.2h0M1039.3 1015h0M1072.2 1035.9h0M1067.1 1025.8h0M1093 1041.4h0M1079 1034.2h0M997.2 1031.1h0M1051.2 1021.2h0M1047.1 1037.8h0M966.8 1008.8h0M1081.6 1028.9h0M1190.6 1001h0M1055.7 1029.6h0M1125.6 1013.7h0M1037 1038.8h0M1026.7 1036.2h0M1084.1 1024.8h0M1080.2 1038.9h0M1005.4 1024.9h0M1084.2 1033.7h0M1104.9 1031.4h0M1087.9 1026.2h0M1060 1038.4h0M1104 1029.3h0M1060.5 1036.9h0M1093.5 1027.2h0M1077.3 1040.7h0M1112.6 1037.4h0M1119.2 1029h0M1019.9 1036.5h0M1069 1041.7h0M1086 1039.9h0M1080.5 1038.8h0M994.9 1016.1h0M1042.5 1022.1h0M1072.2 1041h0M1039.6 1024.7h0M1048.3 1030.5h0M1138.3 1024.4h0M946.9 1012.1h0M988.3 1008h0M1063.4 1036.6h0M1096.6 1031h0M1087.4 1016.8h0M1060.3 1013.9h0M984.3 1025.6h0M988.9 1005.7h0M1010.3 1021.7h0M1059.5 1035.9h0M1140.2 1005.7h0M1065.6 1028.9h0M1103.1 1041h0M1062.3 1007.6h0M1030 1017.8h0M1069.6 1030.2h0M1080.4 1037.2h0M1101.6 1038.8h0M1007.8 1014.7h0M1067.5 1037.8h0M1107.9 1036.7h0M1018.6 1036.8h0M1034.1 1033.7h0M1034 1034.8h0M1074.4 1016.3h0M1058.2 1041.5h0M1145.6 1020.5h0M1022.5 1028.4h0M1073.3 1041.4h0M1067.6 1006.9h0M1083.9 1040.1h0M1076.4 1041.5h0M1052.9 1022.5h0M1058.2 1039.2h0M1086.8 1041h0M1102.4 1035h0M1062.3 1019.4h0M1071.6 1039.4h0M1168.8 1021.3h0M1046.9 1026.9h0M1091.4 1025.5h0M1127.1 1038h0M1099.3 1038h0M1098.7 1016.9h0M1022.6 1023.9h0M1066.3 1034.2h0M1048.8 1024.3h0M987.1 999.8h0M1148.2 997h0M1075.4 1038.9h0M1059 1040.7h0M1135.1 1025.8h0M1127.6 1034.2h0M1187.2 1021.9h0M1087.8 1042.2h0M1085.4 1037.6h0M1124.6 1024.6h0M1094.2 1029.7h0M1052.1 1040.5h0M1057 1014.5h0M1090.3 1029.1h0M952.3 1006.6h0M1024.4 1037.8h0M1122.7 1038.1h0M965.9 1017.2h0M1172.1 1020h0M1080.1 1038.7h0M1059.1 1041.8h0M1071.3 1029.2h0M1011.2 1031.6h0M1063.5 1039.2h0M1078.9 1016.4h0M1016.4 1023.9h0M1152.5 1024.9h0M1058.5 1034h0M1013.1 1031.7h0M1088.5 1042.2h0M1092.8 1033.5h0M1126.3 1031h0M962.5 1018h0M1147.8 1033.7h0M1018.1 1031.5h0M1064.8 1040.7h0M1128 1023.1h0M1072.9 1037.3h0M1052.6 1041h0M1038.5 1039.8h0M1102.4 1038h0M1079.3 1017.1h0M1075.8 1040.7h0M1034.4 1023.2h0M1075 1023.4h0M1097 1038.1h0M999.6 991.7h0M1102 1038.7h0M1166.2 1025.8h0M1055.3 1034.8h0M1042.4 992.4h0M1087.4 1029.8h0M1076.7 1025.7h0M1083 1036h0M1029.3 1037.5h0M1107.5 1030h0M1035.5 1037.4h0M1054.1 1039.6h0M1177 1025.8h0M1056.7 1022.9h0M1095.7 1030.8h0M1050.3 1038.3h0M1092.8 1033.4h0M1123.3 1032.3h0M1052 1040.3h0M1048.5 1037.4h0M1079.8 1041.6h0M1096.5 1032.8h0M1075.5 1038.7h0M1052 1041.1h0M1042.4 1040.6h0M1090.1 1037.4h0M1092.3 1037h0M1047.4 1027.9h0M1144.6 1033.8h0M1068.6 1041.9h0M1104.7 1037.7h0M1160.4 1004.2h0M1115.5 1032.8h0M1092.2 1030.1h0M1050.1 1034.2h0M1106.9 1040h0M1080.9 1037.6h0M1081.3 1040.2h0M1105.4 1007.2h0M1089.3 1026.7h0M1045.9 1036.6h0M1156.9 1022.6h0M1047.5 1033.6h0M1044.6 1031.5h0M1089 1034h0M1112.4 1025.9h0M1131.6 1036.6h0M1108.8 1025.5h0M1052.7 1036.5h0M1040.5 1024.6h0M1097.2 1031.4h0M952.8 1015.7h0M937.7 993.4h0M1125.8 1024.9h0M1104.2 1036.4h0M1043.3 1029.4h0M1141.2 1022.5h0M1105.7 1040.6h0M1080.6 1017.2h0M1171.3 1016.7h0M992 1022.8h0M1052.3 1041.4h0M1064.3 1035.8h0M1101.7 1008.7h0M978.3 997.6h0M1095.6 1027h0M1063.7 1039.9h0M1080.1 1041h0M990.9 1027.3h0M1189.2 1018h0M1068.1 1032.6h0M1088.6 1037.4h0M1107.1 1025.7h0M1067.9 1017.3h0M1172.3 1013.1h0M991.4 1017.7h0M1062.7 1041h0M1070.1 1038.8h0M1093.5 1037.2h0M1069.2 1032.7h0M1068.5 1038.2h0M1065.3 1040.9h0M1044.9 1035.8h0M1093.4 1041.2h0M1073.5 1032.7h0M1087.3 1028.5h0M1138.8 1035h0M982.4 1021.1h0M1078.2 1041.5h0M1078.9 1039.5h0M1094.3 1033.9h0M1072.9 1036.1h0M1142.1 1031.5h0M1073.1 1028.2h0M1113.7 1036h0M1082.4 1038.5h0M1022.1 1016.9h0M1085.7 1025.6h0M1096 1040.5h0M1038.5 1034.5h0M1101 1027.9h0M1078.7 1042.7h0M1139 1035.3h0M1057.1 1029.7h0M1059.8 1027.9h0M1072.1 1040.4h0M1035.6 1035.7h0M1082.7 1037.3h0M1054.7 1022.3h0M1085.2 1034.2h0M1066.8 1042.2h0M1080.9 1033.1h0M1092.9 1038.5h0M1087.4 1026.2h0M1170.1 1010h0M1118.6 1032h0M1104.1 1039.5h0M1134 1022.2h0M1015.1 1034.5h0M1065.1 1027.6h0M1080.5 1029.9h0M1058.7 1039.4h0M1148.2 1032.3h0M1097.4 1027.6h0M1080.3 1039.2h0M1140.7 1033.4h0M1025.5 1036.9h0M1030.9 1014.8h0M1071.7 1021.5h0M1118.6 998.2h0M1081.5 1036h0M1089.2 1037.7h0M1089 1038.6h0M1080.4 1039.7h0M1081.8 1040.9h0M1072.7 1041.9h0M1054.7 1039.8h0M1084.2 1036.3h0M1104.3 1036.9h0M1041.1 1026.5h0M1101.8 1035.6h0M1105.5 1034.7h0M1031.9 1013.1h0M1095.1 1030.7h0M1062.9 1032.4h0M1092.2 1041.5h0M1000.3 1032.5h0M1069.8 1039.8h0M1110.4 1031.9h0M1032.5 1037.7h0M996.3 1022.4h0M1053.1 1041.2h0M1048.7 1027.5h0M1082.7 1042h0M1084.2 1029.9h0M1107.3 1041h0M1078.3 1032.2h0M1067.7 1035.2h0M1036.1 1026.8h0M1111.4 1036.6h0M1057.6 1030.4h0M1091.5 1039.6h0M1114.7 1013.9h0M999.9 1029.7h0M1049 1037.3h0M1144.5 1026h0M1066.6 1040.2h0M1040.5 1036.4h0M1040.2 1004.8h0M1090.7 1036.1h0M1109.5 1035.9h0M1181.7 1018.1h0M1077.7 1025.7h0M1089.9 1040.9h0M1074.3 1041.1h0M1162.5 1025.6h0M1143.1 1032.5h0M1134.3 1003.5h0M1072.4 1031.6h0M1054 1039h0M1119.9 1018.3h0M1120.4 1001.1h0M1074.2 1014.6h0M1027.8 1029.1h0M1054.8 1028.7h0M1062.4 1024.5h0M1094.2 1038.1h0M1114.8 1037h0M1101 1035h0M1087.9 1042.2h0M1115.5 1003.4h0M1210.6 1009.4h0M1075.2 1041.1h0M1111 1033.3h0M1117.3 1033.7h0M1107.4 1037.2h0M1217.8 1005.1h0M1121.1 1038.6h0M998.8 1025.5h0M1001.6 1032.1h0M1066.4 1036.9h0M1138.2 1035.9h0M1125.9 1035.8h0M1084.4 1035.7h0M1086.5 1037.6h0M1078.7 1024.5h0M1070.4 1039.4h0M1131.7 1030.1h0M1120.1 1032.6h0M1077.5 1041.9h0M1060.7 1033.2h0M1085.6 1039.9h0M1092.4 1040.6h0M1155.9 1010h0M1082.7 1035.8h0M1092 1040.1h0M1067.7 1038.8h0M1088.9 1039.5h0M1016 1012h0M1080.3 1041.7h0M1125.1 1034.9h0M1063 1039.6h0M1179.2 1023.8h0M1083.4 1025.2h0M1061.5 1033.8h0M1107.7 1035.4h0M1087.8 1016h0M1121.3 1036.7h0M1151.6 1015.7h0M1103.5 1024.5h0M1045.6 1016.6h0M1087.3 1041.9h0M1042.7 1035.3h0M1152.1 1020.1h0M1113.6 1036.8h0M1075.9 1042.2h0M1061.2 1032.5h0M1109.6 1036.6h0M1191.2 998.8h0M1047.4 1039h0M1056.3 1025h0M1072.8 1041.8h0M1002.3 1033.2h0M1061.2 1034h0M1105.5 1018.7h0M1184.1 1021.2h0M1176.6 1025.9h0M1093.8 1041.6h0M1037 1038.1h0M1095.4 1029.8h0M1110.6 1025.2h0M1094.9 1033h0M1074 1042.2h0M1105.1 1035.9h0M1089 1025.3h0M1031.4 1033.5h0M990.1 1011.2h0M1057.9 1027.4h0M1127.9 1018.4h0M1023.8 998.8h0M1088.6 1032.3h0M1075.7 1041.7h0M1076.7 1038.4h0M1102.6 1004h0M1068.8 1019.7h0M1086.9 1035.1h0M1077.3 1036.9h0M1072.6 1013.5h0M1091.5 1042h0M1128.6 1037.5h0M1093.5 1040.4h0M1055.6 1040.3h0M1040.8 1016.6h0M1125.6 1038h0M1066.7 1034.3h0M1128.4 1033.6h0M954.1 1008.6h0M1084.2 1020.5h0M955.2 1016.5h0M1070.6 1037.5h0M1112.2 1031.7h0M1075.1 1033.1h0M1024.1 1033.8h0M1074.8 999.3h0M1083.7 1008.5h0M1075.2 1041.5h0M1068.3 1033.2h0M1173.5 998.1h0M1155.3 1032.4h0M1062 1037.7h0M1124.4 1036.2h0M1067.9 1034.6h0M1144.3 1033.9h0M1166.5 1024.3h0M1047.3 1014.3h0M1043.5 1022.1h0M1096.5 1033.8h0M1057.9 1032.9h0M1148.7 1029.5h0M1078.5 1039.7h0M1122 1035.6h0M1045.1 1020.9h0M1105 1027.6h0M1076.5 1041.3h0M1065.2 1019h0M1087.9 1041h0M1104.7 1039.4h0M1089.6 1032.9h0M1056.5 1041.4h0M1114.1 1039.5h0M1031.7 1037.3h0M1042.2 1033.2h0M1172.8 1008h0M1023.3 1035.9h0M1115.4 1039.7h0M1081.5 1040.9h0M1147 1031.1h0M1113.9 1040.3h0M1038.9 1038.6h0M1067.8 1037.9h0M1134 1036.3h0M1092.1 1020.3h0M1192.2 1014.9h0M1045 1037.5h0M1082.8 1026.5h0M1067.4 1041.7h0M1025.4 1024.1h0M1069.6 1018.8h0M1024.4 1035.1h0M1082.9 1041.6h0M1146.3 1034.3h0M1065.9 1039.2h0M966.7 998.3h0M1042.6 1039.3h0M1122.5 1038.7h0M944.8 1008.5h0M1140.9 1033.8h0M1215.1 997.7h0M1071.9 1028h0M1068.6 1035h0M1159 1002.1h0M1184.8 1022.8h0M1089.4 1026.8h0M1094.4 1032h0M1052 1035.5h0M1067.7 1034.4h0M1075.2 1030.7h0M1021.9 1023.3h0M1096.1 1035.7h0M1017.7 1028h0M1125.3 1029.6h0M1133.4 1036.4h0M1087.8 1039.5h0M1101.4 1040.8h0M1161 1018.8h0M1085.7 1039.6h0M1178.8 1016.1h0M1082.5 1042.2h0M1013.7 1033h0M1036.3 1039.1h0M1098.5 1012.6h0M1083.1 1027.4h0M1077.9 1036.7h0M1018.7 1025.7h0M1063.1 1025.4h0M1090.5 1039.2h0M1059.1 1041.4h0M1095.5 1032.8h0M1082 1040.6h0M1075.5 1036.9h0M1043.3 1038.4h0M1090.8 1038.4h0M1125.2 1033.1h0M1083.9 1039.5h0M1072.8 1021.1h0M1039.2 1038h0M1165.4 1026.9h0M1028.5 1033.9h0M1043.6 1035.5h0M1177.1 1018.4h0M1061.1 1023.5h0M1012.7 1031h0M1137.2 1033.4h0M1036.3 1028.8h0M1074.3 1042.2h0M1127.5 1017.9h0M1091.7 1041.5h0M1059.1 1031.7h0M1072.4 1025.4h0M1083 1018.6h0M1073.2 1040.8h0M1033.9 1014.4h0M1062.2 1032.7h0M1017.1 1021.6h0M1126.8 1022.4h0M1096.6 1039.4h0M1004.3 1027.3h0M1056 1036.2h0M1105.5 1026.8h0M1049 1029.1h0M1075.4 1027.2h0M1041.5 1038.9h0M1024.7 1032.7h0M1052 1041.5h0M1101.8 1032.5h0M1046.7 1031.1h0M1074.4 1038.9h0M1049 1034.6h0M1010 1026.4h0M1137.4 1030h0M1104.6 1015.4h0M974.8 1025h0M1157.7 1029.4h0M1141.8 1032.5h0M1052.1 1037.7h0M1063.1 1035.9h0M1060.4 1029.5h0M1058 1034h0M1010 1024.8h0M1139.5 1025.6h0M1039.5 1038h0M1155.8 1022.1h0M1103.2 1039.1h0M1107.5 1028.7h0M974.5 1018.4h0M1103.2 1000.5h0M1115.1 1039.5h0M1066.2 1034.5h0M975.1 1024.4h0M1071.7 1041.7h0M1070 1033.8h0M1129 1028.6h0M1144.7 1020.9h0M964.7 1017.3h0M1117 1037.2h0M1138.9 1033.7h0M1089.2 1039.6h0M1079.5 1039.9h0M955.2 1014.3h0M1071.6 1035.3h0M1060.5 1035.2h0M1088.1 1034.1h0M1026 1030.7h0M1137 1035.8h0M1100.7 1032.7h0M1047.8 1040.4h0M1090.1 1015h0M1115.6 1018.9h0M1126.4 1034.4h0M1081.9 1024.3h0M1084.1 1020h0M995 1015.6h0M1032.9 1027.1h0M1086.7 1036.3h0M1086.7 1039.4h0M1109.4 1038.3h0M1034.7 1034.8h0M1083 1041.1h0M1029.4 1038.6h0M1046.9 1031h0M1069.7 1037.4h0M1065.4 1033.6h0M1111.8 1016.2h0M1108.6 1033.7h0M1072.7 1031.9h0M1012.1 1019h0M1071.8 1033.7h0M1012.9 1029.9h0M1210.2 1009.1h0M1052.9 1040.7h0M1158.7 1004.5h0M1091.7 1016.5h0M1106.8 1025.4h0M978 996.6h0M1042.8 1032.1h0M1050.5 1041h0M1056.2 1030.4h0M1026.5 1035.1h0M1071.8 1033.4h0M1135.1 1033.3h0M1143.2 1014.6h0M1108.8 1031.1h0M1105.4 1036.2h0M1096.9 1039.2h0M1104.7 1021.2h0M1080.2 1038h0M1067.4 1011.5h0M1076.1 1029.8h0M1105.1 1038.1h0M1072.8 1035.6h0M1019.7 1036.5h0M1038.1 1016.7h0M1083.5 1026.2h0M1115.8 1011.5h0M1082.4 1038.2h0M1123.6 1035.9h0M1062.6 1029h0M1117 1032.4h0M1076.9 1037h0M1106.8 1041.2h0M1028.7 1033.7h0M1066.9 1016h0M1105.4 1041.1h0M1085.3 1030.2h0M1081.3 1035.8h0M1108 1035.4h0M1067.8 1029h0M1011.5 1034.7h0M1084 1038.4h0M1103.9 1041.5h0M1012 1010.3h0M1043.4 1023.4h0M990.9 1029.3h0M1004.2 1020.7h0M1015.5 1021.1h0M1065.8 1025.5h0M1069.2 1036.7h0M1091.2 1027.1h0M1038.7 1034.9h0M1071.9 1035.6h0M1015.1 1034.7h0M1109.5 1035.3h0M1011.8 1034.1h0M1022.6 1021.6h0M1045 1034.2h0M1138.7 1034.6h0M1079.7 1038.9h0M1153.4 1030.4h0M1112.3 1035.2h0M1032.3 1032.6h0M994.3 1025.4h0M1095.3 1021.7h0M1129 1027.2h0M1077.4 1035.4h0M1152.6 1024.1h0M1093 1036.6h0M1062 1041.5h0M1067.6 1036.4h0M1130.6 1029.5h0M1066.9 1028.6h0M1120.1 1038.2h0M1116.4 1007.6h0M983.9 1023.6h0M1053.1 1037.4h0M1070.9 1026.9h0M1149.3 1008.6h0M1004.3 1026.2h0M1075.3 1025.8h0M1057.3 1040.2h0M1097.8 1031.8h0M992.8 1019.2h0M1101.5 1036.7h0M1037.3 1011h0M1037.4 1032.5h0M1069.4 1040.5h0M1099.2 1040.6h0M1008.9 1022.7h0M1105.9 1041.2h0M1066.7 1042.1h0M1081.3 1008.4h0M1062.1 1039.2h0M1161.2 1023.3h0M1129.8 1029.7h0M1072.1 1041.8h0M1065.7 1040.3h0M1091.7 1034.9h0M1076.5 1037.1h0M1095.5 1012.4h0M969.5 1019.7h0M1148.6 1030.6h0M1054.3 1037.1h0M1066.9 1038.2h0M1197.4 1007.2h0M1097.6 1014.1h0M1071.4 1030.5h0M1060.9 1020.7h0M1096.3 1038.9h0M1001.4 1030.8h0M1113.3 1034.1h0M1177 1008h0M1048.5 1034.9h0M1179.9 1019.9h0M1040.4 1033.3h0M1102.3 1025h0M1104.3 1038.4h0M1101.8 1034.1h0M1072.8 1031.1h0M994.6 1026.8h0M1069.9 1019.8h0M1066.6 1016.3h0M1111.5 1039.4h0M1107.2 1035.9h0M1129.9 1015.3h0M1088.1 1041.3h0M1135.4 1035.6h0M1085.9 1034.6h0M1081.8 1033.5h0M1076.3 1016.3h0M1024.3 1037.7h0M1107.8 1028.6h0M1079.9 1041.5h0M1013.4 1029.2h0M1010.2 1017.9h0M1043.6 1034.6h0M1083.7 1041.3h0M1039.8 1030.2h0M1017.8 1035.8h0M1075.9 1042.3h0M1084.7 1036.4h0M1071.7 1037.1h0M1081.1 1019.3h0M1077.3 1035.1h0M1094.3 1035.9h0M1117.3 1038.4h0M1150.4 1033.4h0M1096 1033.3h0M1065.3 1039.3h0M989.6 998.2h0M1062.6 1032.2h0M1060.8 1028.6h0M1202.6 996.1h0M1075.1 1029.5h0M1047.1 1040.9h0M1058.7 1036.2h0M1076.1 1034.7h0M1082.6 1040h0M1010.9 1033.5h0M1049.1 1038h0M1081.4 1038.2h0M1063.7 1033.7h0M1033.7 1038h0M1012.6 1025.2h0M1082.4 1042.5h0M1076.7 1039.3h0M1136.7 1035.5h0M1069.3 1039.8h0M1074.6 1026.5h0M1075.6 1021.6h0M1131.6 1016.5h0M1159.9 1022.5h0M1033.5 1026.3h0M1117.6 1038.7h0M1053.4 1036.3h0M1046.8 1038.4h0M1035.6 1034.5h0M1112.7 1039.3h0M1059.6 1026.9h0M1043.2 1039.9h0M1089.2 1034.9h0M983.2 1027.6h0M1038.9 1014.3h0M1098.8 1022h0M1131.5 993.2h0M1051.2 1035h0M1082.2 1042.4h0M1050.3 1032h0M1126.4 1015h0M1112.5 1037.4h0M1122.6 992.8h0M1048.6 1040.8h0M1071.9 1041.2h0M1057.5 1031h0M1119.3 1034.3h0M1024.4 1010.9h0M1071.9 1023.7h0M1067.4 1030.2h0M1080.3 1037.9h0M1160.6 1023.8h0M1087.8 1038.2h0M1089.2 1023.5h0M1050 1039.5h0M1046 1033.1h0M1107.6 1035.9h0M1016.8 1028.8h0M1067.6 1031.2h0M1155.2 1020.3h0M1052 1038.9h0M1079.8 1017.3h0M1099.5 1032.8h0M1005.2 1030.2h0M1047.9 1026.8h0M1088 1025.6h0M1035.8 1039.8h0M1047.7 1041.2h0M1105.2 1028.6h0M1089.1 1035.6h0M1103.7 1019.3h0M1066.1 1040.6h0M1083.2 1029.4h0M1060 1041.4h0M993.5 1014.8h0M1074.1 1038h0M1021.6 1028h0M1060 1020.5h0M1087.8 1041.5h0M1066.9 1018h0M1046.2 1030.6h0M1077.2 1033.2h0M1079.2 1017h0M1091.8 1036.4h0M1115.7 1024.8h0M1005.4 1004.2h0M1071 1034h0M1090.2 1038.2h0M1035.7 1029.2h0M1040.8 1038.5h0M1096.6 1021h0M1086.6 1022.4h0M1143.6 1014.1h0M1074.2 1042.1h0M1105.6 1036h0M1144.6 1033.4h0M1075.3 1039.3h0M1025.6 1020.9h0M1087.2 1038.2h0M1104.4 1011h0M1073.3 1040.9h0M1067.1 1034.3h0M1159.7 1020h0M1072.4 1036.1h0M1108.6 1018.2h0M1178.4 1024.2h0M1000.2 1028.7h0M1090.6 1034.7h0M1053.8 1030.1h0M1207.8 1003.9h0M1065.6 1041.7h0M1025.2 1021.6h0M1067.2 1034.8h0M1088.8 1035.4h0M1053.7 1033.8h0M1120 1026.2h0M1071 1040.7h0M1071.8 1038.1h0M1125.6 1033.1h0M1036.3 1034h0M1081 1033.7h0M1074.2 1034.1h0M1038.6 1030.2h0M963.8 1020.5h0M1083.8 1039.6h0M1091.6 1018.8h0M1181.9 1018.3h0M1148.1 1022.2h0M1099.7 1040.8h0M988 1011.5h0M1035.1 1038.8h0M1012.3 1027.5h0M1149.1 1024.8h0M1169.3 1025.1h0M1063.7 1031h0M1140.9 1033.5h0M1079.4 1030.4h0M1157.7 1011.4h0M1128.2 1038h0M1122.3 1038.5h0M1053.1 1039.1h0M1081.5 1039.2h0M1081.2 1036.2h0M929.6 1000.1h0M1138.6 1030.4h0M1046.8 1018.7h0M1077.7 1039.7h0M1077.8 1039.6h0M1103.7 1031.3h0M1055.8 1005.5h0M1062.9 1037.9h0M995.3 1023.7h0M1160.9 1016.2h0M1019 1027.9h0M1189 1007.3h0M957.4 1018.3h0M1091.9 1033.8h0M1079.2 1039.5h0M1096.7 1027.1h0M1007.6 1026.2h0M1076.5 1019.2h0M1062.8 1032.8h0M1023 1025.2h0M1086.9 1042.1h0M1077.7 1031.1h0M1118.3 1027.2h0M1080.9 1022.8h0M1071.6 1022.7h0M1073.6 1018.7h0M1083.3 1035.5h0M1085.1 1042.1h0M1043.1 1018.6h0M1009.7 1034.7h0M1113.9 1038.1h0M1149.8 1022.2h0M1052.5 1037.7h0M1039.9 1025.9h0M1107.3 1040.3h0M1066.8 1036.2h0M1110.3 1036.5h0M1006.9 1031.9h0M1098.9 1034.4h0M1084.1 1035.5h0M1104.4 1022.5h0M1058.7 1032.4h0M1076.1 1040.5h0M1090.4 1041.6h0M1064.4 1024.5h0M999.5 1018.8h0M1052.5 998.9h0M1027.9 1027.1h0M1057.2 1036.3h0M931.1 1001.1h0M1107.3 1040.4h0M1074.2 1032.5h0M1032.9 1020.9h0M1055.6 1037h0M1033.7 1038.7h0M1046.3 1037.6h0M1053.5 1026.4h0M1031.4 1037h0M958.4 1009.3h0M1103.9 1035.8h0M1055.5 1041.8h0M1186 1016.4h0M977.2 1015.1h0M1032.8 1031.9h0M1013.2 1035h0M1053.9 1031.6h0M1102.4 1026.6h0M1036.6 1030.6h0M1067.1 1032.8h0M1114 1035.1h0M1079.5 1021.5h0M1088.9 1041.4h0M1095.7 1041.1h0M1103.2 1035.9h0M1096.1 1032.6h0M1099.5 1021.5h0M1065.6 1038.4h0M1072.5 1003.5h0M1077.4 1036.5h0M1097.2 1038.9h0M1069.6 1039.1h0M1016.9 1030.9h0M1024.9 1025.8h0M1074.5 1019.6h0M1090.3 1033.2h0M1102 1037.4h0M1067.2 1042.1h0M1183.8 1011.4h0M1066.7 1041h0M1111.7 1039.1h0M1109.4 1021h0M1044.1 1025.1h0M1019.6 1030.8h0M1119.9 1004.6h0M1139.6 1029.9h0M1025.9 1032.7h0M1088.5 1029.8h0M1105.5 1038.6h0M1054.5 1037.4h0M1051.2 1039.4h0M1074.2 1035.2h0M1127.7 1035.1h0M1194.9 1016.6h0M1088.4 1041.5h0M1062.7 1029.1h0M1080.9 1037.8h0M1081.2 1037.6h0M1008.2 1027.2h0M1059.9 1018.7h0M1076.9 1029.5h0M1115.9 1038.8h0M1095.3 1035.7h0M1097.3 1039.4h0M1078.5 1042.5h0M1082.2 1040.3h0M1025.8 1037.1h0M1101.3 1018.5h0M1095.3 1037.7h0M1025.6 1017.7h0M1066.7 1013.8h0M1042 1034.7h0M1157 996.9h0M1058.3 1040.7h0M1166.2 1026.9h0M1077.2 1013.6h0M1145 1026.7h0M1190.9 1019.8h0M1003.9 1007.4h0M1086.8 1033.9h0M1146.9 1034.2h0M1117.2 1039.1h0M1121.3 1024h0M1070 1033.9h0M1000.3 1024.9h0M1058.2 1036.8h0M1051.3 1038.9h0M1120.4 1022.9h0M1071 1041.5h0M1104.9 1035.2h0M1053.2 1035.5h0M1029.1 1037.1h0M1099.3 1038.1h0M1088.2 1036.4h0M1028.7 1036.4h0M1019.8 993.1h0M1086.9 1037.6h0M1120.7 1031.8h0M1093.2 1027.8h0M1100.2 1029.1h0M1047.6 1035.3h0M1081.6 1004.8h0M1133.1 1037h0M1146 998.8h0M1103.2 1024.8h0M1099.6 1026.1h0M1032.9 1039.2h0M1091.2 1014.2h0M1046.6 1027.7h0M1164.9 1020.2h0M1027 1030.9h0M1069.4 1026.6h0M1086.2 1039.9h0M993.3 1001.3h0M1056.8 1041h0M1021.4 1014.5h0M1074 1042.6h0M1030.6 1038h0M1074.3 1027h0M1039.5 1033.6h0M1097.9 1029.2h0M1055.9 1028.7h0M1117.5 1030.3h0M1143.7 1025.1h0M1083.2 1032.1h0M1067.6 1039.7h0M1093.4 1039h0M1114.9 1037.7h0M1116.7 1038.3h0M1096 1041.2h0M1126.3 1023.2h0M1061.9 1028.6h0M1136.8 1028.4h0M1112.1 1040.5h0M1162.7 1026.8h0M1066.5 1036.1h0M1091.2 1035.2h0M1099.6 1034.3h0M1078.3 1034.1h0M1154.2 1011.4h0M1009.4 1032.8h0M1092.4 1036.7h0M1047.8 1035.2h0M1076.7 1040.8h0M1108 1032.1h0M1069.5 1020.2h0M1085.3 1037h0M1106.6 1037.5h0M1062.5 1033.3h0M1073.7 1042h0M1073 1033h0M1070.4 1029h0M1080.9 1040.8h0M998.4 1006.4h0M1074.4 1042.4h0M1104.1 1024.2h0M1042.8 1033.6h0M1132.6 1034.9h0M1134.1 1028.1h0M1101.5 1040.4h0M1051.9 1029h0M1209.9 1009.7h0M1145.8 1033.6h0M1050.2 1040.7h0M1105.8 1005.5h0M1077.4 1035.7h0M1033.4 1029.1h0M1008.6 1022.9h0M1088 1036.3h0M1053.2 1028.2h0M1039.4 1035.7h0M1029.3 1036.8h0M1048 1038.3h0M1088.8 1036h0M1160.8 1024.8h0M1109.7 1029.2h0M1138.1 1035.5h0M1037.7 1039.9h0M1069.3 1034.3h0M1077.6 1031.4h0M1074.2 1032.2h0M1070.2 1032.6h0M1076.3 1034.5h0M1146.4 1024.7h0M1071.4 1039.7h0M1144.9 1021h0M1070.9 1036.9h0M1040.7 1033.8h0M1077.3 1040.5h0M1076.3 1035.7h0M1075.8 1039.2h0M1056.8 998.1h0M1082.1 1040.2h0M1058.4 1037.2h0M1166.1 1004.8h0M1106.6 1025.9h0M1083.5 1042.6h0M1066 1039.4h0M1042.6 1013.8h0M1112.3 1017.5h0M1066.3 1042.4h0M1089.1 1023.5h0M1099.7 1039.6h0M1152.9 1029.5h0M1071.1 1041.5h0M1060.1 1041.7h0M976.7 1008.4h0M1017.6 1036.3h0M1099.9 1036.1h0M1095.9 1040.5h0M1039.8 1040.2h0M1076.4 1040h0M1060.9 1038.8h0M1122.4 1030h0M1115.8 1028.7h0M1060.2 1022.1h0M1126.9 1008.9h0M1048.5 1034.2h0M1048.9 1027.1h0M1046.1 1033.1h0M1099.8 1023.2h0M1084.2 1034h0M1108 1040.8h0M1126.9 1035.4h0M1075 1003.8h0M1124.4 1027.5h0M1083 1042.4h0M1070.5 1017.1h0M1162.2 1007.9h0M1069.8 1021.3h0M1006.8 1026.4h0M1079.7 1039.3h0M1064 1036.7h0M1099.1 1036.9h0M1073.4 998.9h0M1059.5 1039.6h0M1026 1031h0M1131.8 1028.9h0M1048 1036.3h0M1040.4 1038.4h0M1119.6 1039.1h0M1082.7 1042.5h0M1070 1042.5h0M1093.7 1030.8h0M1062.8 1032.7h0M1068.9 1041.3h0M1087.3 1040.5h0M1018.9 1028.1h0M1075.3 1033.2h0M1057.4 1040.3h0M1137.7 1035.6h0M1052.9 1026.2h0M1071.7 1038.3h0M1056.3 992.8h0M1090.8 1042.3h0M942.9 1008.4h0M1060 1012.4h0M1020.4 1033.4h0M1012.6 1021.7h0M1050 1030.5h0M1059.8 1041.9h0M1033.4 1004.1h0M1182.7 1022.4h0M1040.2 1039.9h0M1109 1027.8h0M1105.8 1040.8h0M1083.1 1041h0M1063.3 1042.3h0M1058.3 1026.1h0M1081.2 1040.5h0M1037.5 1038.5h0M1135.1 1016.3h0M1087.7 1030.3h0M964.1 1004.7h0M1067.1 1005.4h0M1113.6 1026h0M1111.4 1038.2h0M1105.9 1032.7h0M1083.9 1037.4h0M1136.7 1027.1h0M1015.7 1031.4h0M1039.9 1029.9h0M1121.9 1031.1h0M1072.1 1040h0M998.7 1030.8h0M1071.1 1038.2h0M1025.2 1032.1h0M1082.8 1031.6h0M1079.7 1042.5h0M1069 1031.7h0M989.8 1024h0M1094.1 1024.2h0M1013 1023.1h0M1041.4 1040.3h0M1098.8 1033.3h0M1057.8 1040.3h0M1068.7 1037.2h0M1043.6 1039.5h0M1086.1 1032h0M1077.4 1039.1h0M1098.1 1031.5h0M1044.1 1033.9h0M1025.1 1031.9h0M1103.5 1036.6h0M1084.8 1042h0M1090.3 1022.2h0M1058.2 1026.8h0M1092.8 1028.7h0M1102.9 1022.6h0M1070.1 1030.7h0M1055.4 1029h0M1128.3 1033.9h0M1080.9 1033.6h0M1213.8 997.2h0M1086.4 1019.8h0M1109.6 1036.4h0M1089.8 1034.4h0M1059.6 1036.4h0M1069.1 1020h0M1135.6 1036.1h0M1071.4 1004.6h0M1086.1 1041.2h0M1098.2 1041.7h0M1085.4 1029.4h0M1083 1031.6h0M1093 1036.2h0M1070.7 1039.1h0M1051 1014.5h0M1107.3 1020.3h0M1040.6 1030.8h0M1067.5 1041.8h0M1110.9 1038.9h0M1177 1020.9h0M1068.4 1031.5h0M1084.7 1033.3h0M1193.5 1016.7h0M992.3 1021.5h0M1045.5 1026.2h0M1047 1038.8h0M1070.8 1031.9h0M1063.5 1031.7h0M1127.6 1025.9h0M1090.1 1038.8h0M999.2 1008.6h0M1166.2 995.5h0M1053 1038h0M1017.7 1000.6h0M1066.7 1039h0M1020.7 1005.6h0M1093.7 1035.1h0M1073.5 1037.6h0M1132.1 1002.4h0M1097.3 1040.8h0M1064.1 1010h0M1019.2 1035.2h0M1078.1 1037.5h0M1082.9 1041.3h0M1060.5 1039.8h0M1063.3 1034.1h0M1055.8 1036.5h0M1026.8 1032.4h0M1075.8 1034.1h0M1089 1036.9h0M1120.5 1029.8h0M1001.1 1003.4h0M1082.6 1038.4h0M1132.7 1032.2h0M1056.7 1040h0M1041.2 1036.1h0M1095.7 1041.4h0M1053.6 1030.9h0M1079.5 1038.1h0M1066.3 1031h0M1083.7 1034h0M1080.2 1041.8h0M1097.9 1016.2h0M1035.9 1038.9h0M1033 1026h0M1077.6 1028.2h0M1067.1 1042.5h0M1066.5 1040.4h0M1099.2 1038.9h0M1040.5 1038.5h0M1169.5 1012h0M1170 1013.9h0M1067.6 1009.6h0M1087.3 1040.4h0M1116.8 1039.3h0M1102 1040.3h0M1044.5 1030.1h0M1080.6 1019.4h0M1039.8 1026.5h0M1058.3 1028.6h0M1083.2 1020.4h0M1030.2 1038.7h0M920.8 996.3h0M1050.2 1040.1h0M1074.7 1034.8h0M1070.8 1026.2h0M1071.1 1034.6h0M1070.1 1041h0M1085.6 1042.4h0M1037.1 1020h0M989.2 1009h0M1026.3 1036.7h0M1040 1032.9h0M1003.7 1022h0M1072.9 1022.4h0M1060.8 1039.8h0M1067.4 1027.7h0M958.7 1009.1h0M1131.2 1035.8h0M1081.7 1034.7h0M1088.5 1039.2h0M1077.9 1032.6h0M1150.3 1033.5h0M1102.5 1041h0M1057.2 1011.3h0M1122.4 1015.4h0M1065.6 1028.8h0M1111.6 1037.8h0M1111.6 1016.8h0M1084.7 1031.8h0M1038.8 1036h0M1012.5 1030.5h0M1114.2 1032.4h0M1032.9 1017.5h0M1120.5 1023.3h0M1097.4 1038.8h0M1117.7 1036.6h0M1081.5 1040.9h0M1118.6 1036.2h0M1070.2 1038.9h0M1044.4 1030.5h0M1162.9 1023.6h0M1106.1 1037.1h0M1009.8 1024h0M1050.2 1032.9h0M1104.1 1032.6h0M1085.4 1034.8h0M1088.4 1034.5h0M1095.5 1038.5h0M1078.8 1031.5h0M1199.5 1015.4h0M987.9 1013h0M1066.3 1024.4h0M1065.7 1025.1h0M1126.6 1035.3h0M1063.9 1041.9h0M1073.8 1039.5h0M1064.8 1032.6h0M1219.8 1000.3h0M1120.1 1037.6h0M1093 1041.7h0M1067.2 1041.6h0M1067.8 1034.8h0M1047.5 1028.8h0M1071.4 1037.2h0M1110.7 1026.2h0M1101.7 1031.6h0M984.5 1023.3h0M1126.3 1036.2h0M1110.1 1030.3h0M1105.1 1041.1h0M1104 1031.2h0M1087.5 1041.1h0M1133.9 1020.1h0M1096.5 1040.3h0M1033.1 996.5h0M1211.1 1012.4h0M1083 1035.8h0M1076.1 1025.1h0M1112.5 1007.9h0M1094.6 1040.3h0M1051.4 1037.1h0M1187.4 1020.4h0M1089.9 1040.2h0M1008.3 1027.9h0M1040.1 1034.3h0M1000.8 1032.4h0M988.7 1010.8h0M1113.9 1027.8h0M1063.3 1029.3h0M1114.7 1023.5h0M1045.6 1034.8h0M1072.1 1031.3h0M1066.8 1041.1h0M1114.4 1037h0M1070.9 1042h0M1090.2 1035.6h0M1075.5 1036.7h0M1076.2 1041.9h0M1191.5 1007.8h0M1159.1 1030.5h0M1006.7 1030.7h0M1138.4 1014.7h0M1034.8 1003.4h0M1012.6 1030.1h0M1107.1 1037.6h0M1073.4 1038.7h0M1086.9 1035.9h0M1041 1037.4h0M1015.3 1012.4h0M1073.6 1030.8h0M1121.6 1038.7h0M1149.4 1017.2h0M999.9 1015.9h0M1143.4 1032.1h0M1088 1038.5h0M1069 1042h0M1065.4 1026.3h0M1074.6 1039.8h0M1028.4 1026.2h0M1171.6 1012.4h0M1019.9 1035.1h0M1049 1028.1h0M1074 1026.6h0M982.7 1018.1h0M1078.7 1040h0M1062.8 1038.4h0M982.9 1026.2h0M1032.3 1025.3h0M1045.8 1025.1h0M1058.3 1026.7h0M1014.6 1035h0M1044.3 1033.6h0M1101.2 1040.1h0M1212.8 1005.3h0M1088.3 1032.5h0M1026.7 1019.9h0M1059.6 1037.3h0M1047.5 1039.3h0M1067.6 1040.2h0M1075.3 1023.4h0M1028.8 1035.6h0M945.8 1004h0M1058.1 1040.5h0M1062.2 1042.1h0M1215.7 1009.2h0M1078.2 1040.1h0M1132 1027.2h0M981.9 1014.7h0M1008.5 1006.1h0M1137.9 1033.6h0M1047.5 1034.8h0M1055.9 1037.5h0M1129.5 1021.9h0M1074.9 1039.1h0M1078.9 1035.7h0M1118.9 1029h0M1131.9 1024.8h0M1193.8 1006.9h0M1006.9 1020.7h0M1028.3 1015.1h0M1081.2 1041h0M1130.4 1029.7h0M1062.7 1018.7h0M1064.7 1039.8h0M1051.8 1034.1h0M1128.8 1030.6h0M1123.5 1035.4h0M975.2 1022.3h0M1074.9 1040h0M1089.3 1037.1h0M1172.2 1018.3h0M1003.6 1022.6h0M1122.4 1028.6h0M1101.8 1021.7h0M1117.7 1039.9h0M1107.3 1034h0M986.9 1017.9h0M1152.4 1001.5h0M1089.9 1032.4h0M927.2 1003.3h0M1059.5 1023.9h0M1102.6 1027.5h0M1112.9 1040.4h0M1054.4 1035.5h0M1069.1 1039.1h0M1131.4 1018.7h0M1069.8 1038.3h0M1046.4 1038.1h0M1078.7 1040.7h0M1056 1038h0M1094.4 1036.4h0M1079 1011.4h0M1087.3 1041.7h0M1092.4 1041.1h0M1120.8 1033.6h0M1013.2 1027.8h0M1157.9 1016.3h0M1038.8 1015.1h0M1129.5 1035.8h0M1105.3 1036.6h0M1140.6 1033.5h0M1070 1027.4h0M1058.4 1030.8h0M1090.4 1030.4h0M1076.2 1041.7h0M1130.4 1001.8h0M1088.5 1038.4h0M1106.2 1040h0M1106.6 1030.3h0M1069.2 1017.9h0M1057.4 1038h0M1071.8 1038h0M1049.8 1022.6h0M1062.4 1034.8h0M1104.8 1032.7h0M1130.3 1036.8h0M1062.2 1039.8h0M1079.5 1040.5h0M1106.6 1037.4h0M971 1021.1h0M1083.3 1029.7h0M1021.8 1027.6h0M1078.7 1034.3h0M1092 1038.3h0M1026.7 1029h0M1144.8 1032.7h0M990.5 995.4h0M1082.4 1037h0M1106.9 1030.8h0M1169.9 1006.1h0M1153.8 1032.5h0M1135.5 1025.1h0M1072.5 1038.5h0M1069.4 1028.1h0M1067.1 1040.4h0M1172 1027.5h0M1082.2 1037.5h0M1103.7 1039.1h0M1056.4 1010.9h0M1122.3 1033.9h0M1129 1033.3h0M1104.4 1026.9h0M1125.4 1030.8h0M1033.4 1039.5h0M1131.5 1014.6h0M1118 1016.1h0M1062.2 1034h0M969 1015.4h0M1099.3 1040h0M1084 1038.9h0M983.7 995.2h0M972.4 1022.5h0M1037.3 1031.2h0M1092 1039.3h0M1072.5 1035.8h0M1107.8 1012.3h0M1108.4 1034h0M1064 1009.1h0M1126.8 1034.3h0M1089.9 1030.4h0M1079.1 1028.1h0M1046.1 1010.1h0M1080.3 1019.3h0M1092 1028.9h0M1042.9 1028.8h0M1014 1025.4h0M1060 1006.3h0M1024.5 1027.8h0M1013.8 1010.9h0M1042.1 1034.5h0M1081.4 1041.4h0M1110.1 1025.6h0M990.7 1027.4h0M1180.9 1014.1h0M1198.9 1016.4h0M1098.7 1012.4h0M1011.9 1035.1h0M1046.6 1036.1h0M961.8 1017.9h0M1081.4 1040.3h0M1053.5 1039.4h0M1084.2 1028.2h0M1065.3 1040h0M989.4 1004.3h0M1072.7 1017.2h0M1152.1 1012.9h0M1059.1 1032.6h0M1095.6 1020.9h0M1062.9 1031h0M1024.1 1035.8h0M1111.5 1010.9h0M1152.7 1009.1h0M1149.3 1021.6h0M970.2 1021.9h0M1065.4 1041h0M1052 1026.5h0M1097.4 1015.6h0M1066.1 1029.1h0M1082.1 1041.8h0M1086.1 1032.8h0M1082.2 1041.7h0M1170 1025.2h0M1000.8 1018.2h0M1058.5 1031.1h0M1067.7 1034.7h0M1128.4 1033.3h0M1036.7 1033.5h0M1099.4 1025.1h0M1029 1033.4h0M1159.4 1021.3h0M1088.9 1039.7h0M1083.1 1038.2h0M1030.1 1016h0M1069.9 1039.8h0M1077.2 1032.8h0M1093.1 1038.1h0M1011.6 1022.5h0M1021.1 1016.9h0M1079.1 1042.3h0M1070.5 1041.3h0M1005.6 1033h0M1047.5 1030.2h0M1092.1 1038.7h0M1088.7 1028.8h0M1054.8 1033.2h0M1095.2 1023.1h0M1083.2 1042.4h0M1070.1 1038.3h0M1122.1 1030.6h0M1094.4 1035h0M985.2 1028.3h0M964.9 1019.1h0M1110.5 1029.3h0M993.6 1013.3h0M1130.2 1019.2h0M1079 1036.8h0M1072.7 1035.7h0M1066.3 1021.1h0M1053.3 1032.7h0M1103.3 1038.3h0M1040 1020.3h0M992.7 1029.3h0M1095.4 1040.3h0M1069.1 1038.7h0M1074.2 1034.2h0M1138.6 1027.2h0M1208.3 1010.6h0M1085.7 1033.1h0M1083.7 1035.2h0M1091.7 1038.6h0M1062.6 1027.4h0M1041 1039.6h0M1072.7 1035.2h0M1116.5 1031.6h0M1040.4 1011.5h0M1085.8 1041h0M999.5 1024.9h0M1117.5 1027.4h0M1132.9 1012.9h0M1094.4 1041.7h0M1087.5 1028h0M1069.9 1031.5h0M1058.5 1037.5h0M1095.5 1034.2h0M1078 1028.6h0M1073.2 1038.8h0M1030.2 1033.9h0M1094.6 1035.6h0M1182.8 1015.8h0M1132 1037.7h0M1080.1 1039.7h0M1052.2 1003.3h0M1050.4 1034.7h0M1060.9 1036.3h0M1049.5 1022.5h0M1070 1033.4h0M1076.2 1039.2h0M1044.5 1035.4h0M985.4 1021.1h0M1031 1031.9h0M1081.8 1033.9h0M1112.9 1024.8h0M1099.2 1041.3h0M968.2 1014.5h0M995.1 1026h0M1170.2 1016.6h0M1077 1034.3h0M1070.5 1038h0M1018 1018.9h0M1050.6 1033.2h0M1105.5 1037h0M1106.7 1033.3h0M1130.7 1037.9h0M1084.8 1041.9h0M1107.8 1037.1h0M1073.9 1041.4h0M1077 1019.2h0M1064.9 1034.6h0M1102.6 1035.6h0M1062.5 1034.5h0M1040.3 1030.3h0M947.5 1013h0M990.5 1015.1h0M1120.6 1014.7h0M1084.1 1024.2h0M1136.4 1018h0M1119.6 1017.4h0M1101.1 1035.2h0M1087 1027.6h0M1120 1038.9h0M1074.9 1042.3h0M1090.9 1029.6h0M1080.8 999.5h0M1049.7 1037.8h0M1057.4 1017.3h0M995.9 1017.1h0M1045.3 1034.9h0M1062.7 1036h0M1090 1032h0M974.6 1023.7h0M1034.9 1030.3h0M1023.8 1028h0M1003.5 1029.7h0M1087.7 1036.3h0M1087.6 1025.5h0M961.7 1014.9h0M1067.4 1036.1h0M1061.1 1040.3h0M1132.9 1031.5h0M1037.7 1036.1h0M1115.6 1036.1h0M1052.8 1034h0M1065.4 1038.5h0M1097.5 1016.1h0M1069 1030.5h0M944.6 1007.4h0M1118.5 1039.6h0M1088 1023.3h0M1054.3 1040h0M1102.1 1027.8h0M1038.9 1040.2h0M1072.7 1028.5h0M1071.5 1040.4h0M1064.1 1031.1h0M1054.8 1041.8h0M1157.8 1031.8h0M1085.1 1020.7h0M1065.4 1038.5h0M1072.1 1026.4h0M1084 1030.5h0M1051.6 1038.3h0M1048.2 1036.6h0M941.1 1001.1h0M1030.1 1024h0M1143.8 1024.4h0M998.8 1024h0M1085.6 1030.7h0M1103.3 1029.4h0M1096.8 1027.7h0M1028 1038.4h0M1197.1 1015.6h0M1076 1024.3h0M1086.7 1030h0M1055.6 1037.3h0M1057.2 1035.6h0M1034.2 1029.3h0M994 1019.9h0M1050.6 1037.2h0M1052.1 1041.2h0M1091.8 1030.9h0M1098.7 1014.5h0M1044.7 1038h0M1041.3 1029.6h0M1081.3 1034.9h0M1098.9 1037.2h0M1058.2 1039.8h0M1180.9 1017.1h0M1081.1 1042.1h0M1041.3 1034.6h0M1043.2 1036.7h0M1058.5 1031.7h0M1188.3 994.5h0M1062.1 1029.4h0M1128.1 1009.2h0M1084.5 1014.9h0M1100.6 1038h0M1098.8 1026h0M1176 1024.4h0M1104.3 1035.1h0M1071.2 1026.3h0M1020.5 1035.8h0M1014.2 1033.4h0M1110.8 1027.8h0M1051.9 1036.7h0M1145.2 1021.5h0M1138.3 1025.3h0M1065.1 1036.9h0M1091 1024.1h0M1142.8 1006.9h0M1083.9 1037.2h0M1107.3 1032.3h0M1119.6 1027.4h0M1068 1036.2h0M1041.7 1022.2h0M1031.2 1034.8h0M1118.4 1039.8h0M1049.7 1032.3h0M1151.1 1014.7h0M1034.4 1009.8h0M963.9 1017.1h0M1089.4 1040.6h0M1063.4 1042h0M1099.9 1036.2h0M1079.6 1042.4h0M1093.1 1026.4h0M1081.7 1037.9h0M1078.4 1037.8h0M1041.6 1036h0M1165.9 1016.1h0M1136 1030.5h0M949.5 997.1h0M1100.1 1009.5h0M1111.9 1031.5h0M1111.9 1025.3h0M1009.4 1029.6h0M1062.5 1020.8h0M1070.7 1032.8h0M1149.3 1005.7h0M1115.9 1027.9h0M1111.1 1032h0M1022.9 1036.3h0M1145.1 1020.3h0M973.4 1008.9h0M1049.9 1036.3h0M1078.2 1025.8h0M1054.1 1035.7h0M1071.6 1028.4h0M1075.6 1012.4h0M1077.9 1040.5h0M1039.8 1029h0M1053 1039.3h0M1029 1038h0M1099 1011.1h0M1111.7 1019.8h0M1066.8 1033h0M1092.2 1021.8h0M1102.2 1014.2h0M1049 1040.3h0M1052.7 1029.2h0M975.4 1020.9h0M1109.6 1039h0M1075.6 1026.3h0M1060.3 1041.5h0M1076.3 1042.3h0M1113.6 1037.7h0M1110.3 1035.3h0M1077.5 1039.8h0M1118.2 1010.3h0M1055.2 1029.1h0M1078.2 1032.8h0M1139.9 1000.8h0M1034 1030.8h0M1168.4 1013.4h0M1101.5 1011.1h0M1093.6 1036.3h0M1093.7 1037.7h0M1063.2 1020.9h0M1130.1 1037.2h0M1123.8 1035.9h0M1016.3 1025.9h0M1027.4 1029.6h0M1058.1 1005.1h0M1034.1 1037.7h0M1091.4 1038.5h0M1073 1023.4h0M1025.7 1023h0M1123.2 1023.1h0M1015.4 1016.5h0M1065.5 1030.2h0M1083.2 1035.2h0M1072.5 1040.9h0M961.6 1013.3h0M1033 1039.4h0M952.5 1002.5h0M1078.5 1041.2h0M1066.9 1038.8h0M1125.3 1034.1h0M1111.7 1032.6h0M1054.5 1038h0M1125.2 1026.5h0M1079.7 1031.2h0M1080 1002.2h0M1023.2 1016.1h0M1079.2 1038.4h0M1069.7 1040.9h0M1115.6 1018.6h0M1016.5 1032h0M1074.3 1037.7h0M1078 1042.5h0M1040.5 1036.7h0M1092.5 1005.1h0M1046.9 1033.4h0M1094.5 1037.6h0M1077 1042.4h0M1086.8 1040h0M1117.8 1023.1h0M1076.8 1041.4h0M1013.2 1033.5h0M1064.4 1026.5h0M1050.4 1021.9h0M1086.8 1041.3h0M1137.2 1010.3h0M1076.8 1037.6h0M1019.5 1036.3h0M1156.1 1024h0M1164.7 1009.9h0M1042.1 1039.3h0M992.7 1026.9h0M1048.3 1024h0M1077.1 1042.4h0M1171.3 1021.7h0M1043.5 1037.6h0M1076.9 1037h0M1089.4 1032.6h0M1196.8 1016.6h0M1059.4 1038.4h0M1140.1 1028.7h0M1069.3 1030.3h0M1098 1037.4h0M1101.4 1030.1h0M1072.8 1025.8h0M1106.6 1031.6h0M1084 1038.5h0M1078.7 1042.2h0M1153.4 1023.4h0M1078.5 1026.7h0M1079.3 1037.7h0M1078.8 1029.3h0M1017 1017.8h0M1071.9 1035.9h0M1104.5 1040.8h0M1103.9 1022.4h0M1008.1 1025.8h0M1076.5 1031.7h0M1092.5 1002.8h0M1132.4 1037.4h0M1134.5 1031h0M1114.1 1025.8h0M1050.7 1036.9h0M1064.8 1037.4h0M1070.3 1041.2h0M1091.9 1041.3h0M1176.1 1016h0M1148.6 1033.8h0M1032.6 1030.7h0M969.3 1022h0M1157 1026.2h0M1087.6 1027h0M1075.3 1041.6h0M1029.7 1036.8h0M1018.8 1031.3h0M1096.8 1007.3h0M1052.6 1033h0M1021.7 1036.8h0M934.6 1007.3h0M1097.3 1011.3h0M1094.6 1033.7h0M1016.9 1023.6h0M1104.4 1029.2h0M1091 1028.5h0M1162.1 1019.9h0M1019.6 1035.5h0M1064.7 1031.9h0M1093.4 1041.6h0M1064.1 1041h0M1025.5 1032.8h0M1081.1 1041h0M1070.6 1002.4h0M1021.8 1016.4h0M1133.9 1028.2h0M1078.1 1038.2h0M1061.2 1039.3h0M1099.8 1036.8h0M1090.3 1032.2h0M1097.9 1028.3h0M1092.6 1041.3h0M1118.3 1031.6h0M993.5 1018.9h0M1134.7 1020.3h0M1029.5 1035.7h0M1070.2 1039.2h0M1172.8 1019.7h0M1142.5 1031.9h0M1086.8 1026.6h0M1159.4 1024.1h0M1064.8 1040.1h0M1145.2 1019.4h0M1058.6 1026.1h0M1024.5 1036h0M1037.2 1038.9h0M1088.7 1042h0M1145.2 1027.7h0M1076.7 1039.3h0M1125.9 1033.4h0M1051.4 1018.9h0M1049.5 1038.5h0M1065.1 1023.1h0M1064.3 1038.2h0M1063.6 1038.2h0M1051.5 1024.8h0M1064.9 1036.9h0M1067.9 1042.1h0M1072 1038.9h0M1104.6 1037.6h0M1063.8 1032.5h0M1062.6 1035.2h0M983.5 1017.8h0M1083.8 1038.6h0M1077 1022.9h0M1163 1014h0M1049.1 1038.9h0M1067.5 1032.3h0M1054.4 1027.1h0M986.7 1026.5h0M1067.8 1038.1h0M1104.2 1034.2h0M1048.7 1023.9h0M1056 1039.1h0M1015.2 1007.4h0M1036.5 1034.7h0M1086.1 1026.4h0M1088 1020h0M1048.7 1039.1h0M1024.1 1032.3h0M1071.9 1025.5h0M1023.9 1029.9h0M975.9 1000.6h0M1087.7 1038.8h0M1070.3 1016h0M1071.9 1008.5h0M1043.4 1032.5h0M1024.2 1037.1h0M1062.7 1034.5h0M1054.1 1032.1h0M1104.4 1024.8h0M1078.9 1037.3h0M1083.4 1042h0M1101.3 1038.6h0M1120.9 1035.6h0M1044.3 1032.2h0M1095.2 1036.7h0M1138.7 1033.9h0M1112.4 1019.3h0M1075.4 1039.5h0M1060.1 1018.5h0M1087 1036.7h0M1026 1036.4h0M1039.8 1040.3h0M1090.7 1041.6h0M1086.8 1039.5h0M1011.1 1011.4h0M929.2 1005.7h0M1049.8 1030.3h0M1162.4 1018.2h0M1096.9 1022.2h0M1139.5 1033.2h0M1183.4 1015.5h0M1139.8 1032.9h0M1075.3 1037h0M1008.8 1034.4h0M1012.3 1034.3h0M1049.5 1039.9h0M1076.4 1041.6h0M1098.8 1003.8h0M1027.2 1025.5h0M1117.7 1035.7h0M1043.3 1029h0M1040.4 1040.1h0M988.4 1028.4h0M1130.7 1032.7h0M1083.5 1040.9h0M1030.4 1038.2h0M1124.1 1037.3h0M984.3 1023.5h0M1058.6 1022.6h0M1128.7 1029.7h0M1111 1034.6h0M1089 1036.1h0M1084.9 1034.9h0M1071.6 1041.4h0M1114.1 1016.8h0M1057.3 1019.6h0M1080.1 1042.5h0M978.5 1015.9h0M1105.9 1020.6h0M1004.2 1030.6h0M1086.4 1042.1h0M1068.2 1029.2h0M1017.3 1035.9h0M1105.9 1041.2h0M1014 1018.5h0M1147.7 1009.6h0M1139.8 1031.3h0M1039.2 1039.8h0M1176 1025.4h0M1061.2 1035.5h0M1105.6 1028.6h0M1053.9 1032.9h0M1019.7 1029h0M1057.1 1035.4h0M1043.6 1038.1h0M1177.4 1001.3h0M1047.6 1022.2h0M1050.1 1013.5h0M1038.5 1036.9h0M1086.2 1036.1h0M1103.9 1033h0M1006.5 1013.4h0M1109.8 1025.8h0M1047.4 1028.3h0M1079.2 1032.9h0M1109.5 1031.3h0M1071.2 1039.9h0M1076.5 1041h0M1098.6 1028.3h0M974.9 1024.5h0M1080.3 1040.5h0M1040.8 1023.7h0M1045.4 1039.8h0M1066.8 1041.9h0M1105 1038.6h0M1053.7 1028.5h0M1068.1 1037.6h0M1098.7 1038.7h0M1083.2 1040.4h0M1023.9 1018.5h0M1065.3 1041.1h0M1111 1039.9h0M1115.7 1030.8h0M1083.6 1027.6h0M1077.2 1038.9h0M1108.1 1019.2h0M1117.6 1034.6h0M1146.1 1001.6h0M1021.8 1036.3h0M1099.1 1037.7h0M1066.5 1038h0M1073.8 1023.9h0M1099.4 1040.2h0M1183.6 1023.6h0M1042.1 1006.8h0M1113.6 1040.2h0M1125.4 1033.5h0M1063.9 1038.9h0M1021.8 1021.2h0M1073.4 1030.1h0M1074.9 1014.1h0M1050.8 1009.7h0M1104.9 1039.4h0M1078.4 1040.3h0M1062.2 1035.6h0M1077 1041.2h0M1117.9 1031.7h0M1048.2 1036.7h0M1068 1028.1h0M1100.6 1031.8h0M1112.8 1029.2h0M1089 1041.6h0M1072.1 1042.5h0M1117.2 1039.9h0M1114.1 1033.3h0M1114 1023h0M1036.5 1035.6h0M1050.7 1039.7h0M1082.1 1034.9h0M1081.2 1037.9h0M1085 865.4h0M1086.3 826h0M1090.1 798.4h0M1063.2 883.1h0M1065.7 896.9h0M1083.7 893h0M1087.6 861.5h0M1088.9 859.5h0M924.4 1007.2h0M1226.4 1009.2h0M951.4 991.5h0M1198.1 995.4h0M1069.6 902.8h0M1068.3 908.7h0M1085 910.7h0M1088.1 920.6h0M959.1 1013.2h0M1190.4 1011.2h0M979.6 999.4h0M1177.5 1001.3h0M943.7 997.4h0M1208.4 999.4h0M1213.5 993.5h0M933.4 1003.3h0" stroke="#aeb6b6" stroke-width="2.4" stroke-linecap="round" fill="none"/>
<path d="M1099.9 735.4h0M1094 794.5h0M1110.7 806.3h0M1093.2 883.1h0M1094.8 885.1h0M1130 891h0M1092.7 906.8h0M1094.8 922.5h0M1095.3 928.4h0M1102.5 938.3h0M1099.1 942.2h0M1093.2 944.2h0M1095.3 948.1h0M1096.6 956h0M1094 958h0M1097.9 963.9h0M1095.3 969.8h0M1093.2 971.8h0M1096.6 973.8h0M1094.8 975.7h0M1095.8 977.7h0M1093.2 979.7h0M1100.4 975.7h0M1101.7 983.6h0M1094 985.6h0M1103 987.5h0M1105.6 989.5h0M1113.3 977.7h0M1114.6 979.7h0M1109.4 973.8h0M1118.4 985.6h0M1121 987.5h0M1124.8 989.5h0M1126.1 950.1h0M1127.4 965.9h0M1131.3 965.9h0M1137.7 963.9h0M1149.3 960h0M1149.3 983.6h0M1145.4 991.5h0M1167.2 986.8h0M1167.2 991.5h0M1180.1 985.6h0M1200.7 979.7h0M1201.9 989.5h0M1204.5 986.4h0M1205.8 971h0M1218.6 944.2h0M1094 989.5h0M1108.1 989.5h0M1097.9 981.6h0" stroke="#ee2211" stroke-width="2.7" stroke-linecap="round" fill="none"/>
<path d="M1046.5 837.8h0M1052.9 849.6h0M1059.3 873.3h0M1059.8 896.9h0M1054.2 916.6h0M1049 934.4h0M1052.9 926.5h0M1059.3 924.5h0M1047.7 940.3h0M1054.2 948.1h0M1058 952.1h0M1058.8 950.1h0M1033.6 956h0M1036.2 961.9h0M1051.6 960h0M1052.9 963.9h0M1055.5 961.9h0M1059.3 971.8h0M1060.6 973.8h0M1046.5 977.7h0M1042.6 981.6h0M1050.3 979.7h0M1054.2 981.6h0M1051.6 985.6h0M1049 987.5h0M1056.7 985.6h0M1060.6 983.6h0M1041.3 989.5h0M1043.9 988.3h0M1023.3 980.4h0M1029.8 982.8h0M1015.6 987.5h0M1007.9 978.9h0M1002.8 981.6h0M987.3 984.4h0M977.1 973.8h0M982.2 954.1h0M984.8 948.1h0M966.8 977.7h0M964.2 978.9h0M961.6 961.9h0M951.4 954.1h0M948.8 972.6h0M948.8 988.3h0M953.9 980.4h0M956.5 989.5h0M933.4 944.2h0M1047.7 984.4h0" stroke="#33bb1a" stroke-width="2.7" stroke-linecap="round" fill="none"/>
<line x1="1061.9" y1="723" x2="1061.9" y2="1054" stroke="#c3c9c9" stroke-width="1.3"/>
<line x1="1091.9" y1="723" x2="1091.9" y2="1054" stroke="#c3c9c9" stroke-width="1.3"/>
<line x1="910.5" y1="991.3" x2="1239" y2="991.3" stroke="#c3c9c9" stroke-width="1.3"/>
<rect x="910.5" y="722.5" width="329" height="332" fill="none" stroke="#707070" stroke-width="1.1"/>
<circle cx="926" cy="739.4" r="2" fill="#aeb6b6"/>
<text x="932.6" y="741.9" font-size="7.2" fill="#222">Filtered</text>
<circle cx="926" cy="748.5" r="2" fill="#ee2211"/>
<text x="932.6" y="751" font-size="7.2" fill="#222">Up</text>
<circle cx="926" cy="757.6" r="2" fill="#33bb1a"/>
<text x="932.6" y="760.1" font-size="7.2" fill="#222">Down</text>
<line x1="923.1" y1="1054.1" x2="923.1" y2="1058" stroke="#555" stroke-width="1"/>
<text x="923.1" y="1075.1" font-size="15.7" text-anchor="middle">-6</text>
<line x1="974.5" y1="1054.1" x2="974.5" y2="1058" stroke="#555" stroke-width="1"/>
<text x="974.5" y="1075.1" font-size="15.7" text-anchor="middle">-4</text>
<line x1="1025.9" y1="1054.1" x2="1025.9" y2="1058" stroke="#555" stroke-width="1"/>
<text x="1025.9" y="1075.1" font-size="15.7" text-anchor="middle">-2</text>
<line x1="1077.3" y1="1054.1" x2="1077.3" y2="1058" stroke="#555" stroke-width="1"/>
<text x="1077.3" y="1075.1" font-size="15.7" text-anchor="middle">0</text>
<line x1="1128.7" y1="1054.1" x2="1128.7" y2="1058" stroke="#555" stroke-width="1"/>
<text x="1128.7" y="1075.1" font-size="15.7" text-anchor="middle">2</text>
<line x1="1180.1" y1="1054.1" x2="1180.1" y2="1058" stroke="#555" stroke-width="1"/>
<text x="1180.1" y="1075.1" font-size="15.7" text-anchor="middle">4</text>
<line x1="1231.5" y1="1054.1" x2="1231.5" y2="1058" stroke="#555" stroke-width="1"/>
<text x="1231.5" y="1075.1" font-size="15.7" text-anchor="middle">6</text>
<line x1="905" y1="1042.7" x2="910.3" y2="1042.7" stroke="#555" stroke-width="1"/>
<text x="900" y="1048.1" font-size="15.7" text-anchor="end">0</text>
<line x1="905" y1="963.9" x2="910.3" y2="963.9" stroke="#555" stroke-width="1"/>
<text x="900" y="969.3" font-size="15.7" text-anchor="end">2</text>
<line x1="905" y1="885.1" x2="910.3" y2="885.1" stroke="#555" stroke-width="1"/>
<text x="900" y="890.5" font-size="15.7" text-anchor="end">4</text>
<line x1="905" y1="806.3" x2="910.3" y2="806.3" stroke="#555" stroke-width="1"/>
<text x="900" y="811.7" font-size="15.7" text-anchor="end">6</text>
<line x1="905" y1="727.5" x2="910.3" y2="727.5" stroke="#555" stroke-width="1"/>
<text x="900" y="732.9" font-size="15.7" text-anchor="end">8</text>
<text transform="translate(881.4 890.7) rotate(-90)" font-size="15.79" text-anchor="middle">-Log<tspan font-size="9.5" dy="3.5">10</tspan><tspan dy="-3.5">(p-value)</tspan></text>
<text x="10.4" y="1142.7" font-size="20.2">H</text>
<path d="M277 1290L281 1280L288 1275L297 1272L306 1274L312 1279L314.5 1288L314.5 1325.5L330 1326.5L345 1327.5L352 1330L353 1343L345 1347.5L330 1348.5L314.5 1348.9L314.5 1375L310 1384L300 1387L288 1386L280 1380L276.6 1370L276.6 1348.9L262 1348.5L254 1346L253 1331L262 1326.5L276.6 1325.5Z" fill="#d3d3d3"/>
<path d="M281.2 1281h0M268.7 1347.2h0M279.3 1373.4h0M278.2 1370.4h0M312.9 1323.4h0M285.5 1382.9h0M269.9 1327.4h0M314.1 1296.5h0M286.2 1277.1h0M305.2 1309.4h0M345.2 1326.6h0M277.3 1293.4h0M313.7 1296.1h0M309.7 1321.2h0M293.4 1386.7h0M355 1339.3h0M277.3 1323.9h0M278.7 1292.4h0M351.6 1347.2h0M313.4 1384.1h0M285.7 1274.6h0M325.4 1328h0M278.7 1338.9h0M313.1 1279.7h0M280.2 1376.8h0M314.1 1310.1h0M341.7 1347.7h0M277.9 1362.7h0M268.7 1343.5h0M278.4 1324h0M279.7 1374h0M286.2 1384.7h0M299.9 1393h0M253 1329.3h0M350.6 1340.4h0M253.7 1326h0M279.7 1288.3h0M300.9 1267.4h0M289.1 1385.7h0M255.6 1343.3h0M255.3 1333.8h0M272.5 1348.9h0M313.6 1352.3h0M259.5 1345.6h0M266.3 1346.7h0M252.9 1348.7h0M281.5 1382.3h0M267.3 1346.5h0M283.8 1279.7h0M326.9 1348.1h0M341.7 1348.2h0M280.6 1318.9h0M346.6 1345.9h0M338.6 1347.3h0M352.8 1329.7h0M265.3 1348.7h0M351.5 1344.6h0M350.5 1337.2h0M258.3 1328.5h0M258.9 1328.3h0M320 1348.4h0M330.1 1346.9h0M283 1379.8h0M350.8 1335.8h0M355.3 1344.6h0M314.4 1390.3h0M321 1347.5h0M298 1272.2h0M312.9 1384.7h0M254.2 1348h0M310.1 1381h0M297.8 1391.7h0M314.3 1365.3h0M296.5 1273.5h0M261.8 1328.2h0M267.2 1326.4h0M276.5 1295.8h0M286.2 1397.8h0M295 1386.8h0M311.8 1279.2h0M305.2 1393.1h0M276.7 1302.5h0M255.9 1342.6h0M277.4 1316.5h0M276.8 1293.8h0M277.3 1314.3h0M278.7 1280.2h0M313.1 1272.2h0M281.2 1377.2h0M306.1 1273.8h0M304.6 1275.4h0M263.6 1347.6h0M278.8 1377.1h0M312.2 1317.1h0M313.2 1308.5h0M351.4 1341h0M279.3 1381.7h0M313.9 1311.2h0M291 1386.3h0M278.6 1312.9h0M279.5 1279h0M320.9 1347.3h0M277.7 1285.8h0M277.7 1321.6h0M296.5 1271.8h0M351.4 1336.2h0M255 1331.3h0M278.2 1358.3h0M283.5 1281h0M349.3 1344.9h0M289.1 1309.2h0M312.8 1306.4h0M306.5 1393h0M319.5 1348.2h0M278.4 1302.9h0M301.1 1385h0M283.3 1279h0M311.6 1281.8h0M294.4 1274.6h0M303.1 1275.6h0M310 1310.4h0M270.1 1347.5h0M297.1 1272.2h0M283.2 1313h0M252.3 1348.4h0M339.2 1345.9h0M305.3 1260.8h0M314.4 1323.2h0M355.4 1338h0M277.6 1289.3h0M310.5 1281.4h0M252.9 1336.7h0M312.7 1309h0M303.2 1383.8h0M312.7 1292.5h0M339.2 1326.7h0M334.2 1348.5h0M360.2 1333.9h0M314.8 1376.2h0M345.7 1346.1h0M323 1347.8h0M281.3 1279h0M288.5 1394.4h0M276.8 1347.6h0M249.7 1336.2h0M279.1 1349.6h0M312.7 1316.1h0M312.1 1298.1h0M303.1 1384.9h0M249.3 1343.9h0M313.5 1315.6h0M285.1 1385h0M297.4 1274.2h0M337.4 1325.5h0M254.5 1338.3h0M288.4 1274.5h0M356.4 1348.8h0M304.5 1274.7h0M278.3 1308.4h0M307 1274.6h0M314.3 1351.2h0M278.6 1316.8h0M300.7 1285h0M322 1331.5h0M286.6 1385.5h0M290.8 1354.4h0M291.6 1267.2h0M276.9 1300.2h0M304.6 1276.2h0M313.7 1371.3h0M352.3 1339.3h0M318.4 1325.6h0M262.8 1327h0M252.3 1346.7h0M311.1 1279.2h0M277.1 1348.9h0M296.4 1388.9h0M276.8 1324.7h0M299.3 1385.1h0M313.8 1375.3h0M252.4 1332.8h0M278.4 1305.7h0M258.8 1347.7h0M313.6 1360.2h0M314.2 1354.1h0M358.4 1336.6h0M328.8 1347.6h0M310.5 1279.8h0M347.4 1327.9h0M253.1 1328.6h0M336.6 1347.7h0M314.1 1282.5h0M286.6 1393.4h0M352.9 1341.9h0M350.2 1331.7h0M314 1371.3h0M253.4 1329.8h0M324.8 1348.3h0M282.8 1275.1h0M332.4 1327.8h0M287.5 1276.6h0M325.3 1346.8h0M313.8 1312.4h0M337.2 1326.6h0M269.3 1346.9h0M298.3 1289.5h0M276.9 1357.6h0M257.6 1327.2h0M343.7 1332.4h0M304.2 1329.7h0M275.2 1348.3h0M277.2 1379.9h0M312.6 1286.4h0M303.5 1376.3h0M312 1350.1h0M281.8 1275h0M279.7 1270.1h0M312.3 1294.1h0M310.1 1380.2h0M276.6 1369.9h0M313.7 1358.7h0M287.6 1277.6h0M278.1 1298.2h0M340.3 1328.9h0M338.6 1326.1h0M312.1 1368.3h0M339.3 1347.8h0M313.7 1293.1h0M313.6 1340.7h0M312.5 1312.7h0M277.7 1365.8h0M354.3 1338.7h0M318.3 1326.4h0M281.9 1281.7h0M320.2 1326.8h0M288.1 1388.1h0M253.8 1329.8h0M287.6 1277.2h0M288.2 1387.7h0M332.4 1346.9h0M278 1360.5h0M280.1 1288.9h0M335.8 1348.5h0M264.8 1347.1h0M340.6 1325.5h0M278.3 1335.8h0M301.7 1271h0M314.8 1373.2h0M293 1267.9h0M351.4 1331.1h0M278.4 1361.3h0M312 1277.9h0M286.5 1293.2h0M276.5 1324.7h0M255.2 1342.5h0M314 1318.5h0M312 1305.1h0M295.4 1386.2h0M277.1 1298.9h0M313.6 1319.7h0M285.2 1383.6h0M261.4 1347.5h0M306.4 1385.2h0M331.7 1327.7h0M283.9 1277.5h0M329.6 1325.5h0M278.9 1284.4h0M314.1 1374.8h0M284.2 1280h0M314.3 1319.6h0M253.6 1347.2h0M286.9 1277.8h0M309.2 1384.6h0M279 1326.2h0M333.4 1347.6h0M350.4 1329.6h0M324.5 1347.7h0M284.3 1269.4h0M312.1 1316.7h0M312.6 1348.6h0M313.6 1369.2h0M332.5 1328.5h0M312.2 1353.6h0M284.4 1383.2h0M329 1328h0M296.4 1309.7h0M289.2 1278.6h0M302.2 1370.6h0M314.7 1375.1h0M342 1325.6h0M259.7 1326.8h0M258.2 1330.4h0M296.9 1274.6h0M312.9 1322h0M335.5 1325.7h0M316.7 1346.8h0M310.7 1344.6h0M305.1 1275.8h0M313 1293.2h0M311.1 1378.9h0M313.2 1304.7h0M299.7 1359.1h0M248.9 1337.5h0M254 1340.1h0M302 1271.3h0M307.9 1385.4h0M260.6 1327.3h0M318 1327h0M279.4 1378.4h0M288.6 1336.8h0M284.6 1265.5h0M285.8 1270.7h0M326 1328.1h0M308.6 1382.3h0M304.8 1274.5h0M281.4 1379.4h0M259.1 1330.4h0M312.7 1294.9h0M295.7 1272.7h0M304.2 1392.9h0M349.3 1345.6h0M302.6 1275.7h0M312.9 1308.2h0M322.9 1332.6h0M298.6 1273.5h0M307.9 1382.3h0M323.1 1328.6h0M352 1338.5h0M278.3 1364.5h0M314.1 1296.1h0M274.3 1337h0M298.7 1385.4h0M306.3 1270.6h0M283.1 1277.8h0M270.9 1326h0M254.3 1343.1h0M285.7 1385.7h0M305 1289.7h0M312.8 1323.9h0M260.8 1347.5h0M280.7 1280.1h0M277.4 1296.7h0M314.4 1270.8h0M283.9 1275.7h0M272.6 1327.7h0M250.6 1330.8h0M254.9 1335h0M284.7 1362.6h0M251.3 1332.7h0M285.9 1381.7h0M310.8 1384.8h0M338.9 1327.5h0M309.1 1278.2h0M268 1348.5h0M339.5 1328.4h0M302.5 1274.6h0M264.9 1326.3h0M334.5 1325.7h0M282.9 1274.4h0M349.6 1345.9h0M278 1358.9h0M276.5 1314.6h0M311.9 1272.6h0M313.8 1323.8h0M322.4 1327.3h0M312.7 1311.8h0M324.4 1327.9h0M335.4 1326.4h0M340.7 1328.7h0M362.6 1347.1h0M278.3 1354.2h0M352.1 1333h0M278.1 1366.3h0M312.3 1285.7h0M312.2 1375.4h0M276.8 1311.9h0M284.6 1382h0M281.7 1384.1h0M261.3 1348.4h0M334.8 1327.1h0M294.8 1274.7h0M340.3 1325.8h0M265.7 1347.2h0M277.2 1322.8h0M298.2 1387.3h0M252.9 1343.2h0M292.6 1384.9h0M314.5 1316.6h0M349.9 1343.2h0M313 1297.7h0M253.5 1339.8h0M291.9 1276h0M299.1 1321.4h0M313.7 1378.3h0M308.8 1389.6h0M260.3 1328.5h0M277.8 1322.4h0M312.1 1356.9h0M348.8 1330.6h0M294.8 1388.8h0M300.3 1289.6h0M273.1 1348h0M356.3 1342.2h0M351.8 1332h0M311.2 1278.9h0M278.3 1286.8h0M255.6 1342.8h0M311.7 1302h0M277.9 1311.7h0M312.1 1275.9h0M351.3 1341.6h0M303.3 1373.7h0M276.6 1317.5h0M313.6 1352.6h0M303.9 1388.5h0M290 1326.9h0M313.1 1317.8h0M278.1 1325.3h0M294.4 1387.7h0M269.3 1327.1h0M299.1 1273.5h0M304.8 1389.3h0M298.4 1272.2h0M280.2 1397.3h0M293.3 1399.8h0M302.9 1414.5h0M278.5 1389.4h0M306.2 1384.9h0M299 1264.2h0M289.7 1273.1h0M307.4 1387.2h0M304.8 1261.4h0M299.7 1392.6h0M314 1389.6h0M299.1 1387h0M288.5 1399.3h0M313.2 1390.3h0M291.8 1393.4h0M312.4 1388.4h0M287.4 1262.4h0M293 1275.5h0M295.6 1386.9h0M304.9 1393.7h0M299.3 1265.9h0M298.9 1390.5h0M290.3 1392.8h0M289.8 1385.5h0M284.1 1389.6h0M307.1 1270.3h0M285.9 1392.2h0M291.8 1273.9h0M284.9 1387.4h0M280.9 1270.6h0M314.1 1271.4h0M313.4 1389.5h0M291.9 1274.5h0M294.7 1385h0M294.9 1267.7h0M289.9 1397.7h0M292.2 1275.3h0M284.9 1398.8h0M282.2 1406.1h0M290.7 1266h0M289.3 1264.5h0M295.2 1268.6h0M281.4 1272.9h0M283.3 1265.1h0M296.7 1266h0M292.8 1386.2h0M277.3 1394.7h0M291.3 1272.2h0M286.1 1401.9h0M287.5 1389.5h0M281.9 1390.8h0M314.1 1405h0M286.8 1261h0M281.1 1385.7h0M303.4 1275.2h0M309.5 1270.6h0M313.5 1386.3h0M303.5 1270.4h0M288.7 1272.8h0M287.2 1257.4h0M291.2 1399h0M302.4 1248.5h0M311.9 1387.6h0M308.1 1384.3h0M291.2 1391.1h0M312.5 1400.3h0M313.8 1254.5h0M277.1 1384.8h0M295.7 1275.3h0M300.9 1386.3h0M286.2 1390.8h0M277.7 1250.1h0M287.4 1270.6h0M310.2 1388.4h0M302 1275.4h0M290.9 1385.4h0M278.6 1385.9h0M279.1 1275.3h0M287.7 1393.6h0M287.7 1272.4h0M298.7 1267.2h0M277 1386.1h0M297.8 1270.7h0M286.9 1397.6h0M308.7 1389.5h0M297.6 1272.9h0M296.1 1384.5h0M305 1267.8h0M287 1390.2h0M288.6 1276h0M280.7 1384.8h0M291.9 1384.3h0M311.9 1246.5h0M293.3 1392.3h0M280.3 1263.5h0M306.6 1394.3h0M281.8 1269.6h0M278.5 1385h0M298.2 1274.4h0M312.7 1395.9h0M299.7 1402.5h0M279.4 1273.8h0M299.4 1253.2h0M285.7 1253.6h0M304 1271.8h0M304.5 1264.5h0M285.5 1384.7h0M311.3 1384.2h0M283 1399.4h0M287.9 1391.8h0M286.3 1388.8h0M282.3 1395.4h0M286.1 1265.7h0M290.9 1269.3h0M312.6 1273.4h0M295.1 1428.2h0M277.3 1385.3h0M284.8 1269.8h0M314.3 1388.1h0M310.7 1384.7h0M310.8 1241.4h0M282 1390.5h0M296.3 1270h0M305.5 1419.3h0M297 1385.3h0M304.6 1403.3h0M289.6 1260.9h0M286.6 1259.1h0M301.3 1275.9h0M305.6 1273.6h0M291.5 1259.5h0M306.9 1394.1h0M283 1227.2h0M277 1274.5h0M283.4 1267.3h0M279.5 1389.1h0M283.5 1269.3h0M290.1 1275h0M290.3 1275.2h0M295.8 1392h0M281.8 1384.8h0M282.3 1269.2h0M283.7 1274.8h0M310.6 1265.9h0M307.2 1268.1h0M289.5 1394.4h0M279.9 1385.4h0M295 1270h0M301.6 1387.5h0M279.1 1253.9h0M297.7 1397.1h0M300.9 1411.8h0M304.7 1385.4h0M286.9 1391.8h0M309.3 1387.6h0M283.4 1385.1h0M295.6 1271.4h0M301.5 1392.6h0M279.3 1395h0M311 1393.4h0M310.3 1393.1h0M278.5 1264.6h0M308.8 1273.9h0M293.6 1396.7h0M281.9 1273.9h0M305 1256.2h0M292.4 1271.2h0M329.2 1330.8h0M288.6 1329.1h0M312.7 1218.9h0M285.9 1389.6h0M315.8 1341h0M287.9 1298.1h0M298.3 1259.7h0M280.3 1280.9h0M309.4 1291.8h0M322.4 1327.9h0M299.5 1260.4h0M305.3 1302.6h0M312.1 1340.3h0M295.8 1351.6h0M284 1364.4h0M323.7 1346.2h0M291.4 1345.2h0M279.1 1318.7h0M287.9 1324.3h0M288.5 1348h0M296 1324.3h0M284.7 1221h0M284.5 1266.6h0M291.1 1393.8h0M281 1350.2h0M274.5 1341.8h0M323.7 1342.9h0M287.6 1289.1h0M300.5 1370.4h0M290 1344.6h0M346 1344h0M317.8 1332h0M296.7 1343.2h0M299.6 1322.6h0M279.7 1347.6h0M303.1 1379.4h0M310 1423.1h0M316.5 1341.4h0M293.3 1273h0M288.1 1296h0M284.9 1410.5h0M308.3 1317.9h0M308.6 1270.7h0M303.8 1364h0M292 1336.7h0M291.5 1266.1h0M303.7 1295h0M285.9 1362.6h0M278.1 1371.3h0M310.2 1331.2h0M276.1 1341.4h0M296.5 1320h0M284.2 1287.4h0M307.6 1364.6h0M311 1287.1h0M299.2 1323h0M299.4 1310.3h0M302.8 1336.4h0M303.7 1348.6h0M282.9 1383.5h0M286.3 1316.9h0M302.9 1343h0M302 1288.9h0M291.4 1290.9h0M269.5 1337.2h0M302 1357h0M323.1 1337.5h0M259.4 1332.4h0M309.2 1318.6h0M295.9 1318.9h0M336.8 1344.2h0M306.1 1378.7h0M271.9 1340.6h0M260.9 1331.9h0M311.3 1374h0M306.4 1293.4h0M286.5 1307.9h0M299.6 1373.3h0M303.3 1398.3h0M279.6 1352.5h0M232.9 1337.5h0M304.7 1388.8h0M281.6 1354.7h0M320.4 1333.3h0M295.4 1316.5h0M287.9 1320.5h0M284 1336h0M298.1 1363.5h0M293 1315.4h0M269 1343.9h0M297.9 1315.9h0M262.1 1340.7h0M303.9 1319.3h0M288.6 1392.7h0M277.4 1389.3h0M273.6 1339h0M270.5 1328.7h0M292 1308h0M284.3 1299h0M307.6 1354.5h0M304 1375.3h0M292.1 1252.4h0M243.9 1345.6h0M325.3 1344h0M316.3 1345.5h0M305.5 1315.6h0M284.2 1297.6h0M324.7 1328.8h0M284.3 1337.5h0M224.2 1326.8h0M306.8 1335h0M286.7 1318.4h0M297.6 1386.3h0M278.4 1332.6h0M277.8 1420h0M280.5 1299.6h0M283.5 1331.3h0M276.9 1333.1h0M305.9 1335.5h0M313.2 1336.7h0M336.2 1343h0M287.3 1328.5h0M280.8 1365.3h0M336.1 1337.7h0M300.7 1312.4h0M277.2 1425.5h0M302.3 1308.7h0M309.3 1315.5h0M300.5 1295.9h0M299 1278.2h0M297 1305.5h0M277.8 1324.9h0M308.9 1331.3h0M344.7 1335h0M283.7 1298.9h0M313.5 1329.1h0M309.3 1315.5h0M287.8 1320.6h0M278.9 1354.5h0M244.7 1340.8h0M241.1 1335.6h0M302.1 1379.4h0M297.6 1325.4h0M284.2 1372.5h0M291.8 1320.7h0M309.2 1361.7h0M305.6 1254.6h0M299 1283.2h0M289 1364.1h0M301.9 1334.3h0M302.3 1231.6h0M292.2 1312.1h0M280.3 1207.1h0M234.2 1328.4h0M279.7 1314.8h0M218.6 1344.3h0M308.3 1292.1h0M311.6 1406.4h0M282.6 1376.8h0M235.7 1346h0M297.5 1292.2h0M293 1265h0M294.4 1341.2h0M309.5 1322.9h0M287.8 1323.3h0M281.6 1313h0M307.7 1372.8h0M285.8 1385.7h0M298.8 1304.8h0M311.9 1348.2h0M294.4 1318.6h0M307.5 1300.3h0M280.7 1423.7h0M279.7 1348.9h0M282.2 1321.3h0M287.3 1285.6h0M275 1337.1h0M283.8 1253.2h0M283.1 1306.6h0M295.7 1343.7h0M288.5 1346.2h0M309 1298.5h0M283.5 1278.2h0M319.4 1344.9h0M284.8 1361h0M321.3 1347.9h0M350.5 1344.4h0M299.6 1334.5h0M298.9 1258.1h0M263.6 1333.9h0M289.8 1326.3h0M304.9 1356.7h0M315.8 1326h0M300.9 1360.8h0M298.4 1351.4h0M313.9 1282.9h0M312.1 1299.3h0M303.8 1322.7h0M254.2 1331.9h0M297 1339.7h0M287.5 1324.6h0M276.5 1344.6h0M277.9 1353.3h0M283 1314.6h0M306.2 1313.9h0M273 1336.9h0M195.2 1342h0M329.7 1330h0M301.2 1313.8h0M253.9 1327.2h0M324.3 1344.2h0M308.2 1322.5h0M320.6 1335.8h0M285.3 1407.1h0M281.4 1376.3h0M277.2 1323.1h0M300.6 1197.8h0M257.8 1347h0M285.9 1296.9h0M272.8 1329h0M312.4 1343.1h0M290.2 1336.1h0M259.8 1326h0M314.1 1334.7h0M257.9 1336.8h0M291.7 1324.3h0M281.6 1303.9h0M302.9 1288.6h0M293.9 1343.3h0M248.3 1336h0M305 1264.8h0M296.7 1382.8h0M304.6 1342.5h0M304.2 1335.8h0M317.6 1344.4h0M280.3 1327.8h0M311.4 1361.9h0M271.1 1329.9h0M315.1 1333.9h0M309.6 1361.3h0M287.5 1358.2h0M277.2 1362.4h0M344.1 1338.8h0M291.7 1342.7h0M279.4 1331.9h0M310.4 1336.8h0M293.7 1313.9h0M291.3 1327.4h0M306.9 1292.3h0M309.4 1315.7h0M245.5 1345.6h0M286.5 1311.9h0M297.2 1300.5h0M294.6 1363.9h0M287.7 1293.6h0M309.6 1269h0M314.7 1346.7h0M285.3 1358.2h0M353.9 1343h0M292.1 1322.9h0M515.2 1341.2h0M75.4 1328h0M126.7 1332.4h0M170.7 1328h0M310 1224h0M295.3 1239.5h0M280.6 1434.1h0M288 1460.7h0M291.6 1449.6h0M390.6 1347.9h0M324.6 1212.9h0M302.6 1230.6h0M288 1243.9h0M306.3 1429.7h0M284.3 1451.8h0M375.9 1332.4h0M397.9 1330.2h0M214.7 1330.2h0M236.7 1345.6h0M361.3 1341.2h0M449.2 1334.6h0M434.6 1343.4h0" stroke="#d3d3d3" stroke-width="3.5" stroke-linecap="round" fill="none"/>
<path d="M273.6 1306.4h0M275 1290.4h0M265.4 1322.6h0M274.5 1288.3h0M266.5 1300.8h0M269.2 1294.9h0M270.9 1303.6h0M274.7 1304.7h0M269.6 1305.7h0M274.4 1318.1h0M237.5 1315.5h0M273.3 1309.3h0M243 1322.3h0M266.2 1295.4h0M240.3 1309.4h0M268.4 1322h0M267.3 1319.9h0M273.3 1312.9h0M271 1302.8h0M249.8 1323.3h0M266.9 1324.4h0M269.9 1323.9h0M238.3 1318h0M249.4 1324.5h0M243.6 1319.6h0M270.4 1299.7h0M264.1 1301.7h0M269.9 1319.9h0M268.7 1296.3h0M238.6 1307.3h0M270.2 1322.7h0M238 1324.8h0M270 1324.5h0M272.2 1293h0M267.7 1323.7h0M249.5 1324.8h0M271.7 1317.9h0M272.5 1311.4h0M241.4 1288.3h0M259.9 1305.5h0M261.5 1310.8h0M262.4 1292.2h0M250.2 1291.7h0M272.6 1322.3h0M248.8 1300.3h0M261 1319.5h0M241.7 1311.2h0M250.6 1312.1h0M239.2 1296.1h0M237.4 1323.7h0M258.4 1319.7h0M257.1 1291h0M242.1 1281.7h0M258.3 1313.7h0M271.8 1321.2h0M245.1 1284.6h0M260.4 1324.6h0M257.1 1281.2h0M253.8 1324.7h0M270 1302.8h0M269.9 1314.7h0M270.5 1317.2h0M251.5 1283h0M264.1 1312.3h0M250 1302.9h0M264.8 1324h0M273.2 1290.9h0M245.3 1322.9h0M251.3 1285.6h0M271.1 1301.4h0M270.8 1314.6h0M273.2 1302.4h0M242.9 1314.1h0M244.5 1324.2h0M267.5 1324.7h0M244.6 1323.5h0M253.7 1311.4h0M240.7 1322.2h0M257.5 1295.3h0M236.8 1301.1h0M269.6 1290.2h0M237.2 1289.9h0M250.8 1323.4h0M251.2 1324.3h0M272.1 1322.4h0M248.7 1302.7h0M240 1323.6h0M262.6 1321.4h0M245.4 1299.7h0M257.1 1319.9h0M259.1 1323.6h0M246.5 1297.4h0M269.2 1299.3h0M255.5 1286.1h0M269.4 1314.1h0M264.7 1297.1h0M259.9 1291.1h0M244.5 1306h0M273 1316.1h0M249.2 1320.5h0M253.9 1324.8h0M266.4 1321.6h0M254.9 1322.5h0M272.6 1324.7h0M240.5 1285h0M249.9 1309.7h0M259 1285.2h0M262.8 1322.7h0M263.2 1295.3h0M255.4 1324.5h0M271.6 1311.3h0M253.1 1314.4h0M240.4 1290.8h0M272.9 1303.8h0M264.1 1317.9h0M271.4 1305.3h0M203.7 1270.4h0M222 1323.5h0M240.3 1237.2h0M247.7 1257.1h0M233 1294.8h0M214.7 1292.5h0M203.7 1312.5h0M244 1250.5h0M200 1323.5h0M229.3 1314.7h0M170.7 1312.5h0M225.7 1279.3h0" stroke="#ee9a9a" stroke-width="3.5" stroke-linecap="round" fill="none"/>
<path d="M328.6 1295.9h0M318.9 1317.3h0M338.9 1301.6h0M325.7 1295.1h0M321.9 1322h0M347.6 1285.5h0M346.4 1303.7h0M323.4 1290.2h0M317.4 1319.7h0M344.5 1323.1h0M354.7 1320.8h0M335.2 1289.7h0M317 1295h0M315.7 1285.9h0M330 1306.7h0M334.5 1323.6h0M332.5 1322.8h0M319.7 1310.7h0M343 1320.9h0M353.8 1301.9h0M315.3 1324.6h0M350.6 1324.7h0M315.9 1311.8h0M337.3 1321.5h0M317.9 1319.8h0M322.3 1309.9h0M339 1299.2h0M333.5 1305.8h0M344.2 1318.3h0M318.6 1324.7h0M318.2 1304.9h0M343.7 1303.6h0M339.2 1293.1h0M321 1311.6h0M349.7 1303.6h0M315.2 1304.3h0M330 1305.4h0M320.4 1303.9h0M331.4 1287.4h0M342.5 1323.8h0M316 1319.7h0M326.7 1321h0M326.1 1294.2h0M349.9 1302.4h0M328.4 1291.6h0M318.2 1318.8h0M316.1 1320.3h0M339.6 1309.3h0M327.8 1284.2h0M325 1302.1h0M330 1311.4h0M347.8 1318.8h0M323.5 1314h0M325.9 1287.4h0M348.6 1321.9h0M315.6 1290.4h0M330.9 1309.3h0M351.2 1293.3h0M341.8 1291.6h0M317.3 1300.9h0M330.4 1310.9h0M319.8 1318.8h0M355.1 1322.4h0M331.6 1324.3h0M326.3 1302.3h0M355.2 1291.4h0M334 1302.9h0M335.7 1312.8h0M338.9 1289.6h0M338.5 1285.1h0M337.1 1257.1h0M372.3 1308h0M397.9 1314.7h0M412.6 1321.3h0M445.6 1323.5h0M449.2 1321.3h0M474.9 1319.1h0M346.6 1277.1h0M364.9 1316.9h0M383.3 1316.9h0M353.9 1288.1h0" stroke="#cc9cf2" stroke-width="3.5" stroke-linecap="round" fill="none"/>
<path d="M255.9 1376.4h0M275.5 1363.5h0M270.5 1359.3h0M261.1 1364.8h0M242.9 1361.5h0M249.9 1359.6h0M267.1 1349.5h0M274.8 1356.1h0M245 1351.9h0M270.7 1349.9h0M251.5 1354.3h0M271.4 1362.7h0M271 1381.7h0M267.1 1349.4h0M270.6 1379.3h0M246.2 1374.2h0M243.8 1358.8h0M275.4 1370.8h0M236 1374.6h0M249.8 1366.4h0M275.4 1353.8h0M250 1380.3h0M268.7 1366.2h0M262.5 1370.8h0M266.5 1352.3h0M255.7 1350.8h0M275.4 1372.3h0M250.6 1358.8h0M251.7 1361h0M258.1 1359.3h0M254.9 1383.8h0M236 1354.1h0M268.7 1363.2h0M246.7 1349.3h0M242.4 1351.4h0M266.9 1375.1h0M239.6 1377.4h0M260.3 1349.6h0M266.4 1349.5h0M242.6 1354.3h0M242.8 1348.9h0M200 1354.5h0M214.7 1354.5h0M222 1356.7h0M218.3 1363.3h0M233 1401h0M238.1 1418.7h0M244 1425.3h0M262.3 1405.4h0M244 1374.4h0" stroke="#8a9ef2" stroke-width="3.5" stroke-linecap="round" fill="none"/>
<path d="M335 1349.2h0M347.7 1350.8h0M336.6 1370.8h0M315.6 1374h0M319.9 1349.2h0M324.6 1358.7h0M336.1 1351.2h0M343.8 1367.8h0M324.3 1357.1h0M333.5 1351.1h0M316.1 1355.4h0M315.4 1358.1h0M344.4 1359.9h0M345.4 1381.9h0M329.3 1367h0M320.6 1379.6h0M347.9 1385.9h0M341.2 1357h0M327.3 1379.1h0M323.4 1383.6h0M357.9 1371.6h0M326.1 1388.1h0M341.4 1361h0M319.7 1359.6h0M345 1352.4h0M339.9 1363.8h0M315.4 1362.5h0M345.6 1359h0M328.3 1348.8h0M321.5 1382.1h0M323.7 1367.4h0M340.1 1357.4h0M315.2 1378.3h0M324 1353.9h0M318.8 1358h0M320.2 1366.1h0M324.1 1362.5h0M322.7 1360h0M339.4 1362.7h0M347.2 1385h0M350.7 1359.8h0M315.5 1355.1h0M320.6 1379.8h0M325 1378.6h0M336.8 1353.5h0M333.7 1368.8h0M334.1 1364.5h0M331.8 1368.2h0M318.9 1354.4h0M337.3 1349h0M336.9 1365.4h0M353.6 1350h0M358.1 1376h0M327.6 1370.6h0M347.8 1374.6h0M325.8 1378.3h0M356.9 1357.9h0M416.2 1396.5h0M434.6 1356.7h0M390.6 1367.8h0M339.3 1429.7h0M328.3 1418.7h0M419.9 1352.3h0M361.3 1367.8h0" stroke="#92e292" stroke-width="3.5" stroke-linecap="round" fill="none"/>
<path d="M271.7 1323.1h0M267.4 1304.3h0M274.5 1305.1h0M266.7 1320.1h0M272.4 1312.5h0M273.1 1305.7h0M272.1 1313.7h0M271.7 1313.8h0M272.2 1302.6h0M269 1301.9h0M275.4 1306.5h0M271.2 1318.1h0M269.3 1311.7h0M274.4 1302h0M275.5 1296.5h0M265.4 1287.8h0M272.2 1316.7h0M272.7 1314.6h0M270.7 1298.4h0M274.9 1318.9h0M270.4 1316.9h0M268.6 1313.7h0M270.7 1289.3h0M269.9 1305.6h0M270.7 1299.4h0M275.1 1305.1h0M265.7 1318.3h0M273.5 1319.4h0M273.6 1285.3h0M275.2 1315.1h0M272 1306.4h0M269.8 1309.8h0M269.8 1317h0M275.5 1317.8h0M266 1306h0M275.5 1298.9h0M273.1 1290.2h0M271.9 1316.2h0M275.3 1305.8h0M274.7 1306.2h0M273.8 1300.3h0M271.6 1321.3h0M265.8 1316.1h0M275.3 1286.4h0M275.4 1321.1h0M273.4 1288h0M273.6 1293.9h0M271.4 1312h0M270.3 1302.4h0M272.1 1289.9h0M270.3 1309.2h0M275.5 1318.4h0M275.2 1323.6h0M265.3 1299h0M274.5 1292.1h0M267.4 1317.7h0M271.6 1318.3h0M270.1 1313.5h0M271.1 1286.9h0M272.5 1324.3h0M272.1 1324.7h0M275.1 1316.7h0M266.5 1321.9h0M272 1323.7h0M271.5 1310.6h0M275.3 1302.7h0M266.9 1302.6h0M268.8 1309.4h0M273.2 1305.2h0M270.9 1303.2h0M273.4 1300.9h0M272.5 1312.4h0M270.4 1290.8h0M270.1 1306.2h0M270 1311.6h0M273.3 1306.6h0M266.4 1300.8h0M273.4 1294.6h0M267 1307.9h0M275.1 1323.4h0M271.6 1315.7h0M274.4 1317.2h0M265.6 1297.3h0M275.1 1286.2h0M275.2 1291.2h0M264.5 1300.2h0M248.1 1320.4h0M271.2 1286.4h0M251.3 1308.5h0M181.7 1168.6h0M181.7 1217.3h0M82.7 1321.3h0M141.4 1300.1h0M255 1271.3h0M255 1230.6h0M240.3 1292.5h0" stroke="#ee1a1a" stroke-width="3.5" stroke-linecap="round" fill="none"/>
<path d="M330.8 1305.6h0M336.3 1318h0M338.5 1322.4h0M339.4 1284.6h0M342.8 1321.5h0M319.8 1292.6h0M355.4 1305.6h0M326.7 1292.4h0M335.7 1312.9h0M355 1309.8h0M341.7 1321.3h0M323.5 1315.9h0M328.1 1303.7h0M326.8 1315.8h0M323.7 1298.8h0M390.6 1302.3h0M434.6 1314.7h0M434.6 1319.1h0M366.4 1311.1h0" stroke="#9a16ee" stroke-width="3.5" stroke-linecap="round" fill="none"/>
<path d="M236.7 1353.1h0M265.1 1361.3h0M268.1 1368.8h0M259.4 1377.3h0M254.7 1349.8h0M247.4 1368.4h0M238.4 1355.7h0M251 1357.1h0M252.3 1365.8h0M271.7 1360.6h0M247.7 1372.6h0M266.1 1354.1h0M253 1355.1h0M272.4 1350.9h0M277 1505h0" stroke="#0a12e6" stroke-width="3.5" stroke-linecap="round" fill="none"/>
<path d="M331.8 1371.5h0M317.5 1382.1h0M329 1356.8h0" stroke="#24b024" stroke-width="3.5" stroke-linecap="round" fill="none"/>
<line x1="276.4" y1="1152" x2="276.4" y2="1519" stroke="#333" stroke-width="1" stroke-dasharray="3 2.6"/>
<line x1="314.8" y1="1152" x2="314.8" y2="1519" stroke="#333" stroke-width="1" stroke-dasharray="3 2.6"/>
<line x1="48.5" y1="1325.4" x2="534" y2="1325.4" stroke="#333" stroke-width="1" stroke-dasharray="3 2.6"/>
<line x1="48.5" y1="1348.9" x2="534" y2="1348.9" stroke="#333" stroke-width="1" stroke-dasharray="3 2.6"/>
<rect x="48.5" y="1151.5" width="485" height="368" fill="none" stroke="#707070" stroke-width="1.1"/>
<text x="153.2" y="1191.1" font-size="15.7" text-anchor="middle">Hyper-down</text>
<text x="440.7" y="1191.1" font-size="15.7" text-anchor="middle">Hyper-up</text>
<text x="153.2" y="1462" font-size="15.7" text-anchor="middle">Hypo-down</text>
<text x="440.7" y="1462" font-size="15.7" text-anchor="middle">Hypo-up</text>
<line x1="148.7" y1="1519.5" x2="148.7" y2="1523" stroke="#555" stroke-width="1"/>
<text x="148.7" y="1537.9" font-size="15.7" text-anchor="middle">-2</text>
<line x1="295.3" y1="1519.5" x2="295.3" y2="1523" stroke="#555" stroke-width="1"/>
<text x="295.3" y="1537.9" font-size="15.7" text-anchor="middle">0</text>
<line x1="441.9" y1="1519.5" x2="441.9" y2="1523" stroke="#555" stroke-width="1"/>
<text x="441.9" y="1537.9" font-size="15.7" text-anchor="middle">2</text>
<line x1="44.5" y1="1513.8" x2="48.4" y2="1513.8" stroke="#555" stroke-width="1"/>
<text x="42.5" y="1519.2" font-size="15.7" text-anchor="end">-4</text>
<line x1="44.5" y1="1425.3" x2="48.4" y2="1425.3" stroke="#555" stroke-width="1"/>
<text x="42.5" y="1430.7" font-size="15.7" text-anchor="end">-2</text>
<line x1="44.5" y1="1336.8" x2="48.4" y2="1336.8" stroke="#555" stroke-width="1"/>
<text x="42.5" y="1342.2" font-size="15.7" text-anchor="end">0</text>
<line x1="44.5" y1="1248.3" x2="48.4" y2="1248.3" stroke="#555" stroke-width="1"/>
<text x="42.5" y="1253.7" font-size="15.7" text-anchor="end">2</text>
<line x1="44.5" y1="1159.8" x2="48.4" y2="1159.8" stroke="#555" stroke-width="1"/>
<text x="42.5" y="1165.2" font-size="15.7" text-anchor="end">4</text>
<text x="291.8" y="1560.3" font-size="15.6" text-anchor="middle">Log<tspan font-size="9.5" dy="3.5">2</tspan><tspan dy="-3.5"> Fold Change(Gene Expression)</tspan></text>
<text transform="translate(15.4 1336.8) rotate(-90)" font-size="15.79" text-anchor="middle">Log<tspan font-size="9.5" dy="3.5">2</tspan><tspan dy="-3.5"> Fold Change(m6A peak)</tspan></text>
<text x="554.5" y="1142" font-size="20.2">I</text>
<text x="1003.8" y="1131.9" font-size="15.85" text-anchor="middle">GO Enrichemtn Top10</text>
<rect x="801" y="1144" width="229.5" height="6.4" fill="#8e2d25"/>
<text x="775.3" y="1150" font-size="10.4" text-anchor="end">prostaglandin transport</text>
<line x1="777.3" y1="1147.2" x2="780.4" y2="1147.2" stroke="#333" stroke-width="1"/>
<rect x="801" y="1157.7" width="188.9" height="6.4" fill="#8e2d25"/>
<text x="775.3" y="1163.7" font-size="10.4" text-anchor="end">positive regulation of protein complex disassembly</text>
<line x1="777.3" y1="1160.9" x2="780.4" y2="1160.9" stroke="#333" stroke-width="1"/>
<rect x="801" y="1171.4" width="212" height="6.4" fill="#8e2d25"/>
<text x="775.3" y="1177.4" font-size="10.4" text-anchor="end">negative regulation of interferon-alpha production</text>
<line x1="777.3" y1="1174.6" x2="780.4" y2="1174.6" stroke="#333" stroke-width="1"/>
<rect x="801" y="1185.1" width="199.3" height="6.4" fill="#8e2d25"/>
<text x="775.3" y="1191.1" font-size="10.4" text-anchor="end">mast cell chemotaxis</text>
<line x1="777.3" y1="1188.3" x2="780.4" y2="1188.3" stroke="#333" stroke-width="1"/>
<rect x="801" y="1198.8" width="211.2" height="6.4" fill="#8e2d25"/>
<text x="775.3" y="1204.8" font-size="10.4" text-anchor="end">inflammatory response</text>
<line x1="777.3" y1="1202" x2="780.4" y2="1202" stroke="#333" stroke-width="1"/>
<rect x="801" y="1212.5" width="349.6" height="6.4" fill="#8e2d25"/>
<text x="775.3" y="1218.5" font-size="10.4" text-anchor="end">immune response</text>
<line x1="777.3" y1="1215.7" x2="780.4" y2="1215.7" stroke="#333" stroke-width="1"/>
<rect x="801" y="1226.2" width="215.2" height="6.4" fill="#8e2d25"/>
<text x="775.3" y="1232.2" font-size="10.4" text-anchor="end">eosinophil chemotaxis</text>
<line x1="777.3" y1="1229.4" x2="780.4" y2="1229.4" stroke="#333" stroke-width="1"/>
<rect x="801" y="1239.9" width="225.1" height="6.4" fill="#8e2d25"/>
<text x="775.3" y="1245.9" font-size="10.4" text-anchor="end">chemokin-mediated signaling pathway</text>
<line x1="777.3" y1="1243.1" x2="780.4" y2="1243.1" stroke="#333" stroke-width="1"/>
<rect x="801" y="1253.6" width="421.2" height="6.4" fill="#8e2d25"/>
<text x="775.3" y="1259.6" font-size="10.4" text-anchor="end">cellular response to interferon-gamma</text>
<line x1="777.3" y1="1256.8" x2="780.4" y2="1256.8" stroke="#333" stroke-width="1"/>
<rect x="801" y="1267.3" width="188.9" height="6.4" fill="#8e2d25"/>
<text x="775.3" y="1273.3" font-size="10.4" text-anchor="end">astrocyte cell migration</text>
<line x1="777.3" y1="1270.5" x2="780.4" y2="1270.5" stroke="#333" stroke-width="1"/>
<rect x="780.6" y="1139" width="462.6" height="138.9" fill="none" stroke="#333" stroke-width="1.2"/>
<rect x="1243.2" y="1139" width="16" height="138.9" fill="#fff" stroke="#333" stroke-width="1.2"/>
<text transform="translate(1247 1210.4) rotate(90)" font-size="13.46" text-anchor="middle">biological process</text>
<rect x="801" y="1288.1" width="152.7" height="6.4" fill="#8e2d25"/>
<text x="775.3" y="1294.1" font-size="10.4" text-anchor="end">secretory granule</text>
<line x1="777.3" y1="1291.3" x2="780.4" y2="1291.3" stroke="#333" stroke-width="1"/>
<rect x="801" y="1301.8" width="171" height="6.4" fill="#8e2d25"/>
<text x="775.3" y="1307.8" font-size="10.4" text-anchor="end">membrane</text>
<line x1="777.3" y1="1305" x2="780.4" y2="1305" stroke="#333" stroke-width="1"/>
<rect x="801" y="1315.5" width="104.2" height="6.4" fill="#8e2d25"/>
<text x="775.3" y="1321.5" font-size="10.4" text-anchor="end">intrinsic component of plasma membrane</text>
<line x1="777.3" y1="1318.7" x2="780.4" y2="1318.7" stroke="#333" stroke-width="1"/>
<rect x="801" y="1329.2" width="104.2" height="6.4" fill="#8e2d25"/>
<text x="775.3" y="1335.2" font-size="10.4" text-anchor="end">gap junction</text>
<line x1="777.3" y1="1332.4" x2="780.4" y2="1332.4" stroke="#333" stroke-width="1"/>
<rect x="801" y="1342.9" width="178.6" height="6.4" fill="#8e2d25"/>
<text x="775.3" y="1348.9" font-size="10.4" text-anchor="end">extracullular space</text>
<line x1="777.3" y1="1346.1" x2="780.4" y2="1346.1" stroke="#333" stroke-width="1"/>
<rect x="801" y="1356.6" width="252.2" height="6.4" fill="#8e2d25"/>
<text x="775.3" y="1362.6" font-size="10.4" text-anchor="end">extracellular region</text>
<line x1="777.3" y1="1359.8" x2="780.4" y2="1359.8" stroke="#333" stroke-width="1"/>
<rect x="801" y="1370.3" width="127.3" height="6.4" fill="#8e2d25"/>
<text x="775.3" y="1376.3" font-size="10.4" text-anchor="end">connexin complex</text>
<line x1="777.3" y1="1373.5" x2="780.4" y2="1373.5" stroke="#333" stroke-width="1"/>
<rect x="801" y="1384" width="111" height="6.4" fill="#8e2d25"/>
<text x="775.3" y="1390" font-size="10.4" text-anchor="end">chromaffin granule</text>
<line x1="777.3" y1="1387.2" x2="780.4" y2="1387.2" stroke="#333" stroke-width="1"/>
<rect x="801" y="1397.7" width="134" height="6.4" fill="#8e2d25"/>
<text x="775.3" y="1403.7" font-size="10.4" text-anchor="end">cell surface</text>
<line x1="777.3" y1="1400.9" x2="780.4" y2="1400.9" stroke="#333" stroke-width="1"/>
<rect x="801" y="1411.4" width="114.1" height="6.4" fill="#8e2d25"/>
<text x="775.3" y="1417.4" font-size="10.4" text-anchor="end">Golgi stack </text>
<line x1="777.3" y1="1414.6" x2="780.4" y2="1414.6" stroke="#333" stroke-width="1"/>
<rect x="780.6" y="1283.1" width="462.6" height="138.9" fill="none" stroke="#333" stroke-width="1.2"/>
<rect x="1243.2" y="1283.1" width="16" height="138.9" fill="#fff" stroke="#333" stroke-width="1.2"/>
<text transform="translate(1247 1353.5) rotate(90)" font-size="13.46" text-anchor="middle">cellulr component</text>
<rect x="801" y="1432.3" width="132" height="6.4" fill="#8e2d25"/>
<text x="775.3" y="1438.3" font-size="10.4" text-anchor="end">sodium ion binding</text>
<line x1="777.3" y1="1435.5" x2="780.4" y2="1435.5" stroke="#333" stroke-width="1"/>
<rect x="801" y="1446" width="167.4" height="6.4" fill="#8e2d25"/>
<text x="775.3" y="1452" font-size="10.4" text-anchor="end">protein-hormone receptor activity</text>
<line x1="777.3" y1="1449.2" x2="780.4" y2="1449.2" stroke="#333" stroke-width="1"/>
<rect x="801" y="1459.7" width="110.6" height="6.4" fill="#8e2d25"/>
<text x="775.3" y="1465.7" font-size="10.4" text-anchor="end">high-affinity lysine transmembrane transporter</text>
<line x1="777.3" y1="1462.9" x2="780.4" y2="1462.9" stroke="#333" stroke-width="1"/>
<rect x="801" y="1473.4" width="110.6" height="6.4" fill="#8e2d25"/>
<text x="775.3" y="1479.4" font-size="10.4" text-anchor="end">high-affinity arginine transmembrane</text>
<line x1="777.3" y1="1476.6" x2="780.4" y2="1476.6" stroke="#333" stroke-width="1"/>
<rect x="801" y="1487.1" width="110.6" height="6.4" fill="#8e2d25"/>
<text x="775.3" y="1493.1" font-size="10.4" text-anchor="end">granulocyte colony-stimulating factor receptor</text>
<line x1="777.3" y1="1490.3" x2="780.4" y2="1490.3" stroke="#333" stroke-width="1"/>
<rect x="801" y="1500.8" width="204" height="6.4" fill="#8e2d25"/>
<text x="775.3" y="1506.8" font-size="10.4" text-anchor="end">cytokine activity</text>
<line x1="777.3" y1="1504" x2="780.4" y2="1504" stroke="#333" stroke-width="1"/>
<rect x="801" y="1514.5" width="232.3" height="6.4" fill="#8e2d25"/>
<text x="775.3" y="1520.5" font-size="10.4" text-anchor="end">chemokine activity</text>
<line x1="777.3" y1="1517.7" x2="780.4" y2="1517.7" stroke="#333" stroke-width="1"/>
<rect x="801" y="1528.2" width="173.4" height="6.4" fill="#8e2d25"/>
<text x="775.3" y="1534.2" font-size="10.4" text-anchor="end">calcium ion binding</text>
<line x1="777.3" y1="1531.4" x2="780.4" y2="1531.4" stroke="#333" stroke-width="1"/>
<rect x="801" y="1541.9" width="110.6" height="6.4" fill="#8e2d25"/>
<text x="775.3" y="1547.9" font-size="10.4" text-anchor="end">RNA polymerase II transcription factor ...</text>
<line x1="777.3" y1="1545.1" x2="780.4" y2="1545.1" stroke="#333" stroke-width="1"/>
<rect x="801" y="1555.6" width="196.9" height="6.4" fill="#8e2d25"/>
<text x="775.3" y="1561.6" font-size="10.4" text-anchor="end">CCR chemokine receptor binding</text>
<line x1="777.3" y1="1558.8" x2="780.4" y2="1558.8" stroke="#333" stroke-width="1"/>
<rect x="780.6" y="1427.3" width="462.6" height="139.1" fill="none" stroke="#333" stroke-width="1.2"/>
<rect x="1243.2" y="1427.3" width="16" height="139.1" fill="#fff" stroke="#333" stroke-width="1.2"/>
<text transform="translate(1247 1502.1) rotate(90)" font-size="13.46" text-anchor="middle">molecular function</text>
<line x1="800.5" y1="1566.4" x2="800.5" y2="1570" stroke="#333" stroke-width="1"/>
<text x="799" y="1585.7" font-size="15.7" text-anchor="middle">0</text>
<line x1="916.1" y1="1566.4" x2="916.1" y2="1570" stroke="#333" stroke-width="1"/>
<text x="914.6" y="1585.7" font-size="15.7" text-anchor="middle">2</text>
<line x1="1031.7" y1="1566.4" x2="1031.7" y2="1570" stroke="#333" stroke-width="1"/>
<text x="1030.2" y="1585.7" font-size="15.7" text-anchor="middle">4</text>
<line x1="1147.3" y1="1566.4" x2="1147.3" y2="1570" stroke="#333" stroke-width="1"/>
<text x="1145.8" y="1585.7" font-size="15.7" text-anchor="middle">6</text>
<text x="1011.4" y="1600.5" font-size="15.6" text-anchor="middle">-Log<tspan font-size="9.5" dy="3.5">10</tspan><tspan dy="-3.5"> Pvalue</tspan></text>
<text x="129.5" y="1648.3" font-size="20.2">J</text>
<text x="700" y="1649" font-size="15.94" text-anchor="middle">KEGG Enrichment Top 30 (total)</text>
<line x1="381.4" y1="1660.6" x2="381.4" y2="1812.7" stroke="#ebebeb" stroke-width="1.0"/>
<line x1="468.9" y1="1660.6" x2="468.9" y2="1812.7" stroke="#ebebeb" stroke-width="1.9"/>
<line x1="556.4" y1="1660.6" x2="556.4" y2="1812.7" stroke="#ebebeb" stroke-width="1.0"/>
<line x1="643.9" y1="1660.6" x2="643.9" y2="1812.7" stroke="#ebebeb" stroke-width="1.9"/>
<line x1="731.4" y1="1660.6" x2="731.4" y2="1812.7" stroke="#ebebeb" stroke-width="1.0"/>
<line x1="818.9" y1="1660.6" x2="818.9" y2="1812.7" stroke="#ebebeb" stroke-width="1.9"/>
<line x1="906.4" y1="1660.6" x2="906.4" y2="1812.7" stroke="#ebebeb" stroke-width="1.0"/>
<line x1="993.9" y1="1660.6" x2="993.9" y2="1812.7" stroke="#ebebeb" stroke-width="1.9"/>
<line x1="1081.4" y1="1660.6" x2="1081.4" y2="1812.7" stroke="#ebebeb" stroke-width="1.0"/>
<line x1="296.7" y1="1702.1" x2="1112.4" y2="1702.1" stroke="#ebebeb" stroke-width="1.9"/>
<line x1="296.7" y1="1771.2" x2="1112.4" y2="1771.2" stroke="#ebebeb" stroke-width="1.9"/>
<text x="286.2" y="1707.5" font-size="15.8" text-anchor="end">Tight junction</text>
<line x1="292.3" y1="1702.1" x2="296.7" y2="1702.1" stroke="#333" stroke-width="1.2"/>
<text x="286.2" y="1776.6" font-size="15.8" text-anchor="end">Mitophagy - animal</text>
<line x1="292.3" y1="1771.2" x2="296.7" y2="1771.2" stroke="#333" stroke-width="1.2"/>
<circle cx="333.7" cy="1702.1" r="8.1" fill="#c08a84"/>
<circle cx="499" cy="1771.2" r="6.6" fill="#b96a5c"/>
<rect x="296.7" y="1660.6" width="815.7" height="152.1" fill="none" stroke="#333" stroke-width="1.5"/>
<rect x="1112.4" y="1660.6" width="27.4" height="152.1" fill="#d9d9d9" stroke="#333" stroke-width="1.5"/>
<text transform="translate(1117.8 1738.2) rotate(90)" font-size="15.79" text-anchor="middle">CP</text>
<line x1="381.4" y1="1822.8" x2="381.4" y2="1973.4" stroke="#ebebeb" stroke-width="1.0"/>
<line x1="468.9" y1="1822.8" x2="468.9" y2="1973.4" stroke="#ebebeb" stroke-width="1.9"/>
<line x1="556.4" y1="1822.8" x2="556.4" y2="1973.4" stroke="#ebebeb" stroke-width="1.0"/>
<line x1="643.9" y1="1822.8" x2="643.9" y2="1973.4" stroke="#ebebeb" stroke-width="1.9"/>
<line x1="731.4" y1="1822.8" x2="731.4" y2="1973.4" stroke="#ebebeb" stroke-width="1.0"/>
<line x1="818.9" y1="1822.8" x2="818.9" y2="1973.4" stroke="#ebebeb" stroke-width="1.9"/>
<line x1="906.4" y1="1822.8" x2="906.4" y2="1973.4" stroke="#ebebeb" stroke-width="1.0"/>
<line x1="993.9" y1="1822.8" x2="993.9" y2="1973.4" stroke="#ebebeb" stroke-width="1.9"/>
<line x1="1081.4" y1="1822.8" x2="1081.4" y2="1973.4" stroke="#ebebeb" stroke-width="1.0"/>
<line x1="296.7" y1="1851" x2="1112.4" y2="1851" stroke="#ebebeb" stroke-width="1.9"/>
<line x1="296.7" y1="1898.1" x2="1112.4" y2="1898.1" stroke="#ebebeb" stroke-width="1.9"/>
<line x1="296.7" y1="1945.2" x2="1112.4" y2="1945.2" stroke="#ebebeb" stroke-width="1.9"/>
<text x="286.2" y="1856.5" font-size="15.8" text-anchor="end">TNF signaling pathway</text>
<line x1="292.3" y1="1851" x2="296.7" y2="1851" stroke="#333" stroke-width="1.2"/>
<text x="286.2" y="1903.5" font-size="15.8" text-anchor="end">Cytokine-cytokine receptor interaction</text>
<line x1="292.3" y1="1898.1" x2="296.7" y2="1898.1" stroke="#333" stroke-width="1.2"/>
<text x="286.2" y="1950.6" font-size="15.8" text-anchor="end">Cell adhesion molecules (CAMs)</text>
<line x1="292.3" y1="1945.2" x2="296.7" y2="1945.2" stroke="#333" stroke-width="1.2"/>
<circle cx="428.5" cy="1898.1" r="11.7" fill="#8e1408"/>
<circle cx="451.3" cy="1851" r="8.1" fill="#af3d2d"/>
<circle cx="332.7" cy="1945.2" r="8.1" fill="#c08a84"/>
<rect x="296.7" y="1822.8" width="815.7" height="150.6" fill="none" stroke="#333" stroke-width="1.5"/>
<rect x="1112.4" y="1822.8" width="27.4" height="150.6" fill="#d9d9d9" stroke="#333" stroke-width="1.5"/>
<text transform="translate(1117.8 1901.1) rotate(90)" font-size="15.79" text-anchor="middle">EIP</text>
<line x1="381.4" y1="1983.3" x2="381.4" y2="2135.3" stroke="#ebebeb" stroke-width="1.0"/>
<line x1="468.9" y1="1983.3" x2="468.9" y2="2135.3" stroke="#ebebeb" stroke-width="1.9"/>
<line x1="556.4" y1="1983.3" x2="556.4" y2="2135.3" stroke="#ebebeb" stroke-width="1.0"/>
<line x1="643.9" y1="1983.3" x2="643.9" y2="2135.3" stroke="#ebebeb" stroke-width="1.9"/>
<line x1="731.4" y1="1983.3" x2="731.4" y2="2135.3" stroke="#ebebeb" stroke-width="1.0"/>
<line x1="818.9" y1="1983.3" x2="818.9" y2="2135.3" stroke="#ebebeb" stroke-width="1.9"/>
<line x1="906.4" y1="1983.3" x2="906.4" y2="2135.3" stroke="#ebebeb" stroke-width="1.0"/>
<line x1="993.9" y1="1983.3" x2="993.9" y2="2135.3" stroke="#ebebeb" stroke-width="1.9"/>
<line x1="1081.4" y1="1983.3" x2="1081.4" y2="2135.3" stroke="#ebebeb" stroke-width="1.0"/>
<line x1="296.7" y1="1988.9" x2="1112.4" y2="1988.9" stroke="#ebebeb" stroke-width="1.9"/>
<line x1="296.7" y1="1998.3" x2="1112.4" y2="1998.3" stroke="#ebebeb" stroke-width="1.9"/>
<line x1="296.7" y1="2007.7" x2="1112.4" y2="2007.7" stroke="#ebebeb" stroke-width="1.9"/>
<line x1="296.7" y1="2017.1" x2="1112.4" y2="2017.1" stroke="#ebebeb" stroke-width="1.9"/>
<line x1="296.7" y1="2026.5" x2="1112.4" y2="2026.5" stroke="#ebebeb" stroke-width="1.9"/>
<line x1="296.7" y1="2035.8" x2="1112.4" y2="2035.8" stroke="#ebebeb" stroke-width="1.9"/>
<line x1="296.7" y1="2045.2" x2="1112.4" y2="2045.2" stroke="#ebebeb" stroke-width="1.9"/>
<line x1="296.7" y1="2054.6" x2="1112.4" y2="2054.6" stroke="#ebebeb" stroke-width="1.9"/>
<line x1="296.7" y1="2064" x2="1112.4" y2="2064" stroke="#ebebeb" stroke-width="1.9"/>
<line x1="296.7" y1="2073.4" x2="1112.4" y2="2073.4" stroke="#ebebeb" stroke-width="1.9"/>
<line x1="296.7" y1="2082.8" x2="1112.4" y2="2082.8" stroke="#ebebeb" stroke-width="1.9"/>
<line x1="296.7" y1="2092.1" x2="1112.4" y2="2092.1" stroke="#ebebeb" stroke-width="1.9"/>
<line x1="296.7" y1="2101.5" x2="1112.4" y2="2101.5" stroke="#ebebeb" stroke-width="1.9"/>
<line x1="296.7" y1="2110.9" x2="1112.4" y2="2110.9" stroke="#ebebeb" stroke-width="1.9"/>
<line x1="296.7" y1="2120.3" x2="1112.4" y2="2120.3" stroke="#ebebeb" stroke-width="1.9"/>
<line x1="296.7" y1="2129.7" x2="1112.4" y2="2129.7" stroke="#ebebeb" stroke-width="1.9"/>
<text x="286.2" y="1993.4" font-size="13.1" text-anchor="end">Type I diabetes mellitus</text>
<line x1="292.3" y1="1988.9" x2="296.7" y2="1988.9" stroke="#333" stroke-width="1.2"/>
<text x="286.2" y="2002.8" font-size="13.1" text-anchor="end">Rheumatoid arthritis</text>
<line x1="292.3" y1="1998.3" x2="296.7" y2="1998.3" stroke="#333" stroke-width="1.2"/>
<text x="286.2" y="2012.2" font-size="13.1" text-anchor="end">Malaria</text>
<line x1="292.3" y1="2007.7" x2="296.7" y2="2007.7" stroke="#333" stroke-width="1.2"/>
<text x="286.2" y="2021.6" font-size="13.1" text-anchor="end">Legionellosis</text>
<line x1="292.3" y1="2017.1" x2="296.7" y2="2017.1" stroke="#333" stroke-width="1.2"/>
<text x="286.2" y="2031" font-size="13.1" text-anchor="end">Influenza A</text>
<line x1="292.3" y1="2026.5" x2="296.7" y2="2026.5" stroke="#333" stroke-width="1.2"/>
<text x="286.2" y="2040.3" font-size="13.1" text-anchor="end">Hypertrophic cardiomyopathy (HCM)</text>
<line x1="292.3" y1="2035.8" x2="296.7" y2="2035.8" stroke="#333" stroke-width="1.2"/>
<text x="286.2" y="2049.7" font-size="13.1" text-anchor="end">Herpes simples Infection</text>
<line x1="292.3" y1="2045.2" x2="296.7" y2="2045.2" stroke="#333" stroke-width="1.2"/>
<text x="286.2" y="2059.1" font-size="13.1" text-anchor="end">Hepatitis C</text>
<line x1="292.3" y1="2054.6" x2="296.7" y2="2054.6" stroke="#333" stroke-width="1.2"/>
<text x="286.2" y="2068.5" font-size="13.1" text-anchor="end">Graft-versus-host disease</text>
<line x1="292.3" y1="2064" x2="296.7" y2="2064" stroke="#333" stroke-width="1.2"/>
<text x="286.2" y="2077.9" font-size="13.1" text-anchor="end">Fluid shear stress and atherosclerosis</text>
<line x1="292.3" y1="2073.4" x2="296.7" y2="2073.4" stroke="#333" stroke-width="1.2"/>
<text x="286.2" y="2087.3" font-size="13.1" text-anchor="end">Dilated cardiomyopathy (DCM)</text>
<line x1="292.3" y1="2082.8" x2="296.7" y2="2082.8" stroke="#333" stroke-width="1.2"/>
<text x="286.2" y="2096.6" font-size="13.1" text-anchor="end">Chagas disease (American trypanosomiasis)</text>
<line x1="292.3" y1="2092.1" x2="296.7" y2="2092.1" stroke="#333" stroke-width="1.2"/>
<text x="286.2" y="2106" font-size="13.1" text-anchor="end">Asthma</text>
<line x1="292.3" y1="2101.5" x2="296.7" y2="2101.5" stroke="#333" stroke-width="1.2"/>
<text x="286.2" y="2115.4" font-size="13.1" text-anchor="end">Antifolate resistance</text>
<line x1="292.3" y1="2110.9" x2="296.7" y2="2110.9" stroke="#333" stroke-width="1.2"/>
<text x="286.2" y="2124.8" font-size="13.1" text-anchor="end">Amyotrophic lateral sclerosis (ALS)</text>
<line x1="292.3" y1="2120.3" x2="296.7" y2="2120.3" stroke="#333" stroke-width="1.2"/>
<text x="286.2" y="2134.2" font-size="13.1" text-anchor="end">Allograft rejection</text>
<line x1="292.3" y1="2129.7" x2="296.7" y2="2129.7" stroke="#333" stroke-width="1.2"/>
<circle cx="398.8" cy="2045.2" r="10" fill="#921a0c"/>
<circle cx="404.3" cy="2026.5" r="9.3" fill="#a02818"/>
<circle cx="695.3" cy="1998.3" r="9.2" fill="#951812"/>
<circle cx="370.4" cy="2073.4" r="8.4" fill="#b86454"/>
<circle cx="387" cy="2054.6" r="8.2" fill="#b85a48"/>
<circle cx="474.7" cy="2092.1" r="8.2" fill="#a03020"/>
<circle cx="771.1" cy="2007.7" r="8.1" fill="#9a1a12"/>
<circle cx="1075.2" cy="2101.5" r="7.1" fill="#a02014"/>
<circle cx="915.5" cy="2110.9" r="7.1" fill="#a82818"/>
<circle cx="531.5" cy="2017.1" r="6.9" fill="#b8604f"/>
<circle cx="397.7" cy="2035.8" r="6.9" fill="#d0aaa0"/>
<circle cx="493.1" cy="2064" r="6.9" fill="#c07266"/>
<circle cx="388.1" cy="2082.8" r="6.9" fill="#cfb2aa"/>
<circle cx="579.2" cy="2120.3" r="6.9" fill="#b04a38"/>
<circle cx="498.9" cy="2129.7" r="6.9" fill="#c0685a"/>
<circle cx="466" cy="1988.9" r="6.7" fill="#c07a70"/>
<rect x="296.7" y="1983.3" width="815.7" height="152" fill="none" stroke="#333" stroke-width="1.5"/>
<rect x="1112.4" y="1983.3" width="27.4" height="152" fill="#d9d9d9" stroke="#333" stroke-width="1.5"/>
<text transform="translate(1117.8 2059.6) rotate(90)" font-size="15.79" text-anchor="middle">HD</text>
<line x1="381.4" y1="2145" x2="381.4" y2="2296.2" stroke="#ebebeb" stroke-width="1.0"/>
<line x1="468.9" y1="2145" x2="468.9" y2="2296.2" stroke="#ebebeb" stroke-width="1.9"/>
<line x1="556.4" y1="2145" x2="556.4" y2="2296.2" stroke="#ebebeb" stroke-width="1.0"/>
<line x1="643.9" y1="2145" x2="643.9" y2="2296.2" stroke="#ebebeb" stroke-width="1.9"/>
<line x1="731.4" y1="2145" x2="731.4" y2="2296.2" stroke="#ebebeb" stroke-width="1.0"/>
<line x1="818.9" y1="2145" x2="818.9" y2="2296.2" stroke="#ebebeb" stroke-width="1.9"/>
<line x1="906.4" y1="2145" x2="906.4" y2="2296.2" stroke="#ebebeb" stroke-width="1.0"/>
<line x1="993.9" y1="2145" x2="993.9" y2="2296.2" stroke="#ebebeb" stroke-width="1.9"/>
<line x1="1081.4" y1="2145" x2="1081.4" y2="2296.2" stroke="#ebebeb" stroke-width="1.0"/>
<line x1="296.7" y1="2186.2" x2="1112.4" y2="2186.2" stroke="#ebebeb" stroke-width="1.9"/>
<line x1="296.7" y1="2255" x2="1112.4" y2="2255" stroke="#ebebeb" stroke-width="1.9"/>
<text x="286.2" y="2191.7" font-size="15.8" text-anchor="end">Nitrogen metabolism</text>
<line x1="292.3" y1="2186.2" x2="296.7" y2="2186.2" stroke="#333" stroke-width="1.2"/>
<text x="286.2" y="2260.4" font-size="15.8" text-anchor="end">Drug metabolism - cytochrome P450</text>
<line x1="292.3" y1="2255" x2="296.7" y2="2255" stroke="#333" stroke-width="1.2"/>
<circle cx="470.6" cy="2255" r="6.6" fill="#c07068"/>
<circle cx="822.4" cy="2186.2" r="3.6" fill="#c9aeaa"/>
<rect x="296.7" y="2145" width="815.7" height="151.2" fill="none" stroke="#333" stroke-width="1.5"/>
<rect x="1112.4" y="2145" width="27.4" height="151.2" fill="#d9d9d9" stroke="#333" stroke-width="1.5"/>
<text transform="translate(1117.8 2220.5) rotate(90)" font-size="15.79" text-anchor="middle">Meta.</text>
<line x1="381.4" y1="2305.8" x2="381.4" y2="2458" stroke="#ebebeb" stroke-width="1.0"/>
<line x1="468.9" y1="2305.8" x2="468.9" y2="2458" stroke="#ebebeb" stroke-width="1.9"/>
<line x1="556.4" y1="2305.8" x2="556.4" y2="2458" stroke="#ebebeb" stroke-width="1.0"/>
<line x1="643.9" y1="2305.8" x2="643.9" y2="2458" stroke="#ebebeb" stroke-width="1.9"/>
<line x1="731.4" y1="2305.8" x2="731.4" y2="2458" stroke="#ebebeb" stroke-width="1.0"/>
<line x1="818.9" y1="2305.8" x2="818.9" y2="2458" stroke="#ebebeb" stroke-width="1.9"/>
<line x1="906.4" y1="2305.8" x2="906.4" y2="2458" stroke="#ebebeb" stroke-width="1.0"/>
<line x1="993.9" y1="2305.8" x2="993.9" y2="2458" stroke="#ebebeb" stroke-width="1.9"/>
<line x1="1081.4" y1="2305.8" x2="1081.4" y2="2458" stroke="#ebebeb" stroke-width="1.0"/>
<line x1="296.7" y1="2318.5" x2="1112.4" y2="2318.5" stroke="#ebebeb" stroke-width="1.9"/>
<line x1="296.7" y1="2339.6" x2="1112.4" y2="2339.6" stroke="#ebebeb" stroke-width="1.9"/>
<line x1="296.7" y1="2360.8" x2="1112.4" y2="2360.8" stroke="#ebebeb" stroke-width="1.9"/>
<line x1="296.7" y1="2381.9" x2="1112.4" y2="2381.9" stroke="#ebebeb" stroke-width="1.9"/>
<line x1="296.7" y1="2403" x2="1112.4" y2="2403" stroke="#ebebeb" stroke-width="1.9"/>
<line x1="296.7" y1="2424.2" x2="1112.4" y2="2424.2" stroke="#ebebeb" stroke-width="1.9"/>
<line x1="296.7" y1="2445.3" x2="1112.4" y2="2445.3" stroke="#ebebeb" stroke-width="1.9"/>
<text x="286.2" y="2323.9" font-size="15.8" text-anchor="end">Toll-like receptor signaling pathway</text>
<line x1="292.3" y1="2318.5" x2="296.7" y2="2318.5" stroke="#333" stroke-width="1.2"/>
<text x="286.2" y="2345.1" font-size="15.8" text-anchor="end">NOD-like receptor signaling pathway</text>
<line x1="292.3" y1="2339.6" x2="296.7" y2="2339.6" stroke="#333" stroke-width="1.2"/>
<text x="286.2" y="2366.2" font-size="15.8" text-anchor="end">IL-17 signaling pathway</text>
<line x1="292.3" y1="2360.8" x2="296.7" y2="2360.8" stroke="#333" stroke-width="1.2"/>
<text x="286.2" y="2387.3" font-size="15.8" text-anchor="end">Hematopoietic cell lineage</text>
<line x1="292.3" y1="2381.9" x2="296.7" y2="2381.9" stroke="#333" stroke-width="1.2"/>
<text x="286.2" y="2408.5" font-size="15.8" text-anchor="end">Chemokin signaling pathway</text>
<line x1="292.3" y1="2403" x2="296.7" y2="2403" stroke="#333" stroke-width="1.2"/>
<text x="286.2" y="2429.6" font-size="15.8" text-anchor="end">B cell receptor signaling pathway</text>
<line x1="292.3" y1="2424.2" x2="296.7" y2="2424.2" stroke="#333" stroke-width="1.2"/>
<text x="286.2" y="2450.7" font-size="15.8" text-anchor="end">Antigen processing and presentation</text>
<line x1="292.3" y1="2445.3" x2="296.7" y2="2445.3" stroke="#333" stroke-width="1.2"/>
<circle cx="475.2" cy="2339.6" r="10.1" fill="#8b1208"/>
<circle cx="644.4" cy="2360.8" r="9.3" fill="#8e140a"/>
<circle cx="627.7" cy="2381.9" r="9.1" fill="#8e140a"/>
<circle cx="368.7" cy="2403" r="9.1" fill="#a53222"/>
<circle cx="360.5" cy="2318.5" r="6.6" fill="#cfcfcf"/>
<circle cx="451.3" cy="2424.2" r="6.6" fill="#c07a72"/>
<circle cx="385.4" cy="2445.3" r="6.6" fill="#d0b8b2"/>
<rect x="296.7" y="2305.8" width="815.7" height="152.2" fill="none" stroke="#333" stroke-width="1.5"/>
<rect x="1112.4" y="2305.8" width="27.4" height="152.2" fill="#d9d9d9" stroke="#333" stroke-width="1.5"/>
<text transform="translate(1117.8 2383.4) rotate(90)" font-size="15.79" text-anchor="middle">OS</text>
<line x1="468.9" y1="2458" x2="468.9" y2="2462" stroke="#333" stroke-width="1.2"/>
<text x="468.9" y="2479.1" font-size="15.8" text-anchor="middle">5.0</text>
<line x1="643.9" y1="2458" x2="643.9" y2="2462" stroke="#333" stroke-width="1.2"/>
<text x="643.9" y="2479.1" font-size="15.8" text-anchor="middle">7.5</text>
<line x1="818.9" y1="2458" x2="818.9" y2="2462" stroke="#333" stroke-width="1.2"/>
<text x="818.9" y="2479.1" font-size="15.8" text-anchor="middle">10.0</text>
<line x1="993.9" y1="2458" x2="993.9" y2="2462" stroke="#333" stroke-width="1.2"/>
<text x="993.9" y="2479.1" font-size="15.8" text-anchor="middle">12.5</text>
<text x="756.3" y="2497.5" font-size="16.1" text-anchor="middle">Enrichment Score</text>
<text x="1168.6" y="1870.1" font-size="15.8">Number</text>
<circle cx="1177.6" cy="1896.8" r="3.8" fill="#000"/>
<text x="1198" y="1906.4" font-size="15.8">1</text>
<circle cx="1177.6" cy="1923.3" r="7.1" fill="#000"/>
<text x="1198" y="1932.9" font-size="15.8">2</text>
<circle cx="1177.6" cy="1949.8" r="8.2" fill="#000"/>
<text x="1198" y="1959.4" font-size="15.8">3</text>
<circle cx="1177.6" cy="1976.3" r="9.4" fill="#000"/>
<text x="1198" y="1985.9" font-size="15.8">4</text>
<circle cx="1177.6" cy="2002.8" r="10.3" fill="#000"/>
<text x="1198" y="2012.4" font-size="15.8">5</text>
<circle cx="1177.6" cy="2029.3" r="11.1" fill="#000"/>
<text x="1198" y="2038.9" font-size="15.8">6</text>
<circle cx="1177.6" cy="2055.8" r="11.8" fill="#000"/>
<text x="1198" y="2065.4" font-size="15.8">7</text>
<text x="1168.6" y="2118.5" font-size="15.79">p value</text>
<defs><linearGradient id="pg" x1="0" y1="0" x2="0" y2="1"><stop offset="0" stop-color="#cdcdcd"/><stop offset="0.22" stop-color="#c8a09a"/><stop offset="0.48" stop-color="#b8645a"/><stop offset="0.74" stop-color="#a02a1e"/><stop offset="1" stop-color="#8b0804"/></linearGradient></defs>
<rect x="1165.2" y="2128.2" width="25.2" height="132.3" fill="url(#pg)"/>
<line x1="1165.2" y1="2157.6" x2="1170" y2="2157.6" stroke="#f4f4f4" stroke-width="1"/>
<line x1="1185.6" y1="2157.6" x2="1190.4" y2="2157.6" stroke="#f4f4f4" stroke-width="1"/>
<text x="1198" y="2167.4" font-size="15.8">0.09</text>
<line x1="1165.2" y1="2191.2" x2="1170" y2="2191.2" stroke="#f4f4f4" stroke-width="1"/>
<line x1="1185.6" y1="2191.2" x2="1190.4" y2="2191.2" stroke="#f4f4f4" stroke-width="1"/>
<text x="1198" y="2201" font-size="15.8">0.06</text>
<line x1="1165.2" y1="2224.8" x2="1170" y2="2224.8" stroke="#f4f4f4" stroke-width="1"/>
<line x1="1185.6" y1="2224.8" x2="1190.4" y2="2224.8" stroke="#f4f4f4" stroke-width="1"/>
<text x="1198" y="2234.6" font-size="15.8">0.03</text>
</svg></body></html>
